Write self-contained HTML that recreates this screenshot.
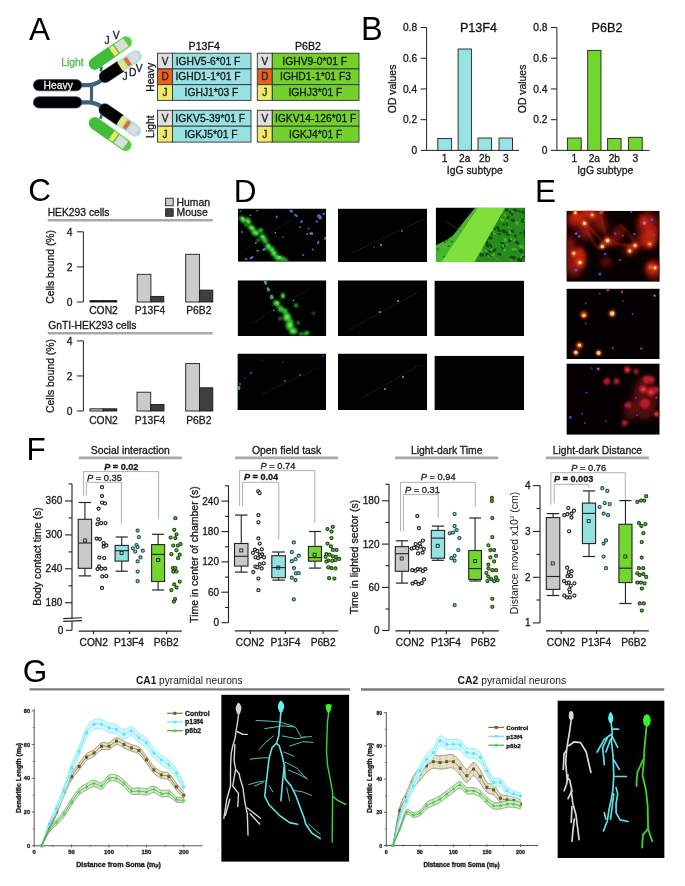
<!DOCTYPE html>
<html><head><meta charset="utf-8"><style>
html,body{margin:0;padding:0;background:#fff;}
body{width:685px;height:886px;overflow:hidden;}
svg{display:block;filter:blur(0.35px);}
text{font-family:"Liberation Sans", sans-serif;}
</style></head><body>
<svg width="685" height="886" viewBox="0 0 685 886">
<rect width="685" height="886" fill="#fff"/>
<text x="29" y="40.2" font-size="31.5" text-anchor="start" fill="#000">A</text>
<text x="28.2" y="201" font-size="31.5" text-anchor="start" fill="#000">C</text>
<text x="233.8" y="202.4" font-size="31.5" text-anchor="start" fill="#000">D</text>
<text x="535.1" y="202.4" font-size="31.5" text-anchor="start" fill="#000">E</text>
<text x="26.5" y="460" font-size="31.5" text-anchor="start" fill="#000">F</text>
<text x="22.8" y="682.2" font-size="31.5" text-anchor="start" fill="#000">G</text>
<text x="361" y="40" font-size="32.5" text-anchor="start" fill="#000">B</text>
<path d="M80 85.2 H88 Q95 85.2 101.5 80.3" fill="none" stroke="#3c6377" stroke-width="4.2"/>
<path d="M80 102.3 H88 Q95 102.3 101.5 106.6" fill="none" stroke="#3c6377" stroke-width="4.2"/>
<line x1="91.5" y1="85.2" x2="91.5" y2="102.3" stroke="#3c6377" stroke-width="3.2"/>
<line x1="101.7" y1="66.5" x2="100.8" y2="71.5" stroke="#3c6377" stroke-width="2.6"/>
<line x1="101.8" y1="114.4" x2="100.4" y2="118.8" stroke="#3c6377" stroke-width="2.6"/>
<rect x="33.4" y="79.6" width="48.4" height="11.2" rx="5.6" fill="#000" stroke="#2c4a5c" stroke-width="0.7"/>
<rect x="33.4" y="96.7" width="48.4" height="11.3" rx="5.6" fill="#000" stroke="#2c4a5c" stroke-width="0.7"/>
<text x="58.2" y="89.1" font-size="10.3" text-anchor="middle" fill="#f2f2f2" stroke="#f2f2f2" stroke-width="0.3">Heavy</text>
<g transform="translate(110.4 53) rotate(-34.4)"><rect x="-24.8" y="-6.0" width="49.6" height="12" rx="6.0" fill="#5acd3e"/><path d="M1.2 -6.0 H-18.8 A6.0 6.0 0 0 0 -18.8 6.0 H1.2 Z" fill="#42bd3a"/><rect x="1.8" y="-4.8" width="4.6" height="9.6" fill="#efea70"/><rect x="8.2" y="-4.7" width="10.4" height="9.4" fill="#dcdce0" stroke="#bfe6b0" stroke-width="0.5"/></g>
<g transform="translate(120.5 66.4) rotate(-33.6)"><rect x="-24.4" y="-6.0" width="48.8" height="12" rx="6.0" fill="#a6e3ec"/><path d="M0 -6.0 H-18.4 A6.0 6.0 0 0 0 -18.4 6.0 H0 Z" fill="#030303" stroke="#2a4658" stroke-width="0.5"/><rect x="-0.6" y="-4.8" width="5" height="9.6" fill="#ece86c"/><rect x="6.4" y="-4.5" width="4" height="9" fill="#ec6a1e"/><rect x="12" y="-4.4" width="8.8" height="8.8" fill="#dedde2" stroke="#c5d0d4" stroke-width="0.4"/></g>
<g transform="translate(120 120.1) rotate(34.6)"><rect x="-24.4" y="-6.0" width="48.8" height="12" rx="6.0" fill="#a6e3ec"/><path d="M0 -6.0 H-18.4 A6.0 6.0 0 0 0 -18.4 6.0 H0 Z" fill="#030303" stroke="#2a4658" stroke-width="0.5"/><rect x="-0.6" y="-4.8" width="5" height="9.6" fill="#ece86c"/><rect x="6.4" y="-4.5" width="4" height="9" fill="#ec6a1e"/><rect x="12" y="-4.4" width="8.8" height="8.8" fill="#dedde2" stroke="#c5d0d4" stroke-width="0.4"/></g>
<g transform="translate(110.2 134.2) rotate(35.4)"><rect x="-24.8" y="-6.0" width="49.6" height="12" rx="6.0" fill="#5acd3e"/><path d="M1.2 -6.0 H-18.8 A6.0 6.0 0 0 0 -18.8 6.0 H1.2 Z" fill="#42bd3a"/><rect x="1.8" y="-4.8" width="4.6" height="9.6" fill="#efea70"/><rect x="8.2" y="-4.7" width="10.4" height="9.4" fill="#dcdce0" stroke="#bfe6b0" stroke-width="0.5"/></g>
<text x="72.4" y="65.7" font-size="10.4" text-anchor="middle" fill="#4dbb4d" stroke="#4dbb4d" stroke-width="0.3">Light</text>
<text x="107.1" y="44" font-size="10.3" text-anchor="middle" fill="#222" stroke="#222" stroke-width="0.3">J</text>
<text x="116.1" y="38.8" font-size="10.3" text-anchor="middle" fill="#222" stroke="#222" stroke-width="0.3">V</text>
<text x="125" y="80.4" font-size="10.3" text-anchor="middle" fill="#222" stroke="#222" stroke-width="0.3">J</text>
<text x="132.6" y="76.4" font-size="10.3" text-anchor="middle" fill="#222" stroke="#222" stroke-width="0.3">D</text>
<text x="139.3" y="71.6" font-size="10.3" text-anchor="middle" fill="#222" stroke="#222" stroke-width="0.3">V</text>
<rect x="157.5" y="53.2" width="15" height="15.73" fill="#dfdfdf" stroke="#333" stroke-width="0.9"/>
<rect x="172.5" y="53.2" width="78.5" height="15.73" fill="#97e0e4" stroke="#333" stroke-width="0.9"/>
<text x="165.0" y="64.665" font-size="10" text-anchor="middle" fill="#222" stroke="#222" stroke-width="0.3">V</text>
<text x="208" y="64.765" font-size="10.3" text-anchor="middle" fill="#161616" stroke="#161616" stroke-width="0.3">IGHV5-6*01 F</text>
<rect x="157.5" y="68.93" width="15" height="15.73" fill="#e8621c" stroke="#333" stroke-width="0.9"/>
<rect x="172.5" y="68.93" width="78.5" height="15.73" fill="#97e0e4" stroke="#333" stroke-width="0.9"/>
<text x="165.0" y="80.395" font-size="10" text-anchor="middle" fill="#222" stroke="#222" stroke-width="0.3">D</text>
<text x="208" y="80.495" font-size="10.3" text-anchor="middle" fill="#161616" stroke="#161616" stroke-width="0.3">IGHD1-1*01 F</text>
<rect x="157.5" y="84.66000000000001" width="15" height="15.73" fill="#efea6c" stroke="#333" stroke-width="0.9"/>
<rect x="172.5" y="84.66000000000001" width="78.5" height="15.73" fill="#97e0e4" stroke="#333" stroke-width="0.9"/>
<text x="165.0" y="96.125" font-size="10" text-anchor="middle" fill="#222" stroke="#222" stroke-width="0.3">J</text>
<text x="211.5" y="96.22500000000001" font-size="10.3" text-anchor="middle" fill="#161616" stroke="#161616" stroke-width="0.3">IGHJ1*03 F</text>
<rect x="257.3" y="53.2" width="15" height="15.73" fill="#dfdfdf" stroke="#333" stroke-width="0.9"/>
<rect x="272.3" y="53.2" width="86.69999999999999" height="15.73" fill="#72d12b" stroke="#333" stroke-width="0.9"/>
<text x="264.8" y="64.665" font-size="10" text-anchor="middle" fill="#222" stroke="#222" stroke-width="0.3">V</text>
<text x="314.7" y="64.765" font-size="10.3" text-anchor="middle" fill="#161616" stroke="#161616" stroke-width="0.3">IGHV9-0*01 F</text>
<rect x="257.3" y="68.93" width="15" height="15.73" fill="#e8621c" stroke="#333" stroke-width="0.9"/>
<rect x="272.3" y="68.93" width="86.69999999999999" height="15.73" fill="#72d12b" stroke="#333" stroke-width="0.9"/>
<text x="264.8" y="80.395" font-size="10" text-anchor="middle" fill="#222" stroke="#222" stroke-width="0.3">D</text>
<text x="315.5" y="80.495" font-size="10.3" text-anchor="middle" fill="#161616" stroke="#161616" stroke-width="0.3">IGHD1-1*01 F3</text>
<rect x="257.3" y="84.66000000000001" width="15" height="15.73" fill="#efea6c" stroke="#333" stroke-width="0.9"/>
<rect x="272.3" y="84.66000000000001" width="86.69999999999999" height="15.73" fill="#72d12b" stroke="#333" stroke-width="0.9"/>
<text x="264.8" y="96.125" font-size="10" text-anchor="middle" fill="#222" stroke="#222" stroke-width="0.3">J</text>
<text x="315.4" y="96.22500000000001" font-size="10.3" text-anchor="middle" fill="#161616" stroke="#161616" stroke-width="0.3">IGHJ3*01 F</text>
<rect x="157.5" y="110.3" width="15" height="15.9" fill="#dfdfdf" stroke="#333" stroke-width="0.9"/>
<rect x="172.5" y="110.3" width="78.5" height="15.9" fill="#97e0e4" stroke="#333" stroke-width="0.9"/>
<text x="165.0" y="121.85" font-size="10" text-anchor="middle" fill="#222" stroke="#222" stroke-width="0.3">V</text>
<text x="210.2" y="121.95" font-size="10.3" text-anchor="middle" fill="#161616" stroke="#161616" stroke-width="0.3">IGKV5-39*01 F</text>
<rect x="157.5" y="126.2" width="15" height="15.9" fill="#efea6c" stroke="#333" stroke-width="0.9"/>
<rect x="172.5" y="126.2" width="78.5" height="15.9" fill="#97e0e4" stroke="#333" stroke-width="0.9"/>
<text x="165.0" y="137.75" font-size="10" text-anchor="middle" fill="#222" stroke="#222" stroke-width="0.3">J</text>
<text x="211" y="137.85" font-size="10.3" text-anchor="middle" fill="#161616" stroke="#161616" stroke-width="0.3">IGKJ5*01 F</text>
<rect x="257.3" y="110.3" width="15" height="15.9" fill="#dfdfdf" stroke="#333" stroke-width="0.9"/>
<rect x="272.3" y="110.3" width="86.69999999999999" height="15.9" fill="#72d12b" stroke="#333" stroke-width="0.9"/>
<text x="264.8" y="121.85" font-size="10" text-anchor="middle" fill="#222" stroke="#222" stroke-width="0.3">V</text>
<text x="315.65" y="121.95" font-size="10.3" text-anchor="middle" fill="#161616" stroke="#161616" stroke-width="0.3">IGKV14-126*01 F</text>
<rect x="257.3" y="126.2" width="15" height="15.9" fill="#efea6c" stroke="#333" stroke-width="0.9"/>
<rect x="272.3" y="126.2" width="86.69999999999999" height="15.9" fill="#72d12b" stroke="#333" stroke-width="0.9"/>
<text x="264.8" y="137.75" font-size="10" text-anchor="middle" fill="#222" stroke="#222" stroke-width="0.3">J</text>
<text x="315.65" y="137.85" font-size="10.3" text-anchor="middle" fill="#161616" stroke="#161616" stroke-width="0.3">IGKJ4*01 F</text>
<text x="204.2" y="49.8" font-size="10.6" text-anchor="middle" fill="#111" stroke="#111" stroke-width="0.3">P13F4</text>
<text x="308" y="49.8" font-size="10.6" text-anchor="middle" fill="#111" stroke="#111" stroke-width="0.3">P6B2</text>
<text x="154.2" y="77.2" font-size="10.2" text-anchor="middle" fill="#111" stroke="#111" stroke-width="0.3" transform="rotate(-90 154.2 77.2)">Heavy</text>
<text x="154.3" y="126.6" font-size="10.4" text-anchor="middle" fill="#111" stroke="#111" stroke-width="0.3" transform="rotate(-90 154.3 126.6)">Light</text>
<line x1="426.6" y1="27.5" x2="426.6" y2="150.4" stroke="#222" stroke-width="1"/>
<line x1="426.6" y1="150.4" x2="519" y2="150.4" stroke="#222" stroke-width="1"/>
<line x1="420.6" y1="150.4" x2="426.6" y2="150.4" stroke="#222" stroke-width="1"/>
<text x="417.1" y="154.0" font-size="10.2" text-anchor="end" fill="#1a1a1a" stroke="#1a1a1a" stroke-width="0.3">0</text>
<line x1="420.6" y1="119.67500000000001" x2="426.6" y2="119.67500000000001" stroke="#222" stroke-width="1"/>
<text x="417.1" y="123.275" font-size="10.2" text-anchor="end" fill="#1a1a1a" stroke="#1a1a1a" stroke-width="0.3">0.2</text>
<line x1="420.6" y1="88.95" x2="426.6" y2="88.95" stroke="#222" stroke-width="1"/>
<text x="417.1" y="92.55" font-size="10.2" text-anchor="end" fill="#1a1a1a" stroke="#1a1a1a" stroke-width="0.3">0.4</text>
<line x1="420.6" y1="58.224999999999994" x2="426.6" y2="58.224999999999994" stroke="#222" stroke-width="1"/>
<text x="417.1" y="61.824999999999996" font-size="10.2" text-anchor="end" fill="#1a1a1a" stroke="#1a1a1a" stroke-width="0.3">0.6</text>
<line x1="420.6" y1="27.5" x2="426.6" y2="27.5" stroke="#222" stroke-width="1"/>
<text x="417.1" y="31.1" font-size="10.2" text-anchor="end" fill="#1a1a1a" stroke="#1a1a1a" stroke-width="0.3">0.8</text>
<rect x="437.8" y="138.5" width="13.800000000000011" height="11.900000000000006" fill="#97e2e2" stroke="#222" stroke-width="0.9"/>
<text x="444.70000000000005" y="161.8" font-size="10.2" text-anchor="middle" fill="#1a1a1a" stroke="#1a1a1a" stroke-width="0.3">1</text>
<rect x="458.1" y="49" width="13.299999999999955" height="101.4" fill="#97e2e2" stroke="#222" stroke-width="0.9"/>
<text x="464.75" y="161.8" font-size="10.2" text-anchor="middle" fill="#1a1a1a" stroke="#1a1a1a" stroke-width="0.3">2a</text>
<rect x="478" y="138" width="13.5" height="12.400000000000006" fill="#97e2e2" stroke="#222" stroke-width="0.9"/>
<text x="484.75" y="161.8" font-size="10.2" text-anchor="middle" fill="#1a1a1a" stroke="#1a1a1a" stroke-width="0.3">2b</text>
<rect x="499" y="138" width="13.5" height="12.400000000000006" fill="#97e2e2" stroke="#222" stroke-width="0.9"/>
<text x="505.75" y="161.8" font-size="10.2" text-anchor="middle" fill="#1a1a1a" stroke="#1a1a1a" stroke-width="0.3">3</text>
<text x="478.5" y="32.2" font-size="12.6" text-anchor="middle" fill="#111" stroke="#111" stroke-width="0.3">P13F4</text>
<text x="474.8" y="173.6" font-size="10.4" text-anchor="middle" fill="#1a1a1a" stroke="#1a1a1a" stroke-width="0.3">IgG subtype</text>
<text x="395.6" y="88.9" font-size="10.4" text-anchor="middle" fill="#1a1a1a" stroke="#1a1a1a" stroke-width="0.3" transform="rotate(-90 395.6 88.9)">OD values</text>
<line x1="556.9" y1="27.5" x2="556.9" y2="150.4" stroke="#222" stroke-width="1"/>
<line x1="556.9" y1="150.4" x2="649.6" y2="150.4" stroke="#222" stroke-width="1"/>
<line x1="550.9" y1="150.4" x2="556.9" y2="150.4" stroke="#222" stroke-width="1"/>
<text x="547.4" y="154.0" font-size="10.2" text-anchor="end" fill="#1a1a1a" stroke="#1a1a1a" stroke-width="0.3">0</text>
<line x1="550.9" y1="119.67500000000001" x2="556.9" y2="119.67500000000001" stroke="#222" stroke-width="1"/>
<text x="547.4" y="123.275" font-size="10.2" text-anchor="end" fill="#1a1a1a" stroke="#1a1a1a" stroke-width="0.3">0.2</text>
<line x1="550.9" y1="88.95" x2="556.9" y2="88.95" stroke="#222" stroke-width="1"/>
<text x="547.4" y="92.55" font-size="10.2" text-anchor="end" fill="#1a1a1a" stroke="#1a1a1a" stroke-width="0.3">0.4</text>
<line x1="550.9" y1="58.224999999999994" x2="556.9" y2="58.224999999999994" stroke="#222" stroke-width="1"/>
<text x="547.4" y="61.824999999999996" font-size="10.2" text-anchor="end" fill="#1a1a1a" stroke="#1a1a1a" stroke-width="0.3">0.6</text>
<line x1="550.9" y1="27.5" x2="556.9" y2="27.5" stroke="#222" stroke-width="1"/>
<text x="547.4" y="31.1" font-size="10.2" text-anchor="end" fill="#1a1a1a" stroke="#1a1a1a" stroke-width="0.3">0.8</text>
<rect x="567.4" y="138" width="13.800000000000068" height="12.400000000000006" fill="#72d62c" stroke="#222" stroke-width="0.9"/>
<text x="574.3" y="161.8" font-size="10.2" text-anchor="middle" fill="#1a1a1a" stroke="#1a1a1a" stroke-width="0.3">1</text>
<rect x="587.7" y="50.4" width="13.299999999999955" height="100.0" fill="#72d62c" stroke="#222" stroke-width="0.9"/>
<text x="594.35" y="161.8" font-size="10.2" text-anchor="middle" fill="#1a1a1a" stroke="#1a1a1a" stroke-width="0.3">2a</text>
<rect x="607.6" y="138.5" width="13.5" height="11.900000000000006" fill="#72d62c" stroke="#222" stroke-width="0.9"/>
<text x="614.35" y="161.8" font-size="10.2" text-anchor="middle" fill="#1a1a1a" stroke="#1a1a1a" stroke-width="0.3">2b</text>
<rect x="628.6" y="137.3" width="13.600000000000023" height="13.099999999999994" fill="#72d62c" stroke="#222" stroke-width="0.9"/>
<text x="635.4000000000001" y="161.8" font-size="10.2" text-anchor="middle" fill="#1a1a1a" stroke="#1a1a1a" stroke-width="0.3">3</text>
<text x="607" y="32.2" font-size="12.6" text-anchor="middle" fill="#111" stroke="#111" stroke-width="0.3">P6B2</text>
<text x="605.25" y="173.6" font-size="10.4" text-anchor="middle" fill="#1a1a1a" stroke="#1a1a1a" stroke-width="0.3">IgG subtype</text>
<text x="525.9" y="88.9" font-size="10.4" text-anchor="middle" fill="#1a1a1a" stroke="#1a1a1a" stroke-width="0.3" transform="rotate(-90 525.9 88.9)">OD values</text>
<line x1="83.4" y1="231.8" x2="83.4" y2="302" stroke="#222" stroke-width="1"/>
<line x1="76.9" y1="231.8" x2="83.4" y2="231.8" stroke="#222" stroke-width="1"/>
<text x="72.4" y="235.5" font-size="10.3" text-anchor="end" fill="#1a1a1a" stroke="#1a1a1a" stroke-width="0.3">4</text>
<line x1="76.9" y1="266.9" x2="83.4" y2="266.9" stroke="#222" stroke-width="1"/>
<text x="72.4" y="270.59999999999997" font-size="10.3" text-anchor="end" fill="#1a1a1a" stroke="#1a1a1a" stroke-width="0.3">2</text>
<line x1="76.9" y1="302" x2="83.4" y2="302" stroke="#222" stroke-width="1"/>
<text x="72.4" y="305.7" font-size="10.3" text-anchor="end" fill="#1a1a1a" stroke="#1a1a1a" stroke-width="0.3">0</text>
<rect x="90" y="300.6" width="13.200000000000003" height="1.3999999999999773" fill="#111" stroke="#1a1a1a" stroke-width="0.9"/>
<rect x="103.2" y="300.6" width="13.599999999999994" height="1.3999999999999773" fill="#111" stroke="#1a1a1a" stroke-width="0.9"/>
<rect x="137.2" y="274.3" width="13.700000000000017" height="27.69999999999999" fill="#cbcbcb" stroke="#1a1a1a" stroke-width="0.9"/>
<rect x="150.9" y="296.4" width="12.900000000000006" height="5.600000000000023" fill="#3f3f3f" stroke="#1a1a1a" stroke-width="0.9"/>
<rect x="185.7" y="254.3" width="13.900000000000006" height="47.69999999999999" fill="#cbcbcb" stroke="#1a1a1a" stroke-width="0.9"/>
<rect x="199.6" y="290.1" width="13.200000000000017" height="11.899999999999977" fill="#3f3f3f" stroke="#1a1a1a" stroke-width="0.9"/>
<text x="103.5" y="314" font-size="10.3" text-anchor="middle" fill="#1a1a1a" stroke="#1a1a1a" stroke-width="0.3">CON2</text>
<text x="150" y="314" font-size="10.3" text-anchor="middle" fill="#1a1a1a" stroke="#1a1a1a" stroke-width="0.3">P13F4</text>
<text x="198.8" y="314" font-size="10.3" text-anchor="middle" fill="#1a1a1a" stroke="#1a1a1a" stroke-width="0.3">P6B2</text>
<text x="54.400000000000006" y="266.9" font-size="10.4" text-anchor="middle" fill="#1a1a1a" stroke="#1a1a1a" stroke-width="0.3" transform="rotate(-90 54.400000000000006 266.9)">Cells bound (%)</text>
<line x1="83.4" y1="340.9" x2="83.4" y2="411" stroke="#222" stroke-width="1"/>
<line x1="76.9" y1="340.9" x2="83.4" y2="340.9" stroke="#222" stroke-width="1"/>
<text x="72.4" y="344.59999999999997" font-size="10.3" text-anchor="end" fill="#1a1a1a" stroke="#1a1a1a" stroke-width="0.3">4</text>
<line x1="76.9" y1="375.95" x2="83.4" y2="375.95" stroke="#222" stroke-width="1"/>
<text x="72.4" y="379.65" font-size="10.3" text-anchor="end" fill="#1a1a1a" stroke="#1a1a1a" stroke-width="0.3">2</text>
<line x1="76.9" y1="411" x2="83.4" y2="411" stroke="#222" stroke-width="1"/>
<text x="72.4" y="414.7" font-size="10.3" text-anchor="end" fill="#1a1a1a" stroke="#1a1a1a" stroke-width="0.3">0</text>
<rect x="90" y="408.8" width="13.200000000000003" height="2.1999999999999886" fill="#cbcbcb" stroke="#1a1a1a" stroke-width="0.9"/>
<rect x="103.2" y="408.8" width="13.599999999999994" height="2.1999999999999886" fill="#3f3f3f" stroke="#1a1a1a" stroke-width="0.9"/>
<rect x="137" y="392.2" width="13.699999999999989" height="18.80000000000001" fill="#cbcbcb" stroke="#1a1a1a" stroke-width="0.9"/>
<rect x="150.7" y="404.5" width="13.300000000000011" height="6.5" fill="#3f3f3f" stroke="#1a1a1a" stroke-width="0.9"/>
<rect x="185.7" y="363.6" width="13.900000000000006" height="47.39999999999998" fill="#cbcbcb" stroke="#1a1a1a" stroke-width="0.9"/>
<rect x="199.6" y="387.8" width="13.200000000000017" height="23.19999999999999" fill="#3f3f3f" stroke="#1a1a1a" stroke-width="0.9"/>
<text x="103.5" y="424.2" font-size="10.3" text-anchor="middle" fill="#1a1a1a" stroke="#1a1a1a" stroke-width="0.3">CON2</text>
<text x="150" y="424.2" font-size="10.3" text-anchor="middle" fill="#1a1a1a" stroke="#1a1a1a" stroke-width="0.3">P13F4</text>
<text x="198.8" y="424.2" font-size="10.3" text-anchor="middle" fill="#1a1a1a" stroke="#1a1a1a" stroke-width="0.3">P6B2</text>
<text x="54.400000000000006" y="375.95" font-size="10.4" text-anchor="middle" fill="#1a1a1a" stroke="#1a1a1a" stroke-width="0.3" transform="rotate(-90 54.400000000000006 375.95)">Cells bound (%)</text>
<text x="47.7" y="216" font-size="10.3" text-anchor="start" fill="#1a1a1a" stroke="#1a1a1a" stroke-width="0.3">HEK293 cells</text>
<text x="48.3" y="328.9" font-size="10.3" text-anchor="start" fill="#1a1a1a" stroke="#1a1a1a" stroke-width="0.3">GnTI-HEK293 cells</text>
<line x1="47.7" y1="220.3" x2="212.7" y2="220.3" stroke="#a9a9a9" stroke-width="2.6"/>
<line x1="47.7" y1="333.2" x2="212.7" y2="333.2" stroke="#a9a9a9" stroke-width="2.6"/>
<rect x="165.6" y="198.2" width="7.6" height="7.6" fill="#cbcbcb" stroke="#222" stroke-width="0.9"/>
<rect x="165.6" y="208.7" width="7.6" height="7.6" fill="#3f3f3f" stroke="#222" stroke-width="0.9"/>
<text x="176.5" y="205.5" font-size="10.4" text-anchor="start" fill="#1a1a1a" stroke="#1a1a1a" stroke-width="0.3">Human</text>
<text x="176.5" y="216" font-size="10.4" text-anchor="start" fill="#1a1a1a" stroke="#1a1a1a" stroke-width="0.3">Mouse</text>
<text x="130.3" y="454.1" font-size="10.4" text-anchor="middle" fill="#1a1a1a" stroke="#1a1a1a" stroke-width="0.3">Social interaction</text>
<line x1="78.8" y1="457.9" x2="181.8" y2="457.9" stroke="#a9a9a9" stroke-width="2.6"/>
<text x="104.2" y="469.9" font-size="9.1" fill="#1a1a1a" stroke="#1a1a1a" stroke-width="0.3" font-weight="bold"><tspan font-style="italic">P</tspan> = 0.02</text>
<text x="87" y="480.6" font-size="9.3" fill="#1a1a1a" stroke="#1a1a1a" stroke-width="0.3" font-weight="normal"><tspan font-style="italic">P</tspan> = 0.35</text>
<path d="M83.6 495.8 V471.6 H158.6 V519.1" fill="none" stroke="#a6a6a6" stroke-width="0.9"/>
<path d="M86.4 495.8 V482.3 H121.4 V523.8" fill="none" stroke="#a6a6a6" stroke-width="0.9"/>
<line x1="72" y1="483.7" x2="72" y2="618.2" stroke="#222" stroke-width="1.1"/>
<line x1="72" y1="621.3" x2="72" y2="630.3" stroke="#222" stroke-width="1.1"/>
<line x1="65" y1="501" x2="72" y2="501" stroke="#222" stroke-width="1.1"/>
<text x="62.3" y="504.4" font-size="10.0" text-anchor="end" fill="#1a1a1a" stroke="#1a1a1a" stroke-width="0.3">360</text>
<line x1="65" y1="534.9" x2="72" y2="534.9" stroke="#222" stroke-width="1.1"/>
<text x="62.3" y="538.3" font-size="10.0" text-anchor="end" fill="#1a1a1a" stroke="#1a1a1a" stroke-width="0.3">300</text>
<line x1="65" y1="568.8" x2="72" y2="568.8" stroke="#222" stroke-width="1.1"/>
<text x="62.3" y="572.1999999999999" font-size="10.0" text-anchor="end" fill="#1a1a1a" stroke="#1a1a1a" stroke-width="0.3">240</text>
<line x1="65" y1="602.7" x2="72" y2="602.7" stroke="#222" stroke-width="1.1"/>
<text x="62.3" y="606.1" font-size="10.0" text-anchor="end" fill="#1a1a1a" stroke="#1a1a1a" stroke-width="0.3">180</text>
<line x1="68.5" y1="483.9" x2="72" y2="483.9" stroke="#222" stroke-width="1.1"/>
<line x1="68.5" y1="517.9" x2="72" y2="517.9" stroke="#222" stroke-width="1.1"/>
<line x1="68.5" y1="551.9" x2="72" y2="551.9" stroke="#222" stroke-width="1.1"/>
<line x1="68.5" y1="585.8" x2="72" y2="585.8" stroke="#222" stroke-width="1.1"/>
<line x1="65.8" y1="630.3" x2="72" y2="630.3" stroke="#222" stroke-width="1.1"/>
<text x="63.3" y="633.7" font-size="10.0" text-anchor="end" fill="#1a1a1a" stroke="#1a1a1a" stroke-width="0.3">0</text>
<line x1="63.2" y1="618.6" x2="82" y2="617.8" stroke="#222" stroke-width="1.1"/>
<line x1="63.2" y1="621.4" x2="82" y2="620.6" stroke="#222" stroke-width="1.1"/>
<line x1="78.6" y1="631.1" x2="181.8" y2="631.1" stroke="#222" stroke-width="1.1"/>
<line x1="93.5" y1="631.1" x2="93.5" y2="634.1" stroke="#222" stroke-width="1.1"/>
<line x1="129.7" y1="631.1" x2="129.7" y2="634.1" stroke="#222" stroke-width="1.1"/>
<line x1="166.6" y1="631.1" x2="166.6" y2="634.1" stroke="#222" stroke-width="1.1"/>
<text x="93.7" y="645.9" font-size="10.2" text-anchor="middle" fill="#1a1a1a" stroke="#1a1a1a" stroke-width="0.3">CON2</text>
<text x="129" y="645.9" font-size="10.2" text-anchor="middle" fill="#1a1a1a" stroke="#1a1a1a" stroke-width="0.3">P13F4</text>
<text x="166.2" y="645.9" font-size="10.2" text-anchor="middle" fill="#1a1a1a" stroke="#1a1a1a" stroke-width="0.3">P6B2</text>
<text x="41" y="556.5" font-size="10.5" text-anchor="middle" fill="#1a1a1a" stroke="#1a1a1a" stroke-width="0.3" transform="rotate(-90 41 556.5)">Body contact time (s)</text>
<line x1="84.9" y1="502.5" x2="84.9" y2="519.3" stroke="#222" stroke-width="1.1"/>
<line x1="84.9" y1="568.3" x2="84.9" y2="575.9" stroke="#222" stroke-width="1.1"/>
<line x1="78.7" y1="502.5" x2="91.1" y2="502.5" stroke="#222" stroke-width="1.2"/>
<line x1="78.7" y1="575.9" x2="91.1" y2="575.9" stroke="#222" stroke-width="1.2"/>
<rect x="78.2" y="519.3" width="13.399999999999991" height="49.0" fill="#c9c9c9" stroke="#222" stroke-width="1.1"/>
<line x1="78.2" y1="543" x2="91.6" y2="543" stroke="#222" stroke-width="1.1"/>
<rect x="83.6" y="539.0" width="3" height="3" fill="none" stroke="#222" stroke-width="0.9"/>
<line x1="121.7" y1="537" x2="121.7" y2="545.4" stroke="#222" stroke-width="1.1"/>
<line x1="121.7" y1="561.1" x2="121.7" y2="571.2" stroke="#222" stroke-width="1.1"/>
<line x1="115.6" y1="537" x2="127.80000000000001" y2="537" stroke="#222" stroke-width="1.2"/>
<line x1="115.6" y1="571.2" x2="127.80000000000001" y2="571.2" stroke="#222" stroke-width="1.2"/>
<rect x="115.1" y="545.4" width="13.200000000000017" height="15.700000000000045" fill="#92e2e0" stroke="#222" stroke-width="1.1"/>
<line x1="115.1" y1="550.7" x2="128.3" y2="550.7" stroke="#222" stroke-width="1.1"/>
<rect x="120.1" y="551.6" width="3" height="3" fill="none" stroke="#222" stroke-width="0.9"/>
<line x1="158.1" y1="534.3" x2="158.1" y2="544.6" stroke="#222" stroke-width="1.1"/>
<line x1="158.1" y1="581.5" x2="158.1" y2="590" stroke="#222" stroke-width="1.1"/>
<line x1="152.1" y1="534.3" x2="164.1" y2="534.3" stroke="#222" stroke-width="1.2"/>
<line x1="152.1" y1="590" x2="164.1" y2="590" stroke="#222" stroke-width="1.2"/>
<rect x="151.6" y="544.6" width="13.0" height="36.89999999999998" fill="#72d62c" stroke="#222" stroke-width="1.1"/>
<line x1="151.6" y1="554.4" x2="164.6" y2="554.4" stroke="#222" stroke-width="1.1"/>
<rect x="156.7" y="558.5" width="3" height="3" fill="none" stroke="#222" stroke-width="0.9"/>
<circle cx="102" cy="487.2" r="1.55" fill="#ffffff" stroke="#1e1e1e" stroke-width="1.15"/>
<circle cx="102" cy="496.1" r="1.55" fill="#ffffff" stroke="#1e1e1e" stroke-width="1.15"/>
<circle cx="102" cy="502.5" r="1.55" fill="#ffffff" stroke="#1e1e1e" stroke-width="1.15"/>
<circle cx="105" cy="503.4" r="1.55" fill="#ffffff" stroke="#1e1e1e" stroke-width="1.15"/>
<circle cx="98.6" cy="508.6" r="1.55" fill="#ffffff" stroke="#1e1e1e" stroke-width="1.15"/>
<circle cx="98.3" cy="519.3" r="1.55" fill="#ffffff" stroke="#1e1e1e" stroke-width="1.15"/>
<circle cx="97.5" cy="524.2" r="1.55" fill="#ffffff" stroke="#1e1e1e" stroke-width="1.15"/>
<circle cx="101.2" cy="523" r="1.55" fill="#ffffff" stroke="#1e1e1e" stroke-width="1.15"/>
<circle cx="105.5" cy="523" r="1.55" fill="#ffffff" stroke="#1e1e1e" stroke-width="1.15"/>
<circle cx="96.7" cy="538.6" r="1.55" fill="#ffffff" stroke="#1e1e1e" stroke-width="1.15"/>
<circle cx="99.9" cy="539.1" r="1.55" fill="#ffffff" stroke="#1e1e1e" stroke-width="1.15"/>
<circle cx="103.6" cy="543" r="1.55" fill="#ffffff" stroke="#1e1e1e" stroke-width="1.15"/>
<circle cx="106.3" cy="545.4" r="1.55" fill="#ffffff" stroke="#1e1e1e" stroke-width="1.15"/>
<circle cx="103.6" cy="546.6" r="1.55" fill="#ffffff" stroke="#1e1e1e" stroke-width="1.15"/>
<circle cx="99.4" cy="557.6" r="1.55" fill="#ffffff" stroke="#1e1e1e" stroke-width="1.15"/>
<circle cx="104.2" cy="558" r="1.55" fill="#ffffff" stroke="#1e1e1e" stroke-width="1.15"/>
<circle cx="99.1" cy="566.4" r="1.55" fill="#ffffff" stroke="#1e1e1e" stroke-width="1.15"/>
<circle cx="97.5" cy="569.1" r="1.55" fill="#ffffff" stroke="#1e1e1e" stroke-width="1.15"/>
<circle cx="101.5" cy="568.8" r="1.55" fill="#ffffff" stroke="#1e1e1e" stroke-width="1.15"/>
<circle cx="105.2" cy="568.6" r="1.55" fill="#ffffff" stroke="#1e1e1e" stroke-width="1.15"/>
<circle cx="102.3" cy="576.4" r="1.55" fill="#ffffff" stroke="#1e1e1e" stroke-width="1.15"/>
<circle cx="106.3" cy="576" r="1.55" fill="#ffffff" stroke="#1e1e1e" stroke-width="1.15"/>
<circle cx="102" cy="587.9" r="1.55" fill="#ffffff" stroke="#1e1e1e" stroke-width="1.15"/>
<circle cx="137.6" cy="530.6" r="1.55" fill="#8fdcd6" stroke="#214f4a" stroke-width="1.15"/>
<circle cx="138.9" cy="537" r="1.55" fill="#8fdcd6" stroke="#214f4a" stroke-width="1.15"/>
<circle cx="136.5" cy="545" r="1.55" fill="#8fdcd6" stroke="#214f4a" stroke-width="1.15"/>
<circle cx="132.8" cy="548.3" r="1.55" fill="#8fdcd6" stroke="#214f4a" stroke-width="1.15"/>
<circle cx="137.6" cy="547.1" r="1.55" fill="#8fdcd6" stroke="#214f4a" stroke-width="1.15"/>
<circle cx="135.2" cy="551.5" r="1.55" fill="#8fdcd6" stroke="#214f4a" stroke-width="1.15"/>
<circle cx="142.8" cy="550.7" r="1.55" fill="#8fdcd6" stroke="#214f4a" stroke-width="1.15"/>
<circle cx="140.5" cy="557.4" r="1.55" fill="#8fdcd6" stroke="#214f4a" stroke-width="1.15"/>
<circle cx="137.6" cy="561.4" r="1.55" fill="#8fdcd6" stroke="#214f4a" stroke-width="1.15"/>
<circle cx="137.6" cy="571.5" r="1.55" fill="#8fdcd6" stroke="#214f4a" stroke-width="1.15"/>
<circle cx="137.6" cy="581.2" r="1.55" fill="#8fdcd6" stroke="#214f4a" stroke-width="1.15"/>
<circle cx="175.4" cy="518.2" r="1.55" fill="#62c43a" stroke="#214a16" stroke-width="1.15"/>
<circle cx="174.2" cy="529.8" r="1.55" fill="#62c43a" stroke="#214a16" stroke-width="1.15"/>
<circle cx="176.5" cy="534.3" r="1.55" fill="#62c43a" stroke="#214a16" stroke-width="1.15"/>
<circle cx="170.6" cy="537.5" r="1.55" fill="#62c43a" stroke="#214a16" stroke-width="1.15"/>
<circle cx="175.4" cy="538.1" r="1.55" fill="#62c43a" stroke="#214a16" stroke-width="1.15"/>
<circle cx="173.3" cy="545.5" r="1.55" fill="#62c43a" stroke="#214a16" stroke-width="1.15"/>
<circle cx="177.8" cy="545.5" r="1.55" fill="#62c43a" stroke="#214a16" stroke-width="1.15"/>
<circle cx="180.5" cy="544.2" r="1.55" fill="#62c43a" stroke="#214a16" stroke-width="1.15"/>
<circle cx="176.5" cy="550.3" r="1.55" fill="#62c43a" stroke="#214a16" stroke-width="1.15"/>
<circle cx="179.7" cy="554.7" r="1.55" fill="#62c43a" stroke="#214a16" stroke-width="1.15"/>
<circle cx="171.4" cy="554.2" r="1.55" fill="#62c43a" stroke="#214a16" stroke-width="1.15"/>
<circle cx="178.1" cy="558.2" r="1.55" fill="#62c43a" stroke="#214a16" stroke-width="1.15"/>
<circle cx="173" cy="568" r="1.55" fill="#62c43a" stroke="#214a16" stroke-width="1.15"/>
<circle cx="175.4" cy="568" r="1.55" fill="#62c43a" stroke="#214a16" stroke-width="1.15"/>
<circle cx="173.3" cy="571.5" r="1.55" fill="#62c43a" stroke="#214a16" stroke-width="1.15"/>
<circle cx="176.5" cy="571.5" r="1.55" fill="#62c43a" stroke="#214a16" stroke-width="1.15"/>
<circle cx="179.7" cy="581.5" r="1.55" fill="#62c43a" stroke="#214a16" stroke-width="1.15"/>
<circle cx="174.2" cy="584.4" r="1.55" fill="#62c43a" stroke="#214a16" stroke-width="1.15"/>
<circle cx="176.5" cy="587.6" r="1.55" fill="#62c43a" stroke="#214a16" stroke-width="1.15"/>
<circle cx="171.4" cy="590" r="1.55" fill="#62c43a" stroke="#214a16" stroke-width="1.15"/>
<circle cx="175.1" cy="599.1" r="1.55" fill="#62c43a" stroke="#214a16" stroke-width="1.15"/>
<circle cx="173.9" cy="601.6" r="1.55" fill="#62c43a" stroke="#214a16" stroke-width="1.15"/>
<text x="286.6" y="454.1" font-size="10.4" text-anchor="middle" fill="#1a1a1a" stroke="#1a1a1a" stroke-width="0.3">Open field task</text>
<line x1="235.1" y1="457.9" x2="338.1" y2="457.9" stroke="#a9a9a9" stroke-width="2.6"/>
<text x="260.5" y="469.2" font-size="9.3" fill="#1a1a1a" stroke="#1a1a1a" stroke-width="0.3" font-weight="normal"><tspan font-style="italic">P</tspan> = 0.74</text>
<text x="244" y="479.8" font-size="9.1" fill="#1a1a1a" stroke="#1a1a1a" stroke-width="0.3" font-weight="bold"><tspan font-style="italic">P</tspan> = 0.04</text>
<path d="M239.6 505.8 V470.6 H314.8 V523" fill="none" stroke="#a6a6a6" stroke-width="0.9"/>
<path d="M242.5 505.8 V482.3 H278.8 V539.2" fill="none" stroke="#a6a6a6" stroke-width="0.9"/>
<line x1="228.5" y1="485.5" x2="228.5" y2="622.7" stroke="#222" stroke-width="1.1"/>
<line x1="221.5" y1="501.1" x2="228.5" y2="501.1" stroke="#222" stroke-width="1.1"/>
<text x="219.0" y="504.5" font-size="10.0" text-anchor="end" fill="#1a1a1a" stroke="#1a1a1a" stroke-width="0.3">240</text>
<line x1="221.5" y1="531.6" x2="228.5" y2="531.6" stroke="#222" stroke-width="1.1"/>
<text x="219.0" y="535.0" font-size="10.0" text-anchor="end" fill="#1a1a1a" stroke="#1a1a1a" stroke-width="0.3">180</text>
<line x1="221.5" y1="561.9" x2="228.5" y2="561.9" stroke="#222" stroke-width="1.1"/>
<text x="219.0" y="565.3" font-size="10.0" text-anchor="end" fill="#1a1a1a" stroke="#1a1a1a" stroke-width="0.3">120</text>
<line x1="221.5" y1="592.2" x2="228.5" y2="592.2" stroke="#222" stroke-width="1.1"/>
<text x="219.0" y="595.6" font-size="10.0" text-anchor="end" fill="#1a1a1a" stroke="#1a1a1a" stroke-width="0.3">60</text>
<line x1="221.5" y1="622.7" x2="228.5" y2="622.7" stroke="#222" stroke-width="1.1"/>
<text x="219.0" y="626.1" font-size="10.0" text-anchor="end" fill="#1a1a1a" stroke="#1a1a1a" stroke-width="0.3">0</text>
<line x1="225.0" y1="485.8" x2="228.5" y2="485.8" stroke="#222" stroke-width="1.1"/>
<line x1="225.0" y1="516.4" x2="228.5" y2="516.4" stroke="#222" stroke-width="1.1"/>
<line x1="225.0" y1="546.8" x2="228.5" y2="546.8" stroke="#222" stroke-width="1.1"/>
<line x1="225.0" y1="577.1" x2="228.5" y2="577.1" stroke="#222" stroke-width="1.1"/>
<line x1="225.0" y1="607.5" x2="228.5" y2="607.5" stroke="#222" stroke-width="1.1"/>
<line x1="234.8" y1="630.9" x2="338.3" y2="630.9" stroke="#222" stroke-width="1.1"/>
<line x1="250.3" y1="630.9" x2="250.3" y2="633.9" stroke="#222" stroke-width="1.1"/>
<line x1="285.3" y1="630.9" x2="285.3" y2="633.9" stroke="#222" stroke-width="1.1"/>
<line x1="323.1" y1="630.9" x2="323.1" y2="633.9" stroke="#222" stroke-width="1.1"/>
<text x="250" y="645.9" font-size="10.2" text-anchor="middle" fill="#1a1a1a" stroke="#1a1a1a" stroke-width="0.3">CON2</text>
<text x="285.4" y="645.9" font-size="10.2" text-anchor="middle" fill="#1a1a1a" stroke="#1a1a1a" stroke-width="0.3">P13F4</text>
<text x="323.1" y="645.9" font-size="10.2" text-anchor="middle" fill="#1a1a1a" stroke="#1a1a1a" stroke-width="0.3">P6B2</text>
<text x="197.5" y="554.5" font-size="10.5" text-anchor="middle" fill="#1a1a1a" stroke="#1a1a1a" stroke-width="0.3" transform="rotate(-90 197.5 554.5)">Time in center of chamber (s)</text>
<line x1="241.25" y1="515.1" x2="241.25" y2="543.5" stroke="#222" stroke-width="1.1"/>
<line x1="241.25" y1="566.1" x2="241.25" y2="572.1" stroke="#222" stroke-width="1.1"/>
<line x1="235.0" y1="515.1" x2="247.5" y2="515.1" stroke="#222" stroke-width="1.2"/>
<line x1="235.0" y1="572.1" x2="247.5" y2="572.1" stroke="#222" stroke-width="1.2"/>
<rect x="234.5" y="543.5" width="13.5" height="22.600000000000023" fill="#c9c9c9" stroke="#222" stroke-width="1.1"/>
<line x1="234.5" y1="556.3" x2="248" y2="556.3" stroke="#222" stroke-width="1.1"/>
<rect x="239.7" y="548.9" width="3" height="3" fill="none" stroke="#222" stroke-width="0.9"/>
<line x1="278.6" y1="552" x2="278.6" y2="555.7" stroke="#222" stroke-width="1.1"/>
<line x1="278.6" y1="577.7" x2="278.6" y2="580.1" stroke="#222" stroke-width="1.1"/>
<line x1="272.3" y1="552" x2="284.9" y2="552" stroke="#222" stroke-width="1.2"/>
<line x1="272.3" y1="580.1" x2="284.9" y2="580.1" stroke="#222" stroke-width="1.2"/>
<rect x="271.8" y="555.7" width="13.599999999999966" height="22.0" fill="#92e2e0" stroke="#222" stroke-width="1.1"/>
<line x1="271.8" y1="567.6" x2="285.4" y2="567.6" stroke="#222" stroke-width="1.1"/>
<rect x="276.7" y="566.1" width="3" height="3" fill="none" stroke="#222" stroke-width="0.9"/>
<line x1="314.95" y1="531.5" x2="314.95" y2="546.4" stroke="#222" stroke-width="1.1"/>
<line x1="314.95" y1="561.2" x2="314.95" y2="568.1" stroke="#222" stroke-width="1.1"/>
<line x1="308.9" y1="531.5" x2="321.0" y2="531.5" stroke="#222" stroke-width="1.2"/>
<line x1="308.9" y1="568.1" x2="321.0" y2="568.1" stroke="#222" stroke-width="1.2"/>
<rect x="308.4" y="546.4" width="13.100000000000023" height="14.800000000000068" fill="#72d62c" stroke="#222" stroke-width="1.1"/>
<line x1="308.4" y1="557.6" x2="321.5" y2="557.6" stroke="#222" stroke-width="1.1"/>
<rect x="313.1" y="553.2" width="3" height="3" fill="none" stroke="#222" stroke-width="0.9"/>
<circle cx="258.2" cy="491.3" r="1.55" fill="#ffffff" stroke="#1e1e1e" stroke-width="1.15"/>
<circle cx="259.6" cy="493" r="1.55" fill="#ffffff" stroke="#1e1e1e" stroke-width="1.15"/>
<circle cx="258.4" cy="515.1" r="1.55" fill="#ffffff" stroke="#1e1e1e" stroke-width="1.15"/>
<circle cx="258.4" cy="522.3" r="1.55" fill="#ffffff" stroke="#1e1e1e" stroke-width="1.15"/>
<circle cx="258.4" cy="538.4" r="1.55" fill="#ffffff" stroke="#1e1e1e" stroke-width="1.15"/>
<circle cx="259.7" cy="543.5" r="1.55" fill="#ffffff" stroke="#1e1e1e" stroke-width="1.15"/>
<circle cx="254.9" cy="549.6" r="1.55" fill="#ffffff" stroke="#1e1e1e" stroke-width="1.15"/>
<circle cx="257.3" cy="551.2" r="1.55" fill="#ffffff" stroke="#1e1e1e" stroke-width="1.15"/>
<circle cx="261.8" cy="549.3" r="1.55" fill="#ffffff" stroke="#1e1e1e" stroke-width="1.15"/>
<circle cx="253" cy="552.8" r="1.55" fill="#ffffff" stroke="#1e1e1e" stroke-width="1.15"/>
<circle cx="259.7" cy="554.7" r="1.55" fill="#ffffff" stroke="#1e1e1e" stroke-width="1.15"/>
<circle cx="262.1" cy="554.4" r="1.55" fill="#ffffff" stroke="#1e1e1e" stroke-width="1.15"/>
<circle cx="255.4" cy="557.3" r="1.55" fill="#ffffff" stroke="#1e1e1e" stroke-width="1.15"/>
<circle cx="258.1" cy="558" r="1.55" fill="#ffffff" stroke="#1e1e1e" stroke-width="1.15"/>
<circle cx="264" cy="557.3" r="1.55" fill="#ffffff" stroke="#1e1e1e" stroke-width="1.15"/>
<circle cx="260.5" cy="556.3" r="1.55" fill="#ffffff" stroke="#1e1e1e" stroke-width="1.15"/>
<circle cx="259.7" cy="564.1" r="1.55" fill="#ffffff" stroke="#1e1e1e" stroke-width="1.15"/>
<circle cx="263.7" cy="563.3" r="1.55" fill="#ffffff" stroke="#1e1e1e" stroke-width="1.15"/>
<circle cx="255.4" cy="566.5" r="1.55" fill="#ffffff" stroke="#1e1e1e" stroke-width="1.15"/>
<circle cx="257.3" cy="567.3" r="1.55" fill="#ffffff" stroke="#1e1e1e" stroke-width="1.15"/>
<circle cx="261.6" cy="568.4" r="1.55" fill="#ffffff" stroke="#1e1e1e" stroke-width="1.15"/>
<circle cx="253.3" cy="572.1" r="1.55" fill="#ffffff" stroke="#1e1e1e" stroke-width="1.15"/>
<circle cx="258.4" cy="578.5" r="1.55" fill="#ffffff" stroke="#1e1e1e" stroke-width="1.15"/>
<circle cx="258.4" cy="590.2" r="1.55" fill="#ffffff" stroke="#1e1e1e" stroke-width="1.15"/>
<circle cx="293.8" cy="542.4" r="1.55" fill="#8fdcd6" stroke="#214f4a" stroke-width="1.15"/>
<circle cx="291.8" cy="552" r="1.55" fill="#8fdcd6" stroke="#214f4a" stroke-width="1.15"/>
<circle cx="298.7" cy="555.7" r="1.55" fill="#8fdcd6" stroke="#214f4a" stroke-width="1.15"/>
<circle cx="295.5" cy="559.2" r="1.55" fill="#8fdcd6" stroke="#214f4a" stroke-width="1.15"/>
<circle cx="291.8" cy="561.2" r="1.55" fill="#8fdcd6" stroke="#214f4a" stroke-width="1.15"/>
<circle cx="293.9" cy="568.1" r="1.55" fill="#8fdcd6" stroke="#214f4a" stroke-width="1.15"/>
<circle cx="295.8" cy="573.4" r="1.55" fill="#8fdcd6" stroke="#214f4a" stroke-width="1.15"/>
<circle cx="298.7" cy="573.2" r="1.55" fill="#8fdcd6" stroke="#214f4a" stroke-width="1.15"/>
<circle cx="291.8" cy="577.7" r="1.55" fill="#8fdcd6" stroke="#214f4a" stroke-width="1.15"/>
<circle cx="295.5" cy="580.1" r="1.55" fill="#8fdcd6" stroke="#214f4a" stroke-width="1.15"/>
<circle cx="293.8" cy="599.4" r="1.55" fill="#8fdcd6" stroke="#214f4a" stroke-width="1.15"/>
<circle cx="332.8" cy="526.8" r="1.55" fill="#62c43a" stroke="#214a16" stroke-width="1.15"/>
<circle cx="327.5" cy="529" r="1.55" fill="#62c43a" stroke="#214a16" stroke-width="1.15"/>
<circle cx="331.5" cy="531.6" r="1.55" fill="#62c43a" stroke="#214a16" stroke-width="1.15"/>
<circle cx="331.5" cy="538" r="1.55" fill="#62c43a" stroke="#214a16" stroke-width="1.15"/>
<circle cx="327.5" cy="543.5" r="1.55" fill="#62c43a" stroke="#214a16" stroke-width="1.15"/>
<circle cx="330.9" cy="546.4" r="1.55" fill="#62c43a" stroke="#214a16" stroke-width="1.15"/>
<circle cx="332.8" cy="549.9" r="1.55" fill="#62c43a" stroke="#214a16" stroke-width="1.15"/>
<circle cx="336.5" cy="549.9" r="1.55" fill="#62c43a" stroke="#214a16" stroke-width="1.15"/>
<circle cx="326.4" cy="554.1" r="1.55" fill="#62c43a" stroke="#214a16" stroke-width="1.15"/>
<circle cx="329.6" cy="554.7" r="1.55" fill="#62c43a" stroke="#214a16" stroke-width="1.15"/>
<circle cx="325.6" cy="556.8" r="1.55" fill="#62c43a" stroke="#214a16" stroke-width="1.15"/>
<circle cx="332.8" cy="556.3" r="1.55" fill="#62c43a" stroke="#214a16" stroke-width="1.15"/>
<circle cx="336" cy="556.8" r="1.55" fill="#62c43a" stroke="#214a16" stroke-width="1.15"/>
<circle cx="339.2" cy="558.9" r="1.55" fill="#62c43a" stroke="#214a16" stroke-width="1.15"/>
<circle cx="328.3" cy="560.5" r="1.55" fill="#62c43a" stroke="#214a16" stroke-width="1.15"/>
<circle cx="332.3" cy="560.8" r="1.55" fill="#62c43a" stroke="#214a16" stroke-width="1.15"/>
<circle cx="335.5" cy="560" r="1.55" fill="#62c43a" stroke="#214a16" stroke-width="1.15"/>
<circle cx="326.4" cy="561.6" r="1.55" fill="#62c43a" stroke="#214a16" stroke-width="1.15"/>
<circle cx="328.3" cy="567.3" r="1.55" fill="#62c43a" stroke="#214a16" stroke-width="1.15"/>
<circle cx="331.5" cy="568.1" r="1.55" fill="#62c43a" stroke="#214a16" stroke-width="1.15"/>
<circle cx="335.5" cy="568.4" r="1.55" fill="#62c43a" stroke="#214a16" stroke-width="1.15"/>
<circle cx="329.1" cy="578.2" r="1.55" fill="#62c43a" stroke="#214a16" stroke-width="1.15"/>
<circle cx="334.4" cy="578.5" r="1.55" fill="#62c43a" stroke="#214a16" stroke-width="1.15"/>
<text x="446.70000000000005" y="454.1" font-size="10.4" text-anchor="middle" fill="#1a1a1a" stroke="#1a1a1a" stroke-width="0.3">Light-dark Time</text>
<line x1="395.1" y1="457.9" x2="498.3" y2="457.9" stroke="#a9a9a9" stroke-width="2.6"/>
<text x="420.7" y="479.6" font-size="9.3" fill="#1a1a1a" stroke="#1a1a1a" stroke-width="0.3" font-weight="normal"><tspan font-style="italic">P</tspan> = 0.94</text>
<text x="405" y="492.5" font-size="9.3" fill="#1a1a1a" stroke="#1a1a1a" stroke-width="0.3" font-weight="normal"><tspan font-style="italic">P</tspan> = 0.31</text>
<path d="M400.5 531.3 V482.3 H475.3 V507" fill="none" stroke="#a6a6a6" stroke-width="0.9"/>
<path d="M403.4 531.3 V494.6 H438.2 V518.1" fill="none" stroke="#a6a6a6" stroke-width="0.9"/>
<line x1="389" y1="484.3" x2="389" y2="630.5" stroke="#222" stroke-width="1.1"/>
<line x1="382" y1="500.8" x2="389" y2="500.8" stroke="#222" stroke-width="1.1"/>
<text x="379.5" y="504.2" font-size="10.0" text-anchor="end" fill="#1a1a1a" stroke="#1a1a1a" stroke-width="0.3">180</text>
<line x1="382" y1="544.1" x2="389" y2="544.1" stroke="#222" stroke-width="1.1"/>
<text x="379.5" y="547.5" font-size="10.0" text-anchor="end" fill="#1a1a1a" stroke="#1a1a1a" stroke-width="0.3">120</text>
<line x1="382" y1="587.4" x2="389" y2="587.4" stroke="#222" stroke-width="1.1"/>
<text x="379.5" y="590.8" font-size="10.0" text-anchor="end" fill="#1a1a1a" stroke="#1a1a1a" stroke-width="0.3">60</text>
<line x1="382" y1="630.5" x2="389" y2="630.5" stroke="#222" stroke-width="1.1"/>
<text x="379.5" y="633.9" font-size="10.0" text-anchor="end" fill="#1a1a1a" stroke="#1a1a1a" stroke-width="0.3">0</text>
<line x1="385.5" y1="484.3" x2="389" y2="484.3" stroke="#222" stroke-width="1.1"/>
<line x1="385.5" y1="522.4" x2="389" y2="522.4" stroke="#222" stroke-width="1.1"/>
<line x1="385.5" y1="565.7" x2="389" y2="565.7" stroke="#222" stroke-width="1.1"/>
<line x1="385.5" y1="609" x2="389" y2="609" stroke="#222" stroke-width="1.1"/>
<line x1="395.4" y1="630.9" x2="498.8" y2="630.9" stroke="#222" stroke-width="1.1"/>
<line x1="409.6" y1="630.9" x2="409.6" y2="633.9" stroke="#222" stroke-width="1.1"/>
<line x1="446.3" y1="630.9" x2="446.3" y2="633.9" stroke="#222" stroke-width="1.1"/>
<line x1="483" y1="630.9" x2="483" y2="633.9" stroke="#222" stroke-width="1.1"/>
<text x="410" y="645.9" font-size="10.2" text-anchor="middle" fill="#1a1a1a" stroke="#1a1a1a" stroke-width="0.3">CON2</text>
<text x="446" y="645.9" font-size="10.2" text-anchor="middle" fill="#1a1a1a" stroke="#1a1a1a" stroke-width="0.3">P13F4</text>
<text x="483.3" y="645.9" font-size="10.2" text-anchor="middle" fill="#1a1a1a" stroke="#1a1a1a" stroke-width="0.3">P6B2</text>
<text x="357.5" y="557" font-size="10.5" text-anchor="middle" fill="#1a1a1a" stroke="#1a1a1a" stroke-width="0.3" transform="rotate(-90 357.5 557)">Time in lighted sector (s)</text>
<line x1="401.95000000000005" y1="540.8" x2="401.95000000000005" y2="546.6" stroke="#222" stroke-width="1.1"/>
<line x1="401.95000000000005" y1="571.3" x2="401.95000000000005" y2="583.1" stroke="#222" stroke-width="1.1"/>
<line x1="395.8" y1="540.8" x2="408.1" y2="540.8" stroke="#222" stroke-width="1.2"/>
<line x1="395.8" y1="583.1" x2="408.1" y2="583.1" stroke="#222" stroke-width="1.2"/>
<rect x="395.3" y="546.6" width="13.300000000000011" height="24.699999999999932" fill="#c9c9c9" stroke="#222" stroke-width="1.1"/>
<line x1="395.3" y1="553.7" x2="408.6" y2="553.7" stroke="#222" stroke-width="1.1"/>
<rect x="400.2" y="557.0" width="3" height="3" fill="none" stroke="#222" stroke-width="0.9"/>
<line x1="437.95000000000005" y1="526.1" x2="437.95000000000005" y2="530.4" stroke="#222" stroke-width="1.1"/>
<line x1="437.95000000000005" y1="558.2" x2="437.95000000000005" y2="560.3" stroke="#222" stroke-width="1.1"/>
<line x1="431.8" y1="526.1" x2="444.1" y2="526.1" stroke="#222" stroke-width="1.2"/>
<line x1="431.8" y1="560.3" x2="444.1" y2="560.3" stroke="#222" stroke-width="1.2"/>
<rect x="431.3" y="530.4" width="13.300000000000011" height="27.800000000000068" fill="#92e2e0" stroke="#222" stroke-width="1.1"/>
<line x1="431.3" y1="538.1" x2="444.6" y2="538.1" stroke="#222" stroke-width="1.1"/>
<rect x="436.2" y="544.3" width="3" height="3" fill="none" stroke="#222" stroke-width="0.9"/>
<line x1="475.1" y1="518" x2="475.1" y2="550.5" stroke="#222" stroke-width="1.1"/>
<line x1="475.1" y1="579.4" x2="475.1" y2="581" stroke="#222" stroke-width="1.1"/>
<line x1="469.2" y1="518" x2="481.0" y2="518" stroke="#222" stroke-width="1.2"/>
<line x1="469.2" y1="581" x2="481.0" y2="581" stroke="#222" stroke-width="1.2"/>
<rect x="468.7" y="550.5" width="12.800000000000011" height="28.899999999999977" fill="#72d62c" stroke="#222" stroke-width="1.1"/>
<line x1="468.7" y1="568.6" x2="481.5" y2="568.6" stroke="#222" stroke-width="1.1"/>
<rect x="473.6" y="559.6" width="3" height="3" fill="none" stroke="#222" stroke-width="0.9"/>
<circle cx="417.3" cy="516.1" r="1.55" fill="#ffffff" stroke="#1e1e1e" stroke-width="1.15"/>
<circle cx="418.9" cy="528.1" r="1.55" fill="#ffffff" stroke="#1e1e1e" stroke-width="1.15"/>
<circle cx="422.9" cy="540.5" r="1.55" fill="#ffffff" stroke="#1e1e1e" stroke-width="1.15"/>
<circle cx="415.7" cy="544" r="1.55" fill="#ffffff" stroke="#1e1e1e" stroke-width="1.15"/>
<circle cx="419.7" cy="543.4" r="1.55" fill="#ffffff" stroke="#1e1e1e" stroke-width="1.15"/>
<circle cx="411.7" cy="548.5" r="1.55" fill="#ffffff" stroke="#1e1e1e" stroke-width="1.15"/>
<circle cx="414.1" cy="547.7" r="1.55" fill="#ffffff" stroke="#1e1e1e" stroke-width="1.15"/>
<circle cx="417.3" cy="548.2" r="1.55" fill="#ffffff" stroke="#1e1e1e" stroke-width="1.15"/>
<circle cx="420.5" cy="546.6" r="1.55" fill="#ffffff" stroke="#1e1e1e" stroke-width="1.15"/>
<circle cx="423.7" cy="548.9" r="1.55" fill="#ffffff" stroke="#1e1e1e" stroke-width="1.15"/>
<circle cx="418.1" cy="553.4" r="1.55" fill="#ffffff" stroke="#1e1e1e" stroke-width="1.15"/>
<circle cx="422.6" cy="552.6" r="1.55" fill="#ffffff" stroke="#1e1e1e" stroke-width="1.15"/>
<circle cx="412.2" cy="570.2" r="1.55" fill="#ffffff" stroke="#1e1e1e" stroke-width="1.15"/>
<circle cx="415.7" cy="570.7" r="1.55" fill="#ffffff" stroke="#1e1e1e" stroke-width="1.15"/>
<circle cx="417.6" cy="569.1" r="1.55" fill="#ffffff" stroke="#1e1e1e" stroke-width="1.15"/>
<circle cx="420.5" cy="569.4" r="1.55" fill="#ffffff" stroke="#1e1e1e" stroke-width="1.15"/>
<circle cx="422.9" cy="571" r="1.55" fill="#ffffff" stroke="#1e1e1e" stroke-width="1.15"/>
<circle cx="425.3" cy="569.1" r="1.55" fill="#ffffff" stroke="#1e1e1e" stroke-width="1.15"/>
<circle cx="412.5" cy="583.6" r="1.55" fill="#ffffff" stroke="#1e1e1e" stroke-width="1.15"/>
<circle cx="415.7" cy="581.9" r="1.55" fill="#ffffff" stroke="#1e1e1e" stroke-width="1.15"/>
<circle cx="418.6" cy="584.2" r="1.55" fill="#ffffff" stroke="#1e1e1e" stroke-width="1.15"/>
<circle cx="421.8" cy="583.1" r="1.55" fill="#ffffff" stroke="#1e1e1e" stroke-width="1.15"/>
<circle cx="424" cy="579.4" r="1.55" fill="#ffffff" stroke="#1e1e1e" stroke-width="1.15"/>
<circle cx="454.6" cy="514" r="1.55" fill="#8fdcd6" stroke="#214f4a" stroke-width="1.15"/>
<circle cx="454.6" cy="526.1" r="1.55" fill="#8fdcd6" stroke="#214f4a" stroke-width="1.15"/>
<circle cx="456.6" cy="530.1" r="1.55" fill="#8fdcd6" stroke="#214f4a" stroke-width="1.15"/>
<circle cx="453" cy="532.5" r="1.55" fill="#8fdcd6" stroke="#214f4a" stroke-width="1.15"/>
<circle cx="449.7" cy="533.3" r="1.55" fill="#8fdcd6" stroke="#214f4a" stroke-width="1.15"/>
<circle cx="459.4" cy="538.1" r="1.55" fill="#8fdcd6" stroke="#214f4a" stroke-width="1.15"/>
<circle cx="458.3" cy="550.1" r="1.55" fill="#8fdcd6" stroke="#214f4a" stroke-width="1.15"/>
<circle cx="454.6" cy="555.8" r="1.55" fill="#8fdcd6" stroke="#214f4a" stroke-width="1.15"/>
<circle cx="451.3" cy="558.2" r="1.55" fill="#8fdcd6" stroke="#214f4a" stroke-width="1.15"/>
<circle cx="454.6" cy="560.6" r="1.55" fill="#8fdcd6" stroke="#214f4a" stroke-width="1.15"/>
<circle cx="454.6" cy="605.2" r="1.55" fill="#8fdcd6" stroke="#214f4a" stroke-width="1.15"/>
<circle cx="491.9" cy="497.9" r="1.55" fill="#62c43a" stroke="#214a16" stroke-width="1.15"/>
<circle cx="491.9" cy="501.1" r="1.55" fill="#62c43a" stroke="#214a16" stroke-width="1.15"/>
<circle cx="492.3" cy="518" r="1.55" fill="#62c43a" stroke="#214a16" stroke-width="1.15"/>
<circle cx="492.3" cy="537" r="1.55" fill="#62c43a" stroke="#214a16" stroke-width="1.15"/>
<circle cx="488.4" cy="545.3" r="1.55" fill="#62c43a" stroke="#214a16" stroke-width="1.15"/>
<circle cx="490.4" cy="550.1" r="1.55" fill="#62c43a" stroke="#214a16" stroke-width="1.15"/>
<circle cx="494.1" cy="550.1" r="1.55" fill="#62c43a" stroke="#214a16" stroke-width="1.15"/>
<circle cx="490.4" cy="557.4" r="1.55" fill="#62c43a" stroke="#214a16" stroke-width="1.15"/>
<circle cx="496" cy="555.8" r="1.55" fill="#62c43a" stroke="#214a16" stroke-width="1.15"/>
<circle cx="494.1" cy="561.4" r="1.55" fill="#62c43a" stroke="#214a16" stroke-width="1.15"/>
<circle cx="488.4" cy="564.6" r="1.55" fill="#62c43a" stroke="#214a16" stroke-width="1.15"/>
<circle cx="492.3" cy="570.2" r="1.55" fill="#62c43a" stroke="#214a16" stroke-width="1.15"/>
<circle cx="496" cy="570.2" r="1.55" fill="#62c43a" stroke="#214a16" stroke-width="1.15"/>
<circle cx="488.4" cy="568.6" r="1.55" fill="#62c43a" stroke="#214a16" stroke-width="1.15"/>
<circle cx="486.4" cy="573" r="1.55" fill="#62c43a" stroke="#214a16" stroke-width="1.15"/>
<circle cx="488.3" cy="576.6" r="1.55" fill="#62c43a" stroke="#214a16" stroke-width="1.15"/>
<circle cx="491.2" cy="579.1" r="1.55" fill="#62c43a" stroke="#214a16" stroke-width="1.15"/>
<circle cx="496" cy="577.4" r="1.55" fill="#62c43a" stroke="#214a16" stroke-width="1.15"/>
<circle cx="487.5" cy="581" r="1.55" fill="#62c43a" stroke="#214a16" stroke-width="1.15"/>
<circle cx="494.1" cy="581" r="1.55" fill="#62c43a" stroke="#214a16" stroke-width="1.15"/>
<circle cx="497.6" cy="580.3" r="1.55" fill="#62c43a" stroke="#214a16" stroke-width="1.15"/>
<circle cx="492.3" cy="598.8" r="1.55" fill="#62c43a" stroke="#214a16" stroke-width="1.15"/>
<circle cx="492.3" cy="606.8" r="1.55" fill="#62c43a" stroke="#214a16" stroke-width="1.15"/>
<text x="597.4" y="454.1" font-size="10.4" text-anchor="middle" fill="#1a1a1a" stroke="#1a1a1a" stroke-width="0.3">Light-dark Distance</text>
<line x1="545.9" y1="457.9" x2="648.9" y2="457.9" stroke="#a9a9a9" stroke-width="2.6"/>
<text x="571.2" y="470.5" font-size="9.3" fill="#1a1a1a" stroke="#1a1a1a" stroke-width="0.3" font-weight="normal"><tspan font-style="italic">P</tspan> = 0.76</text>
<text x="554.1" y="481.6" font-size="9.1" fill="#1a1a1a" stroke="#1a1a1a" stroke-width="0.3" font-weight="bold"><tspan font-style="italic">P</tspan> = 0.003</text>
<path d="M550.9 504.5 V472.7 H625.3 V500.7" fill="none" stroke="#a6a6a6" stroke-width="0.9"/>
<path d="M554.2 503.2 V484.3 H588.8 V488" fill="none" stroke="#a6a6a6" stroke-width="0.9"/>
<line x1="540" y1="485.5" x2="540" y2="622.9" stroke="#222" stroke-width="1.1"/>
<line x1="533" y1="485.6" x2="540" y2="485.6" stroke="#222" stroke-width="1.1"/>
<text x="530.5" y="489.0" font-size="10.0" text-anchor="end" fill="#1a1a1a" stroke="#1a1a1a" stroke-width="0.3">4</text>
<line x1="533" y1="531.5" x2="540" y2="531.5" stroke="#222" stroke-width="1.1"/>
<text x="530.5" y="534.9" font-size="10.0" text-anchor="end" fill="#1a1a1a" stroke="#1a1a1a" stroke-width="0.3">3</text>
<line x1="533" y1="577.3" x2="540" y2="577.3" stroke="#222" stroke-width="1.1"/>
<text x="530.5" y="580.6999999999999" font-size="10.0" text-anchor="end" fill="#1a1a1a" stroke="#1a1a1a" stroke-width="0.3">2</text>
<line x1="533" y1="622.9" x2="540" y2="622.9" stroke="#222" stroke-width="1.1"/>
<text x="530.5" y="626.3" font-size="10.0" text-anchor="end" fill="#1a1a1a" stroke="#1a1a1a" stroke-width="0.3">1</text>
<line x1="536.5" y1="508.5" x2="540" y2="508.5" stroke="#222" stroke-width="1.1"/>
<line x1="536.5" y1="554.4" x2="540" y2="554.4" stroke="#222" stroke-width="1.1"/>
<line x1="536.5" y1="600" x2="540" y2="600" stroke="#222" stroke-width="1.1"/>
<line x1="546" y1="630.9" x2="648.8" y2="630.9" stroke="#222" stroke-width="1.1"/>
<line x1="561.2" y1="630.9" x2="561.2" y2="633.9" stroke="#222" stroke-width="1.1"/>
<line x1="596.5" y1="630.9" x2="596.5" y2="633.9" stroke="#222" stroke-width="1.1"/>
<line x1="633.8" y1="630.9" x2="633.8" y2="633.9" stroke="#222" stroke-width="1.1"/>
<text x="561" y="645.9" font-size="10.2" text-anchor="middle" fill="#1a1a1a" stroke="#1a1a1a" stroke-width="0.3">CON2</text>
<text x="596.2" y="645.9" font-size="10.2" text-anchor="middle" fill="#1a1a1a" stroke="#1a1a1a" stroke-width="0.3">P13F4</text>
<text x="633.7" y="645.9" font-size="10.2" text-anchor="middle" fill="#1a1a1a" stroke="#1a1a1a" stroke-width="0.3">P6B2</text>
<text x="517.5" y="553" font-size="10.5" text-anchor="middle" fill="#1a1a1a" transform="rotate(-90 517.5 553)">Distance moved x10<tspan font-size="6" dy="-4">3</tspan><tspan dy="4"> (cm)</tspan></text>
<line x1="553.05" y1="513.6" x2="553.05" y2="517.6" stroke="#222" stroke-width="1.1"/>
<line x1="553.05" y1="589.4" x2="553.05" y2="595.5" stroke="#222" stroke-width="1.1"/>
<line x1="546.8" y1="513.6" x2="559.3" y2="513.6" stroke="#222" stroke-width="1.2"/>
<line x1="546.8" y1="595.5" x2="559.3" y2="595.5" stroke="#222" stroke-width="1.2"/>
<rect x="546.3" y="517.6" width="13.5" height="71.79999999999995" fill="#c9c9c9" stroke="#222" stroke-width="1.1"/>
<line x1="546.3" y1="576.5" x2="559.8" y2="576.5" stroke="#222" stroke-width="1.1"/>
<rect x="551.2" y="561.9" width="3" height="3" fill="none" stroke="#222" stroke-width="0.9"/>
<line x1="589.0" y1="490.9" x2="589.0" y2="503.1" stroke="#222" stroke-width="1.1"/>
<line x1="589.0" y1="543.6" x2="589.0" y2="556.5" stroke="#222" stroke-width="1.1"/>
<line x1="582.9" y1="490.9" x2="595.1" y2="490.9" stroke="#222" stroke-width="1.2"/>
<line x1="582.9" y1="556.5" x2="595.1" y2="556.5" stroke="#222" stroke-width="1.2"/>
<rect x="582.4" y="503.1" width="13.200000000000045" height="40.5" fill="#92e2e0" stroke="#222" stroke-width="1.1"/>
<line x1="582.4" y1="513.4" x2="595.6" y2="513.4" stroke="#222" stroke-width="1.1"/>
<rect x="587.2" y="519.6" width="3" height="3" fill="none" stroke="#222" stroke-width="0.9"/>
<line x1="625.45" y1="500.6" x2="625.45" y2="524.3" stroke="#222" stroke-width="1.1"/>
<line x1="625.45" y1="582.6" x2="625.45" y2="603.5" stroke="#222" stroke-width="1.1"/>
<line x1="619.4" y1="500.6" x2="631.5" y2="500.6" stroke="#222" stroke-width="1.2"/>
<line x1="619.4" y1="603.5" x2="631.5" y2="603.5" stroke="#222" stroke-width="1.2"/>
<rect x="618.9" y="524.3" width="13.100000000000023" height="58.30000000000007" fill="#72d62c" stroke="#222" stroke-width="1.1"/>
<line x1="618.9" y1="568.2" x2="632" y2="568.2" stroke="#222" stroke-width="1.1"/>
<rect x="623.8" y="555.0" width="3" height="3" fill="none" stroke="#222" stroke-width="0.9"/>
<circle cx="568.3" cy="508" r="1.55" fill="#ffffff" stroke="#1e1e1e" stroke-width="1.15"/>
<circle cx="564.3" cy="515.2" r="1.55" fill="#ffffff" stroke="#1e1e1e" stroke-width="1.15"/>
<circle cx="567.5" cy="514.2" r="1.55" fill="#ffffff" stroke="#1e1e1e" stroke-width="1.15"/>
<circle cx="571.5" cy="513.6" r="1.55" fill="#ffffff" stroke="#1e1e1e" stroke-width="1.15"/>
<circle cx="573.9" cy="510.7" r="1.55" fill="#ffffff" stroke="#1e1e1e" stroke-width="1.15"/>
<circle cx="571.5" cy="517.6" r="1.55" fill="#ffffff" stroke="#1e1e1e" stroke-width="1.15"/>
<circle cx="569.1" cy="531.3" r="1.55" fill="#ffffff" stroke="#1e1e1e" stroke-width="1.15"/>
<circle cx="567.2" cy="567.7" r="1.55" fill="#ffffff" stroke="#1e1e1e" stroke-width="1.15"/>
<circle cx="568.8" cy="572.2" r="1.55" fill="#ffffff" stroke="#1e1e1e" stroke-width="1.15"/>
<circle cx="571.5" cy="571.2" r="1.55" fill="#ffffff" stroke="#1e1e1e" stroke-width="1.15"/>
<circle cx="567.5" cy="576.2" r="1.55" fill="#ffffff" stroke="#1e1e1e" stroke-width="1.15"/>
<circle cx="571" cy="576.2" r="1.55" fill="#ffffff" stroke="#1e1e1e" stroke-width="1.15"/>
<circle cx="564" cy="581" r="1.55" fill="#ffffff" stroke="#1e1e1e" stroke-width="1.15"/>
<circle cx="566.7" cy="583.3" r="1.55" fill="#ffffff" stroke="#1e1e1e" stroke-width="1.15"/>
<circle cx="568.8" cy="582.6" r="1.55" fill="#ffffff" stroke="#1e1e1e" stroke-width="1.15"/>
<circle cx="570.7" cy="585.8" r="1.55" fill="#ffffff" stroke="#1e1e1e" stroke-width="1.15"/>
<circle cx="574.4" cy="583.3" r="1.55" fill="#ffffff" stroke="#1e1e1e" stroke-width="1.15"/>
<circle cx="569.4" cy="589.4" r="1.55" fill="#ffffff" stroke="#1e1e1e" stroke-width="1.15"/>
<circle cx="569.9" cy="592.3" r="1.55" fill="#ffffff" stroke="#1e1e1e" stroke-width="1.15"/>
<circle cx="564.3" cy="595.5" r="1.55" fill="#ffffff" stroke="#1e1e1e" stroke-width="1.15"/>
<circle cx="567" cy="597.4" r="1.55" fill="#ffffff" stroke="#1e1e1e" stroke-width="1.15"/>
<circle cx="569.9" cy="597.4" r="1.55" fill="#ffffff" stroke="#1e1e1e" stroke-width="1.15"/>
<circle cx="574.4" cy="595.5" r="1.55" fill="#ffffff" stroke="#1e1e1e" stroke-width="1.15"/>
<circle cx="602.3" cy="488.2" r="1.55" fill="#8fdcd6" stroke="#214f4a" stroke-width="1.15"/>
<circle cx="607.3" cy="490.9" r="1.55" fill="#8fdcd6" stroke="#214f4a" stroke-width="1.15"/>
<circle cx="604.7" cy="503" r="1.55" fill="#8fdcd6" stroke="#214f4a" stroke-width="1.15"/>
<circle cx="609.7" cy="504" r="1.55" fill="#8fdcd6" stroke="#214f4a" stroke-width="1.15"/>
<circle cx="599.6" cy="507" r="1.55" fill="#8fdcd6" stroke="#214f4a" stroke-width="1.15"/>
<circle cx="603.6" cy="513.6" r="1.55" fill="#8fdcd6" stroke="#214f4a" stroke-width="1.15"/>
<circle cx="608" cy="515.2" r="1.55" fill="#8fdcd6" stroke="#214f4a" stroke-width="1.15"/>
<circle cx="606" cy="540.4" r="1.55" fill="#8fdcd6" stroke="#214f4a" stroke-width="1.15"/>
<circle cx="603.6" cy="543.6" r="1.55" fill="#8fdcd6" stroke="#214f4a" stroke-width="1.15"/>
<circle cx="603.6" cy="556.5" r="1.55" fill="#8fdcd6" stroke="#214f4a" stroke-width="1.15"/>
<circle cx="606" cy="568.2" r="1.55" fill="#8fdcd6" stroke="#214f4a" stroke-width="1.15"/>
<circle cx="646.2" cy="496.2" r="1.55" fill="#62c43a" stroke="#214a16" stroke-width="1.15"/>
<circle cx="637.3" cy="501.9" r="1.55" fill="#62c43a" stroke="#214a16" stroke-width="1.15"/>
<circle cx="641" cy="500.6" r="1.55" fill="#62c43a" stroke="#214a16" stroke-width="1.15"/>
<circle cx="644.2" cy="500.6" r="1.55" fill="#62c43a" stroke="#214a16" stroke-width="1.15"/>
<circle cx="638.9" cy="523.1" r="1.55" fill="#62c43a" stroke="#214a16" stroke-width="1.15"/>
<circle cx="641.4" cy="525.9" r="1.55" fill="#62c43a" stroke="#214a16" stroke-width="1.15"/>
<circle cx="645.4" cy="524" r="1.55" fill="#62c43a" stroke="#214a16" stroke-width="1.15"/>
<circle cx="643.4" cy="533.2" r="1.55" fill="#62c43a" stroke="#214a16" stroke-width="1.15"/>
<circle cx="641.7" cy="542" r="1.55" fill="#62c43a" stroke="#214a16" stroke-width="1.15"/>
<circle cx="641.7" cy="557.6" r="1.55" fill="#62c43a" stroke="#214a16" stroke-width="1.15"/>
<circle cx="638.9" cy="568.2" r="1.55" fill="#62c43a" stroke="#214a16" stroke-width="1.15"/>
<circle cx="643.3" cy="568.2" r="1.55" fill="#62c43a" stroke="#214a16" stroke-width="1.15"/>
<circle cx="637.3" cy="573.3" r="1.55" fill="#62c43a" stroke="#214a16" stroke-width="1.15"/>
<circle cx="639.7" cy="574.9" r="1.55" fill="#62c43a" stroke="#214a16" stroke-width="1.15"/>
<circle cx="643.3" cy="574.1" r="1.55" fill="#62c43a" stroke="#214a16" stroke-width="1.15"/>
<circle cx="646.2" cy="576.9" r="1.55" fill="#62c43a" stroke="#214a16" stroke-width="1.15"/>
<circle cx="637.3" cy="582.6" r="1.55" fill="#62c43a" stroke="#214a16" stroke-width="1.15"/>
<circle cx="640.9" cy="582.6" r="1.55" fill="#62c43a" stroke="#214a16" stroke-width="1.15"/>
<circle cx="644.6" cy="583.3" r="1.55" fill="#62c43a" stroke="#214a16" stroke-width="1.15"/>
<circle cx="641.8" cy="588.6" r="1.55" fill="#62c43a" stroke="#214a16" stroke-width="1.15"/>
<circle cx="639.7" cy="603.4" r="1.55" fill="#62c43a" stroke="#214a16" stroke-width="1.15"/>
<circle cx="643.8" cy="603.4" r="1.55" fill="#62c43a" stroke="#214a16" stroke-width="1.15"/>
<circle cx="641.8" cy="610.6" r="1.55" fill="#62c43a" stroke="#214a16" stroke-width="1.15"/>
<defs>
<filter id="b1" x="-20%" y="-20%" width="140%" height="140%"><feGaussianBlur stdDeviation="1"/></filter>
<filter id="b2" x="-30%" y="-30%" width="160%" height="160%"><feGaussianBlur stdDeviation="2"/></filter>
<filter id="b3" x="-50%" y="-50%" width="200%" height="200%"><feGaussianBlur stdDeviation="3.5"/></filter>
<filter id="b05"><feGaussianBlur stdDeviation="0.5"/></filter>

<clipPath id="cd11"><rect x="237.9" y="208.5" width="88.29999999999998" height="53.30000000000001"/></clipPath>
<clipPath id="cd12"><rect x="338" y="208.6" width="89" height="53.400000000000006"/></clipPath>
<clipPath id="cd13"><rect x="435.8" y="207.8" width="89.19999999999999" height="54.30000000000001"/></clipPath>
<clipPath id="cd21"><rect x="237.6" y="280.3" width="88.70000000000002" height="55.80000000000001"/></clipPath>
<clipPath id="cd22"><rect x="338" y="280.3" width="89" height="55.80000000000001"/></clipPath>
<clipPath id="cd23"><rect x="434.4" y="280.6" width="89.60000000000002" height="55.5"/></clipPath>
<clipPath id="cd31"><rect x="237.4" y="353.5" width="88.6" height="56.5"/></clipPath>
<clipPath id="cd32"><rect x="338" y="353.5" width="89" height="56.5"/></clipPath>
<clipPath id="cd33"><rect x="434.4" y="355.8" width="89.60000000000002" height="54.19999999999999"/></clipPath>
<clipPath id="ce1"><rect x="566.4" y="210.8" width="93.30000000000007" height="71.0"/></clipPath>
<clipPath id="ce2"><rect x="566.4" y="288.6" width="93.30000000000007" height="70.39999999999998"/></clipPath>
<clipPath id="ce3"><rect x="566.4" y="363.4" width="93.30000000000007" height="71.40000000000003"/></clipPath>
<clipPath id="cg1"><rect x="221.2" y="694.6" width="128.10000000000002" height="167.19999999999993"/></clipPath>
<clipPath id="cg2"><rect x="557.4" y="700.4" width="107.20000000000005" height="157.60000000000002"/></clipPath>
</defs>
<g clip-path="url(#cd11)"><rect x="237.9" y="208.5" width="88.29999999999998" height="53.30000000000001" fill="#020202"/>
<g filter="url(#b05)" opacity="0.95"><ellipse cx="257.2" cy="210.8" rx="1.2" ry="0.8" fill="#4a78dc" transform="rotate(0 257.2 210.8)"/><ellipse cx="240.5" cy="211.2" rx="1" ry="0.8" fill="#4a78dc" transform="rotate(0 240.5 211.2)"/><ellipse cx="250.3" cy="215.4" rx="1" ry="0.8" fill="#4a78dc" transform="rotate(0 250.3 215.4)"/><ellipse cx="276.6" cy="216.8" rx="1" ry="1.4" fill="#4a78dc" transform="rotate(20 276.6 216.8)"/><ellipse cx="291.2" cy="211.2" rx="2" ry="1.3" fill="#4a78dc" transform="rotate(30 291.2 211.2)"/><ellipse cx="296" cy="215.4" rx="2.2" ry="1.1" fill="#4a78dc" transform="rotate(40 296 215.4)"/><ellipse cx="301.6" cy="221.6" rx="1.2" ry="1.6" fill="#4a78dc" transform="rotate(0 301.6 221.6)"/><ellipse cx="307.1" cy="234.1" rx="1" ry="1" fill="#4a78dc" transform="rotate(0 307.1 234.1)"/><ellipse cx="311.3" cy="233.4" rx="2" ry="1.5" fill="#4a78dc" transform="rotate(0 311.3 233.4)"/><ellipse cx="319.6" cy="216.8" rx="3" ry="1.8" fill="#4a78dc" transform="rotate(50 319.6 216.8)"/><ellipse cx="323.8" cy="214" rx="1.4" ry="1" fill="#4a78dc" transform="rotate(0 323.8 214)"/><ellipse cx="316.8" cy="221.6" rx="1.3" ry="1" fill="#4a78dc" transform="rotate(0 316.8 221.6)"/><ellipse cx="318.2" cy="242.4" rx="1" ry="2" fill="#4a78dc" transform="rotate(20 318.2 242.4)"/><ellipse cx="264.1" cy="249.4" rx="2" ry="1.2" fill="#4a78dc" transform="rotate(-20 264.1 249.4)"/><ellipse cx="257.9" cy="250.8" rx="1.5" ry="1" fill="#4a78dc" transform="rotate(0 257.9 250.8)"/><ellipse cx="251.6" cy="257.7" rx="2.4" ry="1.2" fill="#4a78dc" transform="rotate(-30 251.6 257.7)"/><ellipse cx="246.1" cy="259.1" rx="1.5" ry="1" fill="#4a78dc" transform="rotate(0 246.1 259.1)"/><ellipse cx="303" cy="255" rx="1" ry="1" fill="#4a78dc" transform="rotate(0 303 255)"/><ellipse cx="312.7" cy="249.4" rx="1" ry="1" fill="#4a78dc" transform="rotate(0 312.7 249.4)"/><ellipse cx="308.5" cy="228.6" rx="0.9" ry="0.9" fill="#4a78dc" transform="rotate(0 308.5 228.6)"/><ellipse cx="300.2" cy="227.2" rx="1" ry="1" fill="#4a78dc" transform="rotate(0 300.2 227.2)"/><ellipse cx="325.2" cy="238.3" rx="1" ry="1.6" fill="#4a78dc" transform="rotate(0 325.2 238.3)"/><ellipse cx="242" cy="232" rx="1" ry="1" fill="#4a78dc" transform="rotate(0 242 232)"/><ellipse cx="283" cy="237" rx="0.8" ry="0.8" fill="#4a78dc" transform="rotate(0 283 237)"/></g>
<g filter="url(#b1)" opacity="1"><ellipse cx="242.6" cy="219.5" rx="2.6" ry="4" fill="#35c232" transform="rotate(-35 242.6 219.5)"/><ellipse cx="248.2" cy="221" rx="2.4" ry="3.8" fill="#35c232" transform="rotate(-35 248.2 221)"/><ellipse cx="251.6" cy="227.9" rx="3.8" ry="2.8" fill="#35c232" transform="rotate(30 251.6 227.9)"/><ellipse cx="255.1" cy="232.7" rx="4" ry="3" fill="#35c232" transform="rotate(30 255.1 232.7)"/><ellipse cx="260.7" cy="230.5" rx="2.4" ry="2.4" fill="#35c232" transform="rotate(0 260.7 230.5)"/><ellipse cx="262.7" cy="236.9" rx="3.4" ry="2.8" fill="#35c232" transform="rotate(40 262.7 236.9)"/><ellipse cx="265" cy="240.5" rx="2.8" ry="2.8" fill="#35c232" transform="rotate(0 265 240.5)"/><ellipse cx="268.3" cy="246.6" rx="3" ry="3.6" fill="#35c232" transform="rotate(-20 268.3 246.6)"/><ellipse cx="271.8" cy="249.4" rx="3" ry="3" fill="#35c232" transform="rotate(0 271.8 249.4)"/><ellipse cx="274" cy="253.5" rx="3.2" ry="3" fill="#35c232" transform="rotate(0 274 253.5)"/><ellipse cx="278" cy="257.7" rx="4" ry="3" fill="#35c232" transform="rotate(20 278 257.7)"/><ellipse cx="281.5" cy="258.5" rx="3" ry="2.4" fill="#35c232" transform="rotate(0 281.5 258.5)"/><ellipse cx="285.5" cy="260" rx="2.4" ry="1.8" fill="#35c232" transform="rotate(0 285.5 260)"/><ellipse cx="246" cy="225" rx="1.6" ry="1.6" fill="#35c232" transform="rotate(0 246 225)"/><ellipse cx="258" cy="240" rx="1.5" ry="1.5" fill="#35c232" transform="rotate(0 258 240)"/></g>
<g filter="url(#b05)" opacity="0.95"><ellipse cx="243" cy="219" rx="1.4" ry="2" fill="#5ee04c" transform="rotate(-35 243 219)"/><ellipse cx="248" cy="221.5" rx="1.2" ry="1.8" fill="#5ee04c" transform="rotate(-35 248 221.5)"/><ellipse cx="252" cy="228" rx="2" ry="1.4" fill="#5ee04c" transform="rotate(30 252 228)"/><ellipse cx="256" cy="233" rx="2" ry="1.4" fill="#5ee04c" transform="rotate(30 256 233)"/><ellipse cx="263" cy="237" rx="1.6" ry="1.3" fill="#5ee04c" transform="rotate(0 263 237)"/><ellipse cx="268.5" cy="246" rx="1.5" ry="1.8" fill="#5ee04c" transform="rotate(0 268.5 246)"/><ellipse cx="274" cy="253" rx="1.6" ry="1.4" fill="#5ee04c" transform="rotate(0 274 253)"/><ellipse cx="279" cy="257.5" rx="2" ry="1.4" fill="#5ee04c" transform="rotate(0 279 257.5)"/><ellipse cx="272" cy="250" rx="1.2" ry="1.2" fill="#5ee04c" transform="rotate(0 272 250)"/></g>
<line x1="243.3" y1="250.8" x2="290.5" y2="220.3" stroke="#6a7a6a" stroke-width="0.45" opacity="0.6" stroke-dasharray="1.5 1.5"/>
<g filter="url(#b05)" opacity="0.8"><ellipse cx="275.2" cy="232.7" rx="0.8" ry="0.8" fill="#c0d0c0" transform="rotate(0 275.2 232.7)"/><ellipse cx="255.8" cy="243.1" rx="0.8" ry="0.8" fill="#c0d0c0" transform="rotate(0 255.8 243.1)"/></g>
</g>
<g clip-path="url(#cd12)"><rect x="338" y="208.6" width="89" height="53.400000000000006" fill="#020202"/>
<line x1="352" y1="253" x2="426" y2="218" stroke="#7d8a7d" stroke-width="0.45" opacity="0.7" stroke-dasharray="1.5 1.5"/>
<g filter="url(#b05)" opacity="0.8"><ellipse cx="381" cy="245" rx="1" ry="1" fill="#b8ccb8" transform="rotate(0 381 245)"/><ellipse cx="374" cy="247" rx="0.6" ry="0.6" fill="#b8ccb8" transform="rotate(0 374 247)"/><ellipse cx="402" cy="231" rx="0.8" ry="0.8" fill="#b8ccb8" transform="rotate(0 402 231)"/></g>
</g>
<g clip-path="url(#cd13)"><rect x="435.8" y="207.8" width="89.19999999999999" height="54.30000000000001" fill="#020202"/>
<rect x="435.8" y="207.4" width="89" height="55" fill="#268a1c"/>
<g filter="url(#b05)" opacity="0.8"><ellipse cx="490.946372846227" cy="237.84414894068544" rx="1.591928266476927" ry="1.5247040463154335" fill="#0e3e0c" transform="rotate(56.31482736972486 490.946372846227 237.84414894068544)"/><ellipse cx="483.0143275250314" cy="209.69790355240832" rx="2.339950531354336" ry="1.1112248171936092" fill="#0e3e0c" transform="rotate(21.089786494202674 483.0143275250314 209.69790355240832)"/><ellipse cx="525.7996624334813" cy="233.92396589868974" rx="2.3383383220390224" ry="1.371623850439202" fill="#0e3e0c" transform="rotate(57.516132648974576 525.7996624334813 233.92396589868974)"/><ellipse cx="486.9283555050821" cy="242.647614889115" rx="2.388872491429275" ry="1.4278174524599616" fill="#0e3e0c" transform="rotate(66.71266705813412 486.9283555050821 242.647614889115)"/><ellipse cx="510.88492786700124" cy="212.39366622603086" rx="2.2131683940589078" ry="1.5093194995175812" fill="#0e3e0c" transform="rotate(27.11408935641411 510.88492786700124 212.39366622603086)"/><ellipse cx="481.4265405676085" cy="254.8729435598841" rx="1.756398541864747" ry="1.6625887088789637" fill="#0e3e0c" transform="rotate(79.09315202299335 481.4265405676085 254.8729435598841)"/><ellipse cx="512.8499562461153" cy="257.81822938194534" rx="1.6319414464011903" ry="1.761090525182274" fill="#0e3e0c" transform="rotate(40.01589504456846 512.8499562461153 257.81822938194534)"/><ellipse cx="523.0369891984079" cy="255.57993299791622" rx="1.1559268955694035" ry="0.9631626322408027" fill="#0e3e0c" transform="rotate(19.52882471098236 523.0369891984079 255.57993299791622)"/><ellipse cx="524.4120863893173" cy="232.11657893125374" rx="2.0026372653868867" ry="1.1612314381106064" fill="#0e3e0c" transform="rotate(45.651868544615354 524.4120863893173 232.11657893125374)"/><ellipse cx="497.7498479068655" cy="227.59825590481955" rx="1.9361185718485816" ry="1.5011021515642389" fill="#0e3e0c" transform="rotate(81.37815937629976 497.7498479068655 227.59825590481955)"/><ellipse cx="511.3711782852085" cy="258.2341168636009" rx="2.370240906234809" ry="1.9891875738425782" fill="#0e3e0c" transform="rotate(60.41461879462664 511.3711782852085 258.2341168636009)"/><ellipse cx="487.5025826106692" cy="254.6137892551622" rx="2.5434127156944983" ry="1.885635181414684" fill="#0e3e0c" transform="rotate(51.21967531268911 487.5025826106692 254.6137892551622)"/><ellipse cx="512.8355829280132" cy="220.1896241348067" rx="2.3305726884373668" ry="1.4882388228215417" fill="#0e3e0c" transform="rotate(25.64617157875847 512.8355829280132 220.1896241348067)"/><ellipse cx="482.91918654868056" cy="254.25895188640206" rx="2.5836896238745304" ry="0.9062217117316741" fill="#0e3e0c" transform="rotate(72.05357891317517 482.91918654868056 254.25895188640206)"/><ellipse cx="498.88124405791183" cy="216.9905648459989" rx="1.4702259949104994" ry="1.7225502647328135" fill="#0e3e0c" transform="rotate(78.54903221653812 498.88124405791183 216.9905648459989)"/><ellipse cx="482.032742811959" cy="241.57022401218586" rx="1.071904389593658" ry="1.6621285729382196" fill="#0e3e0c" transform="rotate(29.785873141710677 482.032742811959 241.57022401218586)"/><ellipse cx="520.5216441333785" cy="260.973695112697" rx="1.8086725978368705" ry="1.998210734450932" fill="#0e3e0c" transform="rotate(27.87030481287051 520.5216441333785 260.973695112697)"/><ellipse cx="483.54065241644895" cy="240.78742886621984" rx="1.0502044194805085" ry="1.0368618277141033" fill="#0e3e0c" transform="rotate(36.71425220552918 483.54065241644895 240.78742886621984)"/><ellipse cx="508.0814876564977" cy="217.27854652371894" rx="1.0678973195539267" ry="1.8413348407132668" fill="#0e3e0c" transform="rotate(28.24474679244825 508.0814876564977 217.27854652371894)"/><ellipse cx="524.0983336147889" cy="256.52296099566286" rx="1.6044627830594922" ry="1.3524915594150857" fill="#0e3e0c" transform="rotate(46.806568613330754 524.0983336147889 256.52296099566286)"/><ellipse cx="509.61888104583545" cy="240.56946263530443" rx="1.8948176992246248" ry="1.5441513625343144" fill="#0e3e0c" transform="rotate(84.65591298815669 509.61888104583545 240.56946263530443)"/><ellipse cx="503.32323353350034" cy="231.85315233183942" rx="2.1524980034306216" ry="1.0851627433577409" fill="#0e3e0c" transform="rotate(27.097817505673447 503.32323353350034 231.85315233183942)"/><ellipse cx="524.9786765566372" cy="236.61974654390391" rx="1.8774887482989797" ry="0.8137489836370629" fill="#0e3e0c" transform="rotate(37.36893094234938 524.9786765566372 236.61974654390391)"/><ellipse cx="506.678399834665" cy="210.06280318614375" rx="1.9852767060900107" ry="1.5586166423553385" fill="#0e3e0c" transform="rotate(5.407245956495071 506.678399834665 210.06280318614375)"/><ellipse cx="508.857691014504" cy="233.71127277392551" rx="2.0868502368609736" ry="1.2230923796492568" fill="#0e3e0c" transform="rotate(63.62552244293091 508.857691014504 233.71127277392551)"/><ellipse cx="513.9495773055936" cy="210.17567085651294" rx="1.0969228858332758" ry="1.6112243713848522" fill="#0e3e0c" transform="rotate(86.69750223476316 513.9495773055936 210.17567085651294)"/><ellipse cx="491.5516247964396" cy="233.1845428707281" rx="1.9482750010663827" ry="1.184030462897608" fill="#0e3e0c" transform="rotate(32.75595804059612 491.5516247964396 233.1845428707281)"/><ellipse cx="494.3828504150579" cy="228.56516068967858" rx="1.9529944093720584" ry="1.1604847680387071" fill="#0e3e0c" transform="rotate(33.944430719602515 494.3828504150579 228.56516068967858)"/><ellipse cx="515.5245769724296" cy="210.4268238654945" rx="1.9108128033129317" ry="1.6822078180142115" fill="#0e3e0c" transform="rotate(27.90150258690837 515.5245769724296 210.4268238654945)"/><ellipse cx="490.2367407684868" cy="251.6018065309304" rx="1.3819122830365471" ry="1.0248732091015305" fill="#0e3e0c" transform="rotate(39.17108884795389 490.2367407684868 251.6018065309304)"/><ellipse cx="512.1110547070431" cy="214.3976097094892" rx="1.515145575394023" ry="1.2005043805384104" fill="#0e3e0c" transform="rotate(75.01850024015779 512.1110547070431 214.3976097094892)"/><ellipse cx="500.1678136978238" cy="254.343365281199" rx="1.270854772090296" ry="1.2040522820538568" fill="#0e3e0c" transform="rotate(58.520913866324534 500.1678136978238 254.343365281199)"/><ellipse cx="520.7053205083793" cy="232.9084157671168" rx="1.3600445483566157" ry="0.9451031896523437" fill="#0e3e0c" transform="rotate(47.6664865477554 520.7053205083793 232.9084157671168)"/><ellipse cx="488.7769750691688" cy="251.75919359414922" rx="2.341562206445161" ry="1.020303575966307" fill="#0e3e0c" transform="rotate(25.073292781486135 488.7769750691688 251.75919359414922)"/><ellipse cx="517.1324152356799" cy="243.0226745943226" rx="2.2900125458160883" ry="1.214339365865118" fill="#0e3e0c" transform="rotate(11.672022401649611 517.1324152356799 243.0226745943226)"/><ellipse cx="493.42937298004546" cy="251.07468199766072" rx="1.4338791902628039" ry="1.2156251368002242" fill="#0e3e0c" transform="rotate(37.52151262861406 493.42937298004546 251.07468199766072)"/><ellipse cx="499.30947445439756" cy="230.70467217180018" rx="2.472979812780209" ry="0.987197430726031" fill="#0e3e0c" transform="rotate(0.4195615124831076 499.30947445439756 230.70467217180018)"/><ellipse cx="523.390320452279" cy="255.63884733618056" rx="2.579061848046073" ry="1.3212227752107815" fill="#0e3e0c" transform="rotate(85.51450497447206 523.390320452279 255.63884733618056)"/><ellipse cx="522.6593518629215" cy="220.770809022433" rx="2.1928368146022708" ry="1.8040384151343742" fill="#0e3e0c" transform="rotate(59.66884804756416 522.6593518629215 220.770809022433)"/><ellipse cx="503.8746889257047" cy="224.31921731549974" rx="1.5457099424565328" ry="1.072959603621344" fill="#0e3e0c" transform="rotate(6.126086169617606 503.8746889257047 224.31921731549974)"/><ellipse cx="507.079175074878" cy="224.21159239381407" rx="2.296307006413149" ry="0.8540921721024318" fill="#0e3e0c" transform="rotate(81.32483536203078 507.079175074878 224.21159239381407)"/><ellipse cx="511.9104579356737" cy="257.96430437653385" rx="2.4345074639744775" ry="1.8796098032285578" fill="#0e3e0c" transform="rotate(51.92580636175064 511.9104579356737 257.96430437653385)"/><ellipse cx="480.60464684760717" cy="248.50080816748095" rx="1.2749145448587793" ry="1.1598656824741918" fill="#0e3e0c" transform="rotate(59.66064938743453 480.60464684760717 248.50080816748095)"/><ellipse cx="504.14835022912797" cy="230.9287737296676" rx="2.5024679412017434" ry="1.5345966915510951" fill="#0e3e0c" transform="rotate(30.721739167619564 504.14835022912797 230.9287737296676)"/><ellipse cx="491.6138428353634" cy="254.66822997236235" rx="1.763515994686501" ry="1.7387901341441405" fill="#0e3e0c" transform="rotate(31.665746717693548 491.6138428353634 254.66822997236235)"/><ellipse cx="489.07734891490765" cy="237.33576314929718" rx="2.3068973555470764" ry="1.0055627129029328" fill="#0e3e0c" transform="rotate(71.25047269939105 489.07734891490765 237.33576314929718)"/><ellipse cx="522.401259518587" cy="251.7207050756344" rx="2.3175980200857293" ry="0.809005664177251" fill="#0e3e0c" transform="rotate(56.574648927007445 522.401259518587 251.7207050756344)"/><ellipse cx="519.6775101305005" cy="211.64638816635247" rx="1.4342352539093333" ry="1.1223033334441999" fill="#0e3e0c" transform="rotate(47.45395605840148 519.6775101305005 211.64638816635247)"/><ellipse cx="499.4572642024215" cy="234.063700691798" rx="2.242396257156444" ry="0.802170379671655" fill="#0e3e0c" transform="rotate(4.935023037881379 499.4572642024215 234.063700691798)"/><ellipse cx="485.83571116719025" cy="215.60519043088829" rx="1.1094667015411013" ry="1.9696310374111927" fill="#0e3e0c" transform="rotate(76.90040412653038 485.83571116719025 215.60519043088829)"/><ellipse cx="483.9618883558259" cy="235.61236035801136" rx="1.5054339904432494" ry="1.1774957603672904" fill="#0e3e0c" transform="rotate(31.61606024743422 483.9618883558259 235.61236035801136)"/><ellipse cx="509.75802621188205" cy="240.0904954084625" rx="1.577335336982375" ry="1.0292984007718213" fill="#0e3e0c" transform="rotate(29.589867283276984 509.75802621188205 240.0904954084625)"/><ellipse cx="485.6927310963725" cy="238.4428750141331" rx="2.1456685152416166" ry="1.2562856745299045" fill="#0e3e0c" transform="rotate(7.191110707864713 485.6927310963725 238.4428750141331)"/><ellipse cx="488.21358264964994" cy="228.78355250823012" rx="1.9670957881244562" ry="1.7391462016820043" fill="#0e3e0c" transform="rotate(34.22382136658488 488.21358264964994 228.78355250823012)"/><ellipse cx="516.8534018397198" cy="242.01510503132985" rx="1.690549755729017" ry="1.24690417314271" fill="#0e3e0c" transform="rotate(44.65364417734686 516.8534018397198 242.01510503132985)"/><ellipse cx="512.3325103855702" cy="231.28723658148436" rx="2.1105971386229143" ry="1.353007894914673" fill="#0e3e0c" transform="rotate(22.057496679413404 512.3325103855702 231.28723658148436)"/><ellipse cx="504.64851966816315" cy="245.8439648320139" rx="1.114529595412461" ry="1.3098662545482005" fill="#0e3e0c" transform="rotate(38.326955078042516 504.64851966816315 245.8439648320139)"/><ellipse cx="520.4647871799197" cy="258.633655766062" rx="1.5987771149732044" ry="1.8774250378526018" fill="#0e3e0c" transform="rotate(71.18252067514958 520.4647871799197 258.633655766062)"/><ellipse cx="492.06026738574167" cy="233.59959035813387" rx="1.197033678758883" ry="1.7758660471277905" fill="#0e3e0c" transform="rotate(59.60606430829509 492.06026738574167 233.59959035813387)"/><ellipse cx="520.8178010015805" cy="251.0008774098066" rx="2.0680985225275688" ry="1.6804822115754185" fill="#0e3e0c" transform="rotate(50.745955913345654 520.8178010015805 251.0008774098066)"/><ellipse cx="484.74412926535723" cy="240.15121480806803" rx="1.0078420457070782" ry="0.97222203227255" fill="#0e3e0c" transform="rotate(69.68736182883842 484.74412926535723 240.15121480806803)"/><ellipse cx="482.03839160689336" cy="213.86534042588656" rx="1.1588793475533359" ry="1.856561500213391" fill="#0e3e0c" transform="rotate(16.123824445532122 482.03839160689336 213.86534042588656)"/><ellipse cx="481.0804189868887" cy="253.60138545313427" rx="1.1940535548385076" ry="1.812731904820472" fill="#0e3e0c" transform="rotate(60.61812924871519 481.0804189868887 253.60138545313427)"/><ellipse cx="518.4643697592024" cy="259.4777998781072" rx="1.9265222704336895" ry="1.7584966995309457" fill="#0e3e0c" transform="rotate(3.2642342870092733 518.4643697592024 259.4777998781072)"/><ellipse cx="515.3012527370998" cy="236.10026439307154" rx="2.1442526845729972" ry="0.9280924369793747" fill="#0e3e0c" transform="rotate(67.40684292459645 515.3012527370998 236.10026439307154)"/><ellipse cx="522.9898678470604" cy="212.24039340880702" rx="1.5187949880292728" ry="1.47677281660219" fill="#0e3e0c" transform="rotate(74.52533980429469 522.9898678470604 212.24039340880702)"/><ellipse cx="491.1377988750047" cy="218.52793939587892" rx="1.399945729424251" ry="1.5391771766553524" fill="#0e3e0c" transform="rotate(67.81889784959056 491.1377988750047 218.52793939587892)"/><ellipse cx="498.11157767201377" cy="228.47598150946973" rx="1.634623455271301" ry="1.2203413804468992" fill="#0e3e0c" transform="rotate(37.639588616552146 498.11157767201377 228.47598150946973)"/><ellipse cx="483.8299823944638" cy="235.51640936336662" rx="2.556890331858271" ry="1.2953976468169932" fill="#0e3e0c" transform="rotate(67.2668100672827 483.8299823944638 235.51640936336662)"/><ellipse cx="487.3885426007395" cy="245.61441984121097" rx="2.2097856352308396" ry="1.6086269729488976" fill="#0e3e0c" transform="rotate(46.53828689232725 487.3885426007395 245.61441984121097)"/><ellipse cx="502.25116104769734" cy="243.0765092093926" rx="2.435842071623268" ry="0.9791928782694045" fill="#0e3e0c" transform="rotate(8.627465775730098 502.25116104769734 243.0765092093926)"/><ellipse cx="514.415121154793" cy="257.58056220433014" rx="1.827606212505007" ry="1.331664230702533" fill="#0e3e0c" transform="rotate(64.70195768199467 514.415121154793 257.58056220433014)"/><ellipse cx="488.56110756299717" cy="223.16994020982662" rx="1.3186877387351417" ry="1.5027407781686033" fill="#0e3e0c" transform="rotate(28.336277560375827 488.56110756299717 223.16994020982662)"/><ellipse cx="490.6860380706831" cy="245.63001761969792" rx="2.525480887645903" ry="1.1550363600675913" fill="#0e3e0c" transform="rotate(63.47999622655266 490.6860380706831 245.63001761969792)"/><ellipse cx="499.00723132029435" cy="254.24289206402315" rx="1.935437297627379" ry="1.1206082244760613" fill="#0e3e0c" transform="rotate(19.584439006823736 499.00723132029435 254.24289206402315)"/><ellipse cx="481.06373879561056" cy="234.41294962627538" rx="1.612400164611628" ry="1.0066972902705276" fill="#0e3e0c" transform="rotate(32.442332070278226 481.06373879561056 234.41294962627538)"/><ellipse cx="494.8139391705349" cy="250.0328412114197" rx="1.229776208620273" ry="1.989461517610119" fill="#0e3e0c" transform="rotate(43.16308761487889 494.8139391705349 250.0328412114197)"/><ellipse cx="507.55402952033893" cy="233.80680676376375" rx="2.3353787768096304" ry="1.7859381436025792" fill="#0e3e0c" transform="rotate(50.140912253404544 507.55402952033893 233.80680676376375)"/><ellipse cx="502.1397686426961" cy="247.19757800426967" rx="2.3706383102840816" ry="1.2803147713820497" fill="#0e3e0c" transform="rotate(66.02295971934937 502.1397686426961 247.19757800426967)"/><ellipse cx="524.1719080962906" cy="233.77194602994115" rx="1.367362414491041" ry="1.0817344663880752" fill="#0e3e0c" transform="rotate(64.59195218950467 524.1719080962906 233.77194602994115)"/></g>
<g filter="url(#b05)" opacity="0.8"><ellipse cx="511.06613751639543" cy="259.8118788564258" rx="1.9954341140079603" ry="0.9936734431396266" fill="#4cc034" transform="rotate(17.06608511374949 511.06613751639543 259.8118788564258)"/><ellipse cx="491.89665925744225" cy="218.92084456951267" rx="1.7866280417531746" ry="1.4868764521882507" fill="#4cc034" transform="rotate(80.97839999228631 491.89665925744225 218.92084456951267)"/><ellipse cx="491.7303648427623" cy="254.8502437501116" rx="1.2387834612769926" ry="1.1386362319645769" fill="#4cc034" transform="rotate(65.60715892837031 491.7303648427623 254.8502437501116)"/><ellipse cx="483.9525691377111" cy="213.91004357487944" rx="1.967500800484803" ry="1.0334107103116843" fill="#4cc034" transform="rotate(32.09949762159678 483.9525691377111 213.91004357487944)"/><ellipse cx="506.6938021165752" cy="244.80189017088733" rx="0.8096371743167776" ry="1.0678415497032978" fill="#4cc034" transform="rotate(39.25992074736067 506.6938021165752 244.80189017088733)"/><ellipse cx="502.3514243482534" cy="220.1351021613783" rx="1.6191475528427732" ry="1.564269843637842" fill="#4cc034" transform="rotate(35.1827999300382 502.3514243482534 220.1351021613783)"/><ellipse cx="505.04040059943065" cy="215.31636509163374" rx="1.1846657433118044" ry="1.3323464419398383" fill="#4cc034" transform="rotate(10.127610485685851 505.04040059943065 215.31636509163374)"/><ellipse cx="520.8106945623774" cy="257.16438612564804" rx="0.9356679136959012" ry="1.5530300360959912" fill="#4cc034" transform="rotate(33.680106781859315 520.8106945623774 257.16438612564804)"/><ellipse cx="515.5312853526169" cy="249.13813638591634" rx="1.2137476379279972" ry="1.3407097558377186" fill="#4cc034" transform="rotate(58.86705342665149 515.5312853526169 249.13813638591634)"/><ellipse cx="517.0785300254681" cy="223.07636229455315" rx="1.855865568833268" ry="1.56906109057981" fill="#4cc034" transform="rotate(60.55425450909331 517.0785300254681 223.07636229455315)"/><ellipse cx="504.6636960370936" cy="215.0046907465515" rx="1.4914330118310164" ry="1.0817262176246831" fill="#4cc034" transform="rotate(64.62839772178327 504.6636960370936 215.0046907465515)"/><ellipse cx="511.21301669987383" cy="239.0187453354892" rx="1.054771702767671" ry="1.3165342434060543" fill="#4cc034" transform="rotate(56.779599588057195 511.21301669987383 239.0187453354892)"/><ellipse cx="488.23880333495026" cy="256.16572028219014" rx="1.717519836395479" ry="0.8985046571982851" fill="#4cc034" transform="rotate(83.86596739575505 488.23880333495026 256.16572028219014)"/><ellipse cx="486.5036755379832" cy="226.57108537244662" rx="1.8086683177160054" ry="1.2779462362536045" fill="#4cc034" transform="rotate(49.943144448481256 486.5036755379832 226.57108537244662)"/><ellipse cx="509.7843931361849" cy="233.25830430213915" rx="1.2374198160700205" ry="0.9411049825278945" fill="#4cc034" transform="rotate(6.173664701490722 509.7843931361849 233.25830430213915)"/><ellipse cx="512.9284301723309" cy="248.98746335020437" rx="1.5603891760572868" ry="1.3917109691611187" fill="#4cc034" transform="rotate(32.33001112183121 512.9284301723309 248.98746335020437)"/><ellipse cx="492.2289191369622" cy="229.31912321473703" rx="2.0215562581355373" ry="0.8336886613291442" fill="#4cc034" transform="rotate(45.42406145046744 492.2289191369622 229.31912321473703)"/><ellipse cx="491.37102943651763" cy="249.75177323281932" rx="1.2957531156044275" ry="1.066290110022088" fill="#4cc034" transform="rotate(36.30049743012253 491.37102943651763 249.75177323281932)"/><ellipse cx="504.9089136661676" cy="249.90065021566375" rx="1.2940383903474215" ry="1.4775069415309077" fill="#4cc034" transform="rotate(10.09177933366918 504.9089136661676 249.90065021566375)"/><ellipse cx="492.4424256469716" cy="214.28138132481675" rx="0.9577586858727181" ry="1.4231864506599092" fill="#4cc034" transform="rotate(65.45603945917154 492.4424256469716 214.28138132481675)"/><ellipse cx="488.502912760645" cy="219.02598471236126" rx="1.3833174715802732" ry="1.394653960413842" fill="#4cc034" transform="rotate(73.4173359610654 488.502912760645 219.02598471236126)"/><ellipse cx="514.4402192526304" cy="240.37156376405346" rx="1.0050596192727344" ry="1.1187355387103297" fill="#4cc034" transform="rotate(17.427460320478605 514.4402192526304 240.37156376405346)"/><ellipse cx="504.26965582248005" cy="239.12351487935416" rx="1.082907424986333" ry="1.0001204751110067" fill="#4cc034" transform="rotate(70.34966488459376 504.26965582248005 239.12351487935416)"/><ellipse cx="481.3840229268794" cy="251.56729244125142" rx="2.0476801586904974" ry="1.5594582367808318" fill="#4cc034" transform="rotate(34.483167293930606 481.3840229268794 251.56729244125142)"/><ellipse cx="505.4198945439125" cy="239.902004602619" rx="1.6870986632775038" ry="1.5815813394133946" fill="#4cc034" transform="rotate(61.79671215731535 505.4198945439125 239.902004602619)"/><ellipse cx="493.7725621551446" cy="254.58057201940568" rx="1.4777010399270312" ry="1.2810911785989125" fill="#4cc034" transform="rotate(65.41509454744754 493.7725621551446 254.58057201940568)"/><ellipse cx="480.1091530095354" cy="249.83419363249897" rx="1.7267125928946911" ry="1.1934980343169443" fill="#4cc034" transform="rotate(47.127572195617894 480.1091530095354 249.83419363249897)"/><ellipse cx="501.1845386560986" cy="219.25213025103548" rx="1.5413670830178763" ry="0.8296498108668493" fill="#4cc034" transform="rotate(45.040233756186936 501.1845386560986 219.25213025103548)"/><ellipse cx="509.71408404074316" cy="232.54377885098307" rx="1.5924063652497105" ry="1.5672175029367854" fill="#4cc034" transform="rotate(80.28453278343996 509.71408404074316 232.54377885098307)"/><ellipse cx="486.23703811685033" cy="250.99591009097523" rx="1.6725890524159386" ry="0.8404855908484287" fill="#4cc034" transform="rotate(32.391091403744014 486.23703811685033 250.99591009097523)"/><ellipse cx="490.7370343154213" cy="213.12532475162823" rx="1.5544320391599848" ry="1.5438580592849065" fill="#4cc034" transform="rotate(29.080576744312438 490.7370343154213 213.12532475162823)"/><ellipse cx="520.0434949384254" cy="245.81696490012942" rx="0.9880993389540961" ry="1.486632971996627" fill="#4cc034" transform="rotate(54.1013331694993 520.0434949384254 245.81696490012942)"/><ellipse cx="522.6408848282871" cy="246.94546242981065" rx="1.835607512234086" ry="1.0748742937913904" fill="#4cc034" transform="rotate(72.60122774882221 522.6408848282871 246.94546242981065)"/><ellipse cx="522.860038346898" cy="254.65737969874493" rx="1.4118346048790604" ry="1.4054795397573079" fill="#4cc034" transform="rotate(43.65015840845487 522.860038346898 254.65737969874493)"/><ellipse cx="485.0196184679631" cy="211.26318269706692" rx="0.9091192348551335" ry="0.9602422100653394" fill="#4cc034" transform="rotate(14.47400342847761 485.0196184679631 211.26318269706692)"/><ellipse cx="502.8684417737339" cy="246.06173268409964" rx="1.5524099721945825" ry="1.1376889360451028" fill="#4cc034" transform="rotate(58.431804359046296 502.8684417737339 246.06173268409964)"/><ellipse cx="494.01389595177017" cy="233.61348138192164" rx="1.8599382562026616" ry="1.1211662676237366" fill="#4cc034" transform="rotate(16.25301548081515 494.01389595177017 233.61348138192164)"/><ellipse cx="521.3729190507013" cy="247.14367685169944" rx="1.3137058793626966" ry="1.096778550432595" fill="#4cc034" transform="rotate(47.63980353279118 521.3729190507013 247.14367685169944)"/><ellipse cx="507.4378123319389" cy="220.86389029320716" rx="0.8037807712396311" ry="0.9671960488478741" fill="#4cc034" transform="rotate(70.4862235729896 507.4378123319389 220.86389029320716)"/><ellipse cx="486.5999498467788" cy="233.37935067931218" rx="1.0734193520451343" ry="0.967429936064643" fill="#4cc034" transform="rotate(15.368752275463791 486.5999498467788 233.37935067931218)"/><ellipse cx="498.5723738161327" cy="217.91861822266907" rx="0.838475692234653" ry="0.8880554831545435" fill="#4cc034" transform="rotate(15.140962897588688 498.5723738161327 217.91861822266907)"/><ellipse cx="502.55265671387946" cy="212.16504040065513" rx="0.8314001304235368" ry="1.1584184129110364" fill="#4cc034" transform="rotate(36.69686729427799 502.55265671387946 212.16504040065513)"/><ellipse cx="512.3583901587425" cy="211.70915307611097" rx="1.364624520054388" ry="1.1172870665385786" fill="#4cc034" transform="rotate(2.399686513884439 512.3583901587425 211.70915307611097)"/><ellipse cx="524.4142267899337" cy="220.60225582720955" rx="0.9319792013221864" ry="1.1796687971987996" fill="#4cc034" transform="rotate(14.828322529554493 524.4142267899337 220.60225582720955)"/><ellipse cx="508.6327748249685" cy="227.35703168341857" rx="0.9735238271369075" ry="0.8415129709688502" fill="#4cc034" transform="rotate(65.49086269864733 508.6327748249685 227.35703168341857)"/></g>
<g filter="url(#b05)"><polygon points="435.8,262.1 435.8,244 455,232 466,218 474,207.4 482,207.4 442,262.1" fill="#46b62e"/></g>
<g filter="url(#b05)" opacity="0.75"><circle cx="445.25266517280505" cy="256.908143211958" r="0.972323124344737" fill="#1a6a14"/><circle cx="464.98756583668245" cy="245.21315571461375" r="0.7999782178468847" fill="#1a6a14"/><circle cx="444.97442466693667" cy="257.5520626313019" r="1.103283172802921" fill="#1a6a14"/><circle cx="447.34217424326636" cy="240.24918104232324" r="1.1459189083301569" fill="#1a6a14"/><circle cx="466.0780208459611" cy="252.21418528872132" r="0.6029250031995051" fill="#1a6a14"/><circle cx="437.909051078744" cy="240.17282641275074" r="0.7362671584071702" fill="#1a6a14"/><circle cx="438.0981798503948" cy="239.29464742942542" r="1.1234493941648487" fill="#1a6a14"/><circle cx="464.00902543915294" cy="242.816524428105" r="1.3790777668798595" fill="#1a6a14"/><circle cx="451.3063367918096" cy="257.2861286065522" r="1.3339004954787583" fill="#1a6a14"/><circle cx="465.20269524871406" cy="238.82108343523373" r="0.8437784120534662" fill="#1a6a14"/><circle cx="455.2079748730733" cy="260.71694697040715" r="0.6702235755164199" fill="#1a6a14"/><circle cx="445.8030060047158" cy="258.3977348947042" r="0.691738936349621" fill="#1a6a14"/><circle cx="448.6959021718643" cy="246.02036885080037" r="1.1440382109781257" fill="#1a6a14"/><circle cx="464.85558202925444" cy="242.19114396049972" r="1.1918355695277687" fill="#1a6a14"/><circle cx="459.0185332862729" cy="258.055774617967" r="1.0426692388012193" fill="#1a6a14"/><circle cx="464.705092843755" cy="246.7078108432932" r="0.9317782428172137" fill="#1a6a14"/><circle cx="443.882144535589" cy="256.70716399599416" r="0.9844919940541046" fill="#1a6a14"/><circle cx="445.0837239669854" cy="242.0738355231971" r="1.1765032455488618" fill="#1a6a14"/><circle cx="455.1711392659824" cy="255.05504644458242" r="0.9094396409359935" fill="#1a6a14"/><circle cx="451.6134176945836" cy="241.69334623307154" r="1.1685578093031934" fill="#1a6a14"/><circle cx="437.6886092922381" cy="249.20627232050828" r="1.2067611556760025" fill="#1a6a14"/><circle cx="457.3199292705807" cy="240.33009814979172" r="0.789736751322059" fill="#1a6a14"/></g>
<g filter="url(#b05)"><polygon points="441.5,262.1 478.2,207.4 505,207.4 474.5,262.1" fill="#80e03a"/></g>
<g filter="url(#b05)"><path d="M435.8 207.4 H475.3 Q468 216 463.6 222 Q456 232 451.9 236.6 Q444 242 435.8 245.3 Z" fill="#010101"/></g>
<line x1="445" y1="221" x2="462" y2="232" stroke="#3d6a38" stroke-width="0.5"/>
<line x1="482" y1="248" x2="500" y2="261" stroke="#70d040" stroke-width="0.6" opacity="0.7"/>
</g>
<g clip-path="url(#cd21)"><rect x="237.6" y="280.3" width="88.70000000000002" height="55.80000000000001" fill="#020202"/>
<g filter="url(#b05)" opacity="0.95"><ellipse cx="265.5" cy="282.5" rx="1.6" ry="2.4" fill="#3aa88a" transform="rotate(-20 265.5 282.5)"/><ellipse cx="268.3" cy="289.5" rx="1.6" ry="2.4" fill="#3aa88a" transform="rotate(-20 268.3 289.5)"/><ellipse cx="271.8" cy="297.1" rx="2" ry="2.4" fill="#3aa88a" transform="rotate(-20 271.8 297.1)"/></g>
<g filter="url(#b1)" opacity="1"><ellipse cx="276.6" cy="303.4" rx="3.6" ry="3" fill="#36c433" transform="rotate(30 276.6 303.4)"/><ellipse cx="282.8" cy="295.7" rx="2" ry="3" fill="#36c433" transform="rotate(0 282.8 295.7)"/><ellipse cx="280.8" cy="308.9" rx="3" ry="3" fill="#36c433" transform="rotate(0 280.8 308.9)"/><ellipse cx="284.9" cy="311" rx="3" ry="2.6" fill="#36c433" transform="rotate(0 284.9 311)"/><ellipse cx="287" cy="317.2" rx="4" ry="4.2" fill="#36c433" transform="rotate(0 287 317.2)"/><ellipse cx="289.8" cy="325.5" rx="4" ry="4.2" fill="#36c433" transform="rotate(0 289.8 325.5)"/><ellipse cx="293.3" cy="331.1" rx="4.2" ry="3.4" fill="#36c433" transform="rotate(0 293.3 331.1)"/><ellipse cx="296" cy="305.4" rx="2" ry="1.8" fill="#36c433" transform="rotate(0 296 305.4)"/><ellipse cx="298.1" cy="322.8" rx="1.5" ry="1.5" fill="#36c433" transform="rotate(0 298.1 322.8)"/><ellipse cx="306.4" cy="333.2" rx="3" ry="2" fill="#36c433" transform="rotate(-20 306.4 333.2)"/><ellipse cx="313.4" cy="313.1" rx="1.2" ry="1.2" fill="#36c433" transform="rotate(0 313.4 313.1)"/><ellipse cx="280.1" cy="318.6" rx="1.5" ry="1.5" fill="#36c433" transform="rotate(0 280.1 318.6)"/><ellipse cx="291" cy="321" rx="2" ry="2" fill="#36c433" transform="rotate(0 291 321)"/><ellipse cx="301" cy="334" rx="2" ry="1.6" fill="#36c433" transform="rotate(0 301 334)"/></g>
<g filter="url(#b05)" opacity="0.9"><ellipse cx="287" cy="317" rx="2.2" ry="2.2" fill="#66e452" transform="rotate(0 287 317)"/><ellipse cx="290" cy="325" rx="2.2" ry="2.2" fill="#66e452" transform="rotate(0 290 325)"/><ellipse cx="277" cy="303" rx="1.8" ry="1.4" fill="#66e452" transform="rotate(0 277 303)"/><ellipse cx="293" cy="331" rx="2" ry="1.6" fill="#66e452" transform="rotate(0 293 331)"/><ellipse cx="283" cy="296" rx="1" ry="1.5" fill="#66e452" transform="rotate(0 283 296)"/></g>
<line x1="253" y1="322.8" x2="309.9" y2="288.1" stroke="#6a7a6a" stroke-width="0.45" opacity="0.6" stroke-dasharray="1.5 1.5"/>
<g filter="url(#b05)" opacity="0.8"><ellipse cx="293.3" cy="300.6" rx="0.8" ry="0.8" fill="#c0d0c0" transform="rotate(0 293.3 300.6)"/><ellipse cx="273.8" cy="310.3" rx="0.8" ry="0.8" fill="#c0d0c0" transform="rotate(0 273.8 310.3)"/></g>
</g>
<g clip-path="url(#cd22)"><rect x="338" y="280.3" width="89" height="55.80000000000001" fill="#020202"/>
<line x1="349" y1="330" x2="418" y2="292" stroke="#7d8a7d" stroke-width="0.45" opacity="0.7" stroke-dasharray="1.5 1.5"/>
<g filter="url(#b05)" opacity="0.8"><ellipse cx="380" cy="312" rx="1" ry="1" fill="#b8ccb8" transform="rotate(0 380 312)"/><ellipse cx="398" cy="301" rx="1" ry="1" fill="#b8ccb8" transform="rotate(0 398 301)"/></g>
</g>
<g clip-path="url(#cd23)"><rect x="434.4" y="280.6" width="89.60000000000002" height="55.5" fill="#020202"/>
</g>
<g clip-path="url(#cd31)"><rect x="237.4" y="353.5" width="88.6" height="56.5" fill="#020202"/>
<g filter="url(#b05)" opacity="0.8"><ellipse cx="240" cy="384" rx="1.2" ry="1.6" fill="#3a5ad0" transform="rotate(0 240 384)"/><ellipse cx="251" cy="373" rx="1.6" ry="0.8" fill="#3a5ad0" transform="rotate(-20 251 373)"/><ellipse cx="245" cy="378" rx="0.8" ry="0.8" fill="#3a5ad0" transform="rotate(0 245 378)"/><ellipse cx="323" cy="356" rx="0.7" ry="1.6" fill="#3a5ad0" transform="rotate(0 323 356)"/><ellipse cx="283" cy="362" rx="0.7" ry="0.7" fill="#3a5ad0" transform="rotate(0 283 362)"/><ellipse cx="262" cy="360" rx="0.6" ry="0.6" fill="#3a5ad0" transform="rotate(0 262 360)"/></g>
<g filter="url(#b05)" opacity="0.9"><ellipse cx="239" cy="388" rx="1.4" ry="2" fill="#3ccf3a" transform="rotate(0 239 388)"/></g>
<line x1="262" y1="394" x2="318" y2="368" stroke="#6a7a6a" stroke-width="0.45" opacity="0.6" stroke-dasharray="1.5 1.5"/>
<g filter="url(#b05)" opacity="0.8"><ellipse cx="285" cy="381" rx="0.8" ry="0.8" fill="#c0d0c0" transform="rotate(0 285 381)"/><ellipse cx="300" cy="375" rx="0.8" ry="0.8" fill="#c0d0c0" transform="rotate(0 300 375)"/></g>
</g>
<g clip-path="url(#cd32)"><rect x="338" y="353.5" width="89" height="56.5" fill="#020202"/>
<line x1="362" y1="398" x2="420" y2="365" stroke="#7d8a7d" stroke-width="0.45" opacity="0.7" stroke-dasharray="1.5 1.5"/>
<g filter="url(#b05)" opacity="0.8"><ellipse cx="385" cy="389" rx="1" ry="1" fill="#b8ccb8" transform="rotate(0 385 389)"/><ellipse cx="403" cy="377" rx="1" ry="1" fill="#b8ccb8" transform="rotate(0 403 377)"/></g>
</g>
<g clip-path="url(#cd33)"><rect x="434.4" y="355.8" width="89.60000000000002" height="54.19999999999999" fill="#020202"/>
</g>
<g clip-path="url(#ce1)"><rect x="566.4" y="210.8" width="93.30000000000007" height="71.0" fill="#070102"/>
<g filter="url(#b3)" opacity="1"><ellipse cx="578" cy="220" rx="12" ry="9" fill="#8c1409" transform="rotate(0 578 220)"/><ellipse cx="594" cy="216" rx="12" ry="6" fill="#8c1409" transform="rotate(20 594 216)"/><ellipse cx="586" cy="232" rx="7" ry="8" fill="#8c1409" transform="rotate(0 586 232)"/><ellipse cx="574" cy="262" rx="9" ry="15" fill="#8c1409" transform="rotate(0 574 262)"/><ellipse cx="570" cy="245" rx="5" ry="10" fill="#8c1409" transform="rotate(0 570 245)"/><ellipse cx="601" cy="226" rx="7" ry="5" fill="#8c1409" transform="rotate(30 601 226)"/><ellipse cx="648" cy="226" rx="11" ry="14" fill="#8c1409" transform="rotate(0 648 226)"/><ellipse cx="642" cy="242" rx="9" ry="6" fill="#8c1409" transform="rotate(0 642 242)"/><ellipse cx="654" cy="270" rx="8" ry="10" fill="#8c1409" transform="rotate(0 654 270)"/><ellipse cx="612" cy="241" rx="7" ry="5" fill="#8c1409" transform="rotate(0 612 241)"/><ellipse cx="630" cy="251" rx="7" ry="4" fill="#8c1409" transform="rotate(0 630 251)"/><ellipse cx="619" cy="232" rx="5" ry="6" fill="#8c1409" transform="rotate(0 619 232)"/><ellipse cx="606" cy="262" rx="5" ry="4" fill="#8c1409" transform="rotate(0 606 262)"/></g>
<g filter="url(#b2)" opacity="0.95"><ellipse cx="577" cy="218" rx="7" ry="5" fill="#c8260f" transform="rotate(0 577 218)"/><ellipse cx="590" cy="214" rx="9" ry="4" fill="#c8260f" transform="rotate(20 590 214)"/><ellipse cx="580" cy="258" rx="6" ry="11" fill="#c8260f" transform="rotate(0 580 258)"/><ellipse cx="650" cy="238" rx="7" ry="11" fill="#c8260f" transform="rotate(0 650 238)"/><ellipse cx="652" cy="268" rx="6" ry="6" fill="#c8260f" transform="rotate(0 652 268)"/><ellipse cx="632" cy="247" rx="5" ry="3" fill="#c8260f" transform="rotate(0 632 247)"/><ellipse cx="606" cy="243" rx="5" ry="3" fill="#c8260f" transform="rotate(0 606 243)"/><ellipse cx="645" cy="222" rx="5" ry="5" fill="#c8260f" transform="rotate(0 645 222)"/></g>
<g filter="url(#b1)" stroke="#c02414" stroke-width="1.4" fill="none" opacity="0.75"><path d="M575 212 Q588 226 603 242"/><path d="M600 212 Q604 230 607 240"/><path d="M607 240 Q620 246 635 246 Q645 244 652 236"/><path d="M570 253 Q576 258 580 263"/><path d="M620 225 Q630 232 636 246"/><path d="M585 225 Q590 240 600 250"/><path d="M640 215 Q650 225 658 230"/></g>
<g filter="url(#b1)" opacity="1"><circle cx="575.3" cy="212.7" r="2.4" fill="#f26a26"/><circle cx="584.5" cy="223.4" r="2.8" fill="#f26a26"/><circle cx="592.2" cy="215" r="2.3" fill="#f26a26"/><circle cx="601.4" cy="211.9" r="2" fill="#f26a26"/><circle cx="607.5" cy="240.6" r="3" fill="#f26a26"/><circle cx="602.2" cy="246.4" r="2.8" fill="#f26a26"/><circle cx="635.1" cy="245.6" r="2.6" fill="#f26a26"/><circle cx="629.7" cy="251" r="2.6" fill="#f26a26"/><circle cx="649.7" cy="244.1" r="2.3" fill="#f26a26"/><circle cx="573.8" cy="253.3" r="2.6" fill="#f26a26"/><circle cx="579.9" cy="262.5" r="2.8" fill="#f26a26"/><circle cx="655" cy="267.8" r="2.6" fill="#f26a26"/><circle cx="650.4" cy="267.1" r="2.1" fill="#f26a26"/></g>
<g filter="url(#b05)" opacity="1"><circle cx="575.3" cy="212.7" r="1.2" fill="#fff4b0"/><circle cx="584.5" cy="223.4" r="1.4" fill="#fff4b0"/><circle cx="592.2" cy="215" r="1.1" fill="#fff4b0"/><circle cx="607.5" cy="240.6" r="1.7" fill="#fff4b0"/><circle cx="602.2" cy="246.4" r="1.5" fill="#fff4b0"/><circle cx="635.1" cy="245.6" r="1.3" fill="#fff4b0"/><circle cx="629.7" cy="251" r="1.4" fill="#fff4b0"/><circle cx="573.8" cy="253.3" r="1.3" fill="#fff4b0"/><circle cx="579.9" cy="262.5" r="1.6" fill="#fff4b0"/><circle cx="655" cy="267.8" r="1.3" fill="#fff4b0"/><circle cx="649.7" cy="244.1" r="1" fill="#fff4b0"/></g>
<g filter="url(#b05)" opacity="0.9"><circle cx="644.3" cy="223.1" r="1.8" fill="#e060c0"/></g>
<g filter="url(#b05)" opacity="0.95"><circle cx="576.1" cy="233.4" r="1.5" fill="#5a4ae8"/><circle cx="579.2" cy="236.4" r="1.3" fill="#5a4ae8"/><circle cx="615.2" cy="233.8" r="1.3" fill="#5a4ae8"/><circle cx="622.8" cy="235.7" r="1" fill="#5a4ae8"/><circle cx="634.3" cy="234.1" r="1.2" fill="#5a4ae8"/><circle cx="605.2" cy="254" r="1.3" fill="#5a4ae8"/><circle cx="619.8" cy="260.2" r="1.1" fill="#5a4ae8"/><circle cx="599.9" cy="274" r="1.5" fill="#5a4ae8"/><circle cx="576.1" cy="270.1" r="1.7" fill="#5a4ae8"/><circle cx="652" cy="219.6" r="1.7" fill="#5a4ae8"/><circle cx="631.3" cy="211.9" r="1.1" fill="#5a4ae8"/><circle cx="653.5" cy="234.9" r="1.1" fill="#5a4ae8"/></g>
</g>
<g clip-path="url(#ce2)"><rect x="566.4" y="288.6" width="93.30000000000007" height="70.39999999999998" fill="#040102"/>
<g filter="url(#b1)" opacity="1"><circle cx="583.9" cy="314.9" r="3.6" fill="#d0401a"/><circle cx="612.2" cy="313.5" r="3.4" fill="#d0401a"/><circle cx="579.5" cy="345.3" r="3.4" fill="#d0401a"/><circle cx="575.9" cy="352.6" r="3" fill="#d0401a"/><circle cx="598.6" cy="352.9" r="3" fill="#d0401a"/></g>
<g filter="url(#b05)" opacity="1"><circle cx="583.9" cy="315.5" r="1.8" fill="#ffd860"/><circle cx="612.2" cy="313.5" r="2.2" fill="#ffd860"/><circle cx="579.5" cy="345.3" r="1.8" fill="#ffd860"/><circle cx="575.9" cy="352.6" r="1.8" fill="#ffd860"/><circle cx="598.6" cy="352.9" r="2" fill="#ffd860"/></g>
<g filter="url(#b05)" opacity="0.9"><circle cx="622" cy="291.9" r="1.4" fill="#c83018"/><circle cx="607.8" cy="290.1" r="1.6" fill="#c83018"/><circle cx="641.4" cy="348.5" r="1.3" fill="#c83018"/><circle cx="654.7" cy="295.7" r="1.2" fill="#c83018"/></g>
<g filter="url(#b05)" opacity="0.9"><circle cx="654.7" cy="295.7" r="0.8" fill="#ffb0c0"/></g>
<g filter="url(#b05)" opacity="0.9"><circle cx="599.8" cy="293.6" r="1" fill="#4a40d8"/><circle cx="585.7" cy="323.4" r="1" fill="#4a40d8"/><circle cx="612.8" cy="348.2" r="1.2" fill="#4a40d8"/><circle cx="585.7" cy="303.4" r="0.9" fill="#4a40d8"/><circle cx="622.9" cy="301.1" r="0.9" fill="#4a40d8"/><circle cx="632.6" cy="314" r="1" fill="#4a40d8"/></g>
</g>
<g clip-path="url(#ce3)"><rect x="566.4" y="363.4" width="93.30000000000007" height="71.40000000000003" fill="#050103"/>
<g filter="url(#b3)" opacity="1"><ellipse cx="645" cy="398" rx="12" ry="22" fill="#5a0c10" transform="rotate(0 645 398)"/><ellipse cx="630" cy="410" rx="6" ry="10" fill="#5a0c10" transform="rotate(0 630 410)"/></g>
<g filter="url(#b1)" opacity="0.95"><circle cx="627.3" cy="369.8" r="3.5" fill="#b8202a"/><circle cx="606.9" cy="381.3" r="3.4" fill="#b8202a"/><circle cx="616.7" cy="381.3" r="3" fill="#b8202a"/><circle cx="646.8" cy="379.5" r="4" fill="#b8202a"/><circle cx="651.2" cy="379.5" r="3.5" fill="#b8202a"/><circle cx="643.2" cy="389.2" r="4" fill="#b8202a"/><circle cx="651.2" cy="391.9" r="4.5" fill="#b8202a"/><circle cx="655.6" cy="390.1" r="3.5" fill="#b8202a"/><circle cx="628.2" cy="405.2" r="3" fill="#b8202a"/><circle cx="645" cy="403.4" r="5" fill="#b8202a"/><circle cx="656.5" cy="414" r="3" fill="#b8202a"/><circle cx="624.6" cy="422.9" r="3" fill="#b8202a"/><circle cx="636.1" cy="371.5" r="2.5" fill="#b8202a"/></g>
<g filter="url(#b05)" opacity="0.9"><circle cx="651.2" cy="391.9" r="2.2" fill="#e83838"/><circle cx="643.2" cy="389.2" r="2" fill="#e83838"/><circle cx="627.3" cy="369.8" r="1.5" fill="#e83838"/><circle cx="656.5" cy="414" r="1.6" fill="#e83838"/></g>
<g filter="url(#b05)" opacity="0.9"><circle cx="598.1" cy="368.9" r="1.6" fill="#4a48e0"/><circle cx="591.9" cy="368.3" r="1" fill="#4a48e0"/><circle cx="586.6" cy="392.8" r="1" fill="#4a48e0"/><circle cx="570.3" cy="417.2" r="1.5" fill="#4a48e0"/><circle cx="582.1" cy="413.7" r="1" fill="#4a48e0"/><circle cx="584.8" cy="422.9" r="0.9" fill="#4a48e0"/><circle cx="636.1" cy="397.7" r="1" fill="#4a48e0"/><circle cx="656.5" cy="397.7" r="1.2" fill="#4a48e0"/><circle cx="625.5" cy="405.2" r="1" fill="#4a48e0"/><circle cx="637" cy="414.9" r="1" fill="#4a48e0"/><circle cx="606" cy="421.1" r="0.9" fill="#4a48e0"/></g>
<g filter="url(#b05)" opacity="0.9"><circle cx="598.1" cy="368.9" r="1.2" fill="#b040e0"/></g>
</g>
<line x1="34.2" y1="708.5" x2="34.2" y2="845.8" stroke="#444" stroke-width="0.9"/>
<line x1="34.2" y1="845.8" x2="202.4" y2="845.8" stroke="#444" stroke-width="0.9"/>
<line x1="31.700000000000003" y1="845.8" x2="34.2" y2="845.8" stroke="#444" stroke-width="0.8"/>
<text x="30.000000000000004" y="847.8" font-size="5.6" text-anchor="end" fill="#222" stroke="#222" stroke-width="0.3" font-weight="bold">0</text>
<line x1="31.700000000000003" y1="812.05" x2="34.2" y2="812.05" stroke="#444" stroke-width="0.8"/>
<text x="30.000000000000004" y="814.05" font-size="5.6" text-anchor="end" fill="#222" stroke="#222" stroke-width="0.3" font-weight="bold">20</text>
<line x1="31.700000000000003" y1="778.3" x2="34.2" y2="778.3" stroke="#444" stroke-width="0.8"/>
<text x="30.000000000000004" y="780.3" font-size="5.6" text-anchor="end" fill="#222" stroke="#222" stroke-width="0.3" font-weight="bold">40</text>
<line x1="31.700000000000003" y1="744.55" x2="34.2" y2="744.55" stroke="#444" stroke-width="0.8"/>
<text x="30.000000000000004" y="746.55" font-size="5.6" text-anchor="end" fill="#222" stroke="#222" stroke-width="0.3" font-weight="bold">60</text>
<line x1="31.700000000000003" y1="710.8" x2="34.2" y2="710.8" stroke="#444" stroke-width="0.8"/>
<text x="30.000000000000004" y="712.8" font-size="5.6" text-anchor="end" fill="#222" stroke="#222" stroke-width="0.3" font-weight="bold">80</text>
<line x1="32.7" y1="828.925" x2="34.2" y2="828.925" stroke="#444" stroke-width="0.7"/>
<line x1="32.7" y1="795.175" x2="34.2" y2="795.175" stroke="#444" stroke-width="0.7"/>
<line x1="32.7" y1="761.425" x2="34.2" y2="761.425" stroke="#444" stroke-width="0.7"/>
<line x1="32.7" y1="727.675" x2="34.2" y2="727.675" stroke="#444" stroke-width="0.7"/>
<line x1="34.2" y1="844.5999999999999" x2="34.2" y2="847.3" stroke="#444" stroke-width="0.8"/>
<text x="34.2" y="854.4" font-size="5.9" text-anchor="middle" fill="#222" stroke="#222" stroke-width="0.3" font-weight="bold">0</text>
<line x1="71.6" y1="844.5999999999999" x2="71.6" y2="847.3" stroke="#444" stroke-width="0.8"/>
<text x="71.6" y="854.4" font-size="5.9" text-anchor="middle" fill="#222" stroke="#222" stroke-width="0.3" font-weight="bold">50</text>
<line x1="109.0" y1="844.5999999999999" x2="109.0" y2="847.3" stroke="#444" stroke-width="0.8"/>
<text x="109.0" y="854.4" font-size="5.9" text-anchor="middle" fill="#222" stroke="#222" stroke-width="0.3" font-weight="bold">100</text>
<line x1="146.4" y1="844.5999999999999" x2="146.4" y2="847.3" stroke="#444" stroke-width="0.8"/>
<text x="146.4" y="854.4" font-size="5.9" text-anchor="middle" fill="#222" stroke="#222" stroke-width="0.3" font-weight="bold">150</text>
<line x1="183.8" y1="844.5999999999999" x2="183.8" y2="847.3" stroke="#444" stroke-width="0.8"/>
<text x="183.8" y="854.4" font-size="5.9" text-anchor="middle" fill="#222" stroke="#222" stroke-width="0.3" font-weight="bold">200</text>
<line x1="52.900000000000006" y1="844.8" x2="52.900000000000006" y2="846.8" stroke="#444" stroke-width="0.7"/>
<line x1="90.30000000000001" y1="844.8" x2="90.30000000000001" y2="846.8" stroke="#444" stroke-width="0.7"/>
<line x1="127.7" y1="844.8" x2="127.7" y2="846.8" stroke="#444" stroke-width="0.7"/>
<line x1="165.10000000000002" y1="844.8" x2="165.10000000000002" y2="846.8" stroke="#444" stroke-width="0.7"/>
<text x="118.5" y="866.8" font-size="7.1" text-anchor="middle" fill="#1a1a1a" stroke="#1a1a1a" stroke-width="0.3" font-weight="bold">Distance from Soma (m<tspan font-size="5.00">μ</tspan>)</text>
<text x="20.8" y="778" font-size="6.9" text-anchor="middle" fill="#1a1a1a" stroke="#1a1a1a" stroke-width="0.3" font-weight="bold" transform="rotate(-90 20.8 778)">Dendritic Length (m<tspan font-size="4.6">μ</tspan>)</text>
<path d="M41.68 844.96 C42.93 842.00 46.67 833.14 49.16 827.24 C51.65 821.33 54.15 815.99 56.64 809.52 C59.13 803.05 61.63 794.47 64.12 788.42 C66.61 782.38 69.11 777.46 71.60 773.24 C74.09 769.02 76.59 766.35 79.08 763.11 C81.57 759.88 84.07 756.08 86.56 753.83 C89.05 751.58 91.55 751.44 94.04 749.61 C96.53 747.78 99.03 743.99 101.52 742.86 C104.01 741.74 106.51 743.71 109.00 742.86 C111.49 742.02 113.99 738.08 116.48 737.80 C118.97 737.52 121.47 740.05 123.96 741.17 C126.45 742.30 128.95 743.57 131.44 744.55 C133.93 745.53 136.43 745.11 138.92 747.08 C141.41 749.05 143.91 753.13 146.40 756.36 C148.89 759.60 151.39 763.96 153.88 766.49 C156.37 769.02 158.87 770.42 161.36 771.55 C163.85 772.67 166.35 771.27 168.84 773.24 C171.33 775.21 173.83 780.21 176.32 783.36 C178.81 786.51 182.55 790.67 183.80 792.14 L183.80 798.21 C182.55 796.86 178.81 793.15 176.32 790.11 C173.83 787.07 171.33 781.96 168.84 779.99 C166.35 778.02 163.85 779.42 161.36 778.30 C158.87 777.17 156.37 775.77 153.88 773.24 C151.39 770.71 148.89 766.35 146.40 763.11 C143.91 759.88 141.41 755.80 138.92 753.83 C136.43 751.86 133.93 752.28 131.44 751.30 C128.95 750.32 126.45 749.05 123.96 747.92 C121.47 746.80 118.97 744.27 116.48 744.55 C113.99 744.83 111.49 748.77 109.00 749.61 C106.51 750.46 104.01 748.49 101.52 749.61 C99.03 750.74 96.53 754.53 94.04 756.36 C91.55 758.19 89.05 758.33 86.56 760.58 C84.07 762.83 81.57 766.63 79.08 769.86 C76.59 773.10 74.09 775.77 71.60 779.99 C69.11 784.21 66.61 789.41 64.12 795.17 C61.63 800.94 59.13 808.67 56.64 814.58 C54.15 820.49 51.65 825.41 49.16 830.61 C46.67 835.82 42.93 843.27 41.68 845.80 Z" fill="#e3dfcc"/>
<line x1="41.68" y1="844.96" x2="41.68" y2="845.80" stroke="#7d7440" stroke-width="0.45" opacity="0.55"/>
<line x1="49.16" y1="827.24" x2="49.16" y2="830.61" stroke="#7d7440" stroke-width="0.45" opacity="0.55"/>
<line x1="56.64" y1="809.52" x2="56.64" y2="814.58" stroke="#7d7440" stroke-width="0.45" opacity="0.55"/>
<line x1="64.12" y1="788.42" x2="64.12" y2="795.17" stroke="#7d7440" stroke-width="0.45" opacity="0.55"/>
<line x1="71.60" y1="773.24" x2="71.60" y2="779.99" stroke="#7d7440" stroke-width="0.45" opacity="0.55"/>
<line x1="79.08" y1="763.11" x2="79.08" y2="769.86" stroke="#7d7440" stroke-width="0.45" opacity="0.55"/>
<line x1="86.56" y1="753.83" x2="86.56" y2="760.58" stroke="#7d7440" stroke-width="0.45" opacity="0.55"/>
<line x1="94.04" y1="749.61" x2="94.04" y2="756.36" stroke="#7d7440" stroke-width="0.45" opacity="0.55"/>
<line x1="101.52" y1="742.86" x2="101.52" y2="749.61" stroke="#7d7440" stroke-width="0.45" opacity="0.55"/>
<line x1="109.00" y1="742.86" x2="109.00" y2="749.61" stroke="#7d7440" stroke-width="0.45" opacity="0.55"/>
<line x1="116.48" y1="737.80" x2="116.48" y2="744.55" stroke="#7d7440" stroke-width="0.45" opacity="0.55"/>
<line x1="123.96" y1="741.17" x2="123.96" y2="747.92" stroke="#7d7440" stroke-width="0.45" opacity="0.55"/>
<line x1="131.44" y1="744.55" x2="131.44" y2="751.30" stroke="#7d7440" stroke-width="0.45" opacity="0.55"/>
<line x1="138.92" y1="747.08" x2="138.92" y2="753.83" stroke="#7d7440" stroke-width="0.45" opacity="0.55"/>
<line x1="146.40" y1="756.36" x2="146.40" y2="763.11" stroke="#7d7440" stroke-width="0.45" opacity="0.55"/>
<line x1="153.88" y1="766.49" x2="153.88" y2="773.24" stroke="#7d7440" stroke-width="0.45" opacity="0.55"/>
<line x1="161.36" y1="771.55" x2="161.36" y2="778.30" stroke="#7d7440" stroke-width="0.45" opacity="0.55"/>
<line x1="168.84" y1="773.24" x2="168.84" y2="779.99" stroke="#7d7440" stroke-width="0.45" opacity="0.55"/>
<line x1="176.32" y1="783.36" x2="176.32" y2="790.11" stroke="#7d7440" stroke-width="0.45" opacity="0.55"/>
<line x1="183.80" y1="792.14" x2="183.80" y2="798.21" stroke="#7d7440" stroke-width="0.45" opacity="0.55"/>
<path d="M41.68 844.96 C42.93 842.00 46.67 833.14 49.16 827.24 C51.65 821.33 54.15 815.99 56.64 809.52 C59.13 803.05 61.63 794.47 64.12 788.42 C66.61 782.38 69.11 777.46 71.60 773.24 C74.09 769.02 76.59 766.35 79.08 763.11 C81.57 759.88 84.07 756.08 86.56 753.83 C89.05 751.58 91.55 751.44 94.04 749.61 C96.53 747.78 99.03 743.99 101.52 742.86 C104.01 741.74 106.51 743.71 109.00 742.86 C111.49 742.02 113.99 738.08 116.48 737.80 C118.97 737.52 121.47 740.05 123.96 741.17 C126.45 742.30 128.95 743.57 131.44 744.55 C133.93 745.53 136.43 745.11 138.92 747.08 C141.41 749.05 143.91 753.13 146.40 756.36 C148.89 759.60 151.39 763.96 153.88 766.49 C156.37 769.02 158.87 770.42 161.36 771.55 C163.85 772.67 166.35 771.27 168.84 773.24 C171.33 775.21 173.83 780.21 176.32 783.36 C178.81 786.51 182.55 790.67 183.80 792.14" fill="none" stroke="#7d7440" stroke-width="0.65"/>
<path d="M41.68 845.80 C42.93 843.27 46.67 835.82 49.16 830.61 C51.65 825.41 54.15 820.49 56.64 814.58 C59.13 808.67 61.63 800.94 64.12 795.17 C66.61 789.41 69.11 784.21 71.60 779.99 C74.09 775.77 76.59 773.10 79.08 769.86 C81.57 766.63 84.07 762.83 86.56 760.58 C89.05 758.33 91.55 758.19 94.04 756.36 C96.53 754.53 99.03 750.74 101.52 749.61 C104.01 748.49 106.51 750.46 109.00 749.61 C111.49 748.77 113.99 744.83 116.48 744.55 C118.97 744.27 121.47 746.80 123.96 747.92 C126.45 749.05 128.95 750.32 131.44 751.30 C133.93 752.28 136.43 751.86 138.92 753.83 C141.41 755.80 143.91 759.88 146.40 763.11 C148.89 766.35 151.39 770.71 153.88 773.24 C156.37 775.77 158.87 777.17 161.36 778.30 C163.85 779.42 166.35 778.02 168.84 779.99 C171.33 781.96 173.83 787.07 176.32 790.11 C178.81 793.15 182.55 796.86 183.80 798.21" fill="none" stroke="#7d7440" stroke-width="0.65"/>
<path d="M41.68 845.80 C42.93 842.99 46.67 834.55 49.16 828.92 C51.65 823.30 54.15 818.24 56.64 812.05 C59.13 805.86 61.63 797.71 64.12 791.80 C66.61 785.89 69.11 780.83 71.60 776.61 C74.09 772.39 76.59 769.72 79.08 766.49 C81.57 763.25 84.07 759.46 86.56 757.21 C89.05 754.96 91.55 754.82 94.04 752.99 C96.53 751.16 99.03 747.36 101.52 746.24 C104.01 745.11 106.51 747.08 109.00 746.24 C111.49 745.39 113.99 741.46 116.48 741.17 C118.97 740.89 121.47 743.42 123.96 744.55 C126.45 745.67 128.95 746.94 131.44 747.92 C133.93 748.91 136.43 748.49 138.92 750.46 C141.41 752.42 143.91 756.50 146.40 759.74 C148.89 762.97 151.39 767.33 153.88 769.86 C156.37 772.39 158.87 773.80 161.36 774.92 C163.85 776.05 166.35 774.64 168.84 776.61 C171.33 778.58 173.83 783.64 176.32 786.74 C178.81 789.83 182.55 793.77 183.80 795.17" fill="none" stroke="#7d7440" stroke-width="0.8"/>
<rect x="40.18000000000001" y="844.3" width="3" height="3" fill="#6a5a1c" stroke="none" stroke-width="1"/>
<rect x="47.660000000000004" y="827.425" width="3" height="3" fill="#6a5a1c" stroke="none" stroke-width="1"/>
<rect x="55.14" y="810.55" width="3" height="3" fill="#6a5a1c" stroke="none" stroke-width="1"/>
<rect x="62.620000000000005" y="790.3" width="3" height="3" fill="#6a5a1c" stroke="none" stroke-width="1"/>
<rect x="70.1" y="775.1125" width="3" height="3" fill="#6a5a1c" stroke="none" stroke-width="1"/>
<rect x="77.58000000000001" y="764.9875" width="3" height="3" fill="#6a5a1c" stroke="none" stroke-width="1"/>
<rect x="85.06" y="755.70625" width="3" height="3" fill="#6a5a1c" stroke="none" stroke-width="1"/>
<rect x="92.54" y="751.4875" width="3" height="3" fill="#6a5a1c" stroke="none" stroke-width="1"/>
<rect x="100.02" y="744.7375" width="3" height="3" fill="#6a5a1c" stroke="none" stroke-width="1"/>
<rect x="107.5" y="744.7375" width="3" height="3" fill="#6a5a1c" stroke="none" stroke-width="1"/>
<rect x="114.98" y="739.675" width="3" height="3" fill="#6a5a1c" stroke="none" stroke-width="1"/>
<rect x="122.46000000000001" y="743.05" width="3" height="3" fill="#6a5a1c" stroke="none" stroke-width="1"/>
<rect x="129.94" y="746.425" width="3" height="3" fill="#6a5a1c" stroke="none" stroke-width="1"/>
<rect x="137.42000000000002" y="748.95625" width="3" height="3" fill="#6a5a1c" stroke="none" stroke-width="1"/>
<rect x="144.9" y="758.2375" width="3" height="3" fill="#6a5a1c" stroke="none" stroke-width="1"/>
<rect x="152.38" y="768.3625" width="3" height="3" fill="#6a5a1c" stroke="none" stroke-width="1"/>
<rect x="159.86" y="773.425" width="3" height="3" fill="#6a5a1c" stroke="none" stroke-width="1"/>
<rect x="167.33999999999997" y="775.1125" width="3" height="3" fill="#6a5a1c" stroke="none" stroke-width="1"/>
<rect x="174.82" y="785.2375" width="3" height="3" fill="#6a5a1c" stroke="none" stroke-width="1"/>
<rect x="182.3" y="793.675" width="3" height="3" fill="#6a5a1c" stroke="none" stroke-width="1"/>
<path d="M41.68 844.96 C42.93 841.16 46.67 828.78 49.16 822.17 C51.65 815.57 54.15 811.35 56.64 805.30 C59.13 799.25 61.63 792.87 64.12 785.89 C66.61 778.92 69.11 770.00 71.60 763.45 C74.09 756.90 76.59 752.48 79.08 746.57 C81.57 740.67 84.07 732.51 86.56 728.01 C89.05 723.51 91.55 720.98 94.04 719.57 C96.53 718.17 99.03 719.01 101.52 719.57 C104.01 720.14 106.51 722.11 109.00 722.95 C111.49 723.79 113.99 723.51 116.48 724.64 C118.97 725.76 121.47 729.42 123.96 729.70 C126.45 729.98 128.95 725.76 131.44 726.32 C133.93 726.89 136.43 731.11 138.92 733.07 C141.41 735.04 143.91 735.61 146.40 738.14 C148.89 740.67 151.39 745.45 153.88 748.26 C156.37 751.07 158.87 753.04 161.36 755.01 C163.85 756.98 166.35 757.74 168.84 760.07 C171.33 762.41 173.83 765.19 176.32 769.02 C178.81 772.84 182.55 780.69 183.80 783.02 L183.80 790.45 C182.55 788.28 178.81 780.94 176.32 777.46 C173.83 773.97 171.33 771.69 168.84 769.52 C166.35 767.36 163.85 766.43 161.36 764.46 C158.87 762.49 156.37 760.52 153.88 757.71 C151.39 754.90 148.89 750.12 146.40 747.59 C143.91 745.06 141.41 744.49 138.92 742.52 C136.43 740.56 133.93 736.34 131.44 735.77 C128.95 735.21 126.45 739.43 123.96 739.15 C121.47 738.87 118.97 735.21 116.48 734.09 C113.99 732.96 111.49 733.24 109.00 732.40 C106.51 731.56 104.01 729.59 101.52 729.02 C99.03 728.46 96.53 727.62 94.04 729.02 C91.55 730.43 89.05 732.96 86.56 737.46 C84.07 741.96 81.57 750.12 79.08 756.02 C76.59 761.93 74.09 766.52 71.60 772.90 C69.11 779.28 66.61 787.81 64.12 794.33 C61.63 800.86 59.13 806.85 56.64 812.05 C54.15 817.25 51.65 819.92 49.16 825.55 C46.67 831.17 42.93 842.42 41.68 845.80 Z" fill="#d6f7fa"/>
<line x1="41.68" y1="844.96" x2="41.68" y2="845.80" stroke="#6ee8f5" stroke-width="0.45" opacity="0.55"/>
<line x1="49.16" y1="822.17" x2="49.16" y2="825.55" stroke="#6ee8f5" stroke-width="0.45" opacity="0.55"/>
<line x1="56.64" y1="805.30" x2="56.64" y2="812.05" stroke="#6ee8f5" stroke-width="0.45" opacity="0.55"/>
<line x1="64.12" y1="785.89" x2="64.12" y2="794.33" stroke="#6ee8f5" stroke-width="0.45" opacity="0.55"/>
<line x1="71.60" y1="763.45" x2="71.60" y2="772.90" stroke="#6ee8f5" stroke-width="0.45" opacity="0.55"/>
<line x1="79.08" y1="746.57" x2="79.08" y2="756.02" stroke="#6ee8f5" stroke-width="0.45" opacity="0.55"/>
<line x1="86.56" y1="728.01" x2="86.56" y2="737.46" stroke="#6ee8f5" stroke-width="0.45" opacity="0.55"/>
<line x1="94.04" y1="719.57" x2="94.04" y2="729.02" stroke="#6ee8f5" stroke-width="0.45" opacity="0.55"/>
<line x1="101.52" y1="719.57" x2="101.52" y2="729.02" stroke="#6ee8f5" stroke-width="0.45" opacity="0.55"/>
<line x1="109.00" y1="722.95" x2="109.00" y2="732.40" stroke="#6ee8f5" stroke-width="0.45" opacity="0.55"/>
<line x1="116.48" y1="724.64" x2="116.48" y2="734.09" stroke="#6ee8f5" stroke-width="0.45" opacity="0.55"/>
<line x1="123.96" y1="729.70" x2="123.96" y2="739.15" stroke="#6ee8f5" stroke-width="0.45" opacity="0.55"/>
<line x1="131.44" y1="726.32" x2="131.44" y2="735.77" stroke="#6ee8f5" stroke-width="0.45" opacity="0.55"/>
<line x1="138.92" y1="733.07" x2="138.92" y2="742.52" stroke="#6ee8f5" stroke-width="0.45" opacity="0.55"/>
<line x1="146.40" y1="738.14" x2="146.40" y2="747.59" stroke="#6ee8f5" stroke-width="0.45" opacity="0.55"/>
<line x1="153.88" y1="748.26" x2="153.88" y2="757.71" stroke="#6ee8f5" stroke-width="0.45" opacity="0.55"/>
<line x1="161.36" y1="755.01" x2="161.36" y2="764.46" stroke="#6ee8f5" stroke-width="0.45" opacity="0.55"/>
<line x1="168.84" y1="760.07" x2="168.84" y2="769.52" stroke="#6ee8f5" stroke-width="0.45" opacity="0.55"/>
<line x1="176.32" y1="769.02" x2="176.32" y2="777.46" stroke="#6ee8f5" stroke-width="0.45" opacity="0.55"/>
<line x1="183.80" y1="783.02" x2="183.80" y2="790.45" stroke="#6ee8f5" stroke-width="0.45" opacity="0.55"/>
<path d="M41.68 844.96 C42.93 841.16 46.67 828.78 49.16 822.17 C51.65 815.57 54.15 811.35 56.64 805.30 C59.13 799.25 61.63 792.87 64.12 785.89 C66.61 778.92 69.11 770.00 71.60 763.45 C74.09 756.90 76.59 752.48 79.08 746.57 C81.57 740.67 84.07 732.51 86.56 728.01 C89.05 723.51 91.55 720.98 94.04 719.57 C96.53 718.17 99.03 719.01 101.52 719.57 C104.01 720.14 106.51 722.11 109.00 722.95 C111.49 723.79 113.99 723.51 116.48 724.64 C118.97 725.76 121.47 729.42 123.96 729.70 C126.45 729.98 128.95 725.76 131.44 726.32 C133.93 726.89 136.43 731.11 138.92 733.07 C141.41 735.04 143.91 735.61 146.40 738.14 C148.89 740.67 151.39 745.45 153.88 748.26 C156.37 751.07 158.87 753.04 161.36 755.01 C163.85 756.98 166.35 757.74 168.84 760.07 C171.33 762.41 173.83 765.19 176.32 769.02 C178.81 772.84 182.55 780.69 183.80 783.02" fill="none" stroke="#6ee8f5" stroke-width="0.65"/>
<path d="M41.68 845.80 C42.93 842.42 46.67 831.17 49.16 825.55 C51.65 819.92 54.15 817.25 56.64 812.05 C59.13 806.85 61.63 800.86 64.12 794.33 C66.61 787.81 69.11 779.28 71.60 772.90 C74.09 766.52 76.59 761.93 79.08 756.02 C81.57 750.12 84.07 741.96 86.56 737.46 C89.05 732.96 91.55 730.43 94.04 729.02 C96.53 727.62 99.03 728.46 101.52 729.02 C104.01 729.59 106.51 731.56 109.00 732.40 C111.49 733.24 113.99 732.96 116.48 734.09 C118.97 735.21 121.47 738.87 123.96 739.15 C126.45 739.43 128.95 735.21 131.44 735.77 C133.93 736.34 136.43 740.56 138.92 742.52 C141.41 744.49 143.91 745.06 146.40 747.59 C148.89 750.12 151.39 754.90 153.88 757.71 C156.37 760.52 158.87 762.49 161.36 764.46 C163.85 766.43 166.35 767.36 168.84 769.52 C171.33 771.69 173.83 773.97 176.32 777.46 C178.81 780.94 182.55 788.28 183.80 790.45" fill="none" stroke="#6ee8f5" stroke-width="0.65"/>
<path d="M41.68 845.80 C42.93 842.14 46.67 830.05 49.16 823.86 C51.65 817.67 54.15 814.30 56.64 808.67 C59.13 803.05 61.63 796.86 64.12 790.11 C66.61 783.36 69.11 774.64 71.60 768.17 C74.09 761.71 76.59 757.21 79.08 751.30 C81.57 745.39 84.07 737.24 86.56 732.74 C89.05 728.24 91.55 725.71 94.04 724.30 C96.53 722.89 99.03 723.74 101.52 724.30 C104.01 724.86 106.51 726.83 109.00 727.67 C111.49 728.52 113.99 728.24 116.48 729.36 C118.97 730.49 121.47 734.14 123.96 734.42 C126.45 734.71 128.95 730.49 131.44 731.05 C133.93 731.61 136.43 735.83 138.92 737.80 C141.41 739.77 143.91 740.33 146.40 742.86 C148.89 745.39 151.39 750.17 153.88 752.99 C156.37 755.80 158.87 757.77 161.36 759.74 C163.85 761.71 166.35 762.55 168.84 764.80 C171.33 767.05 173.83 769.58 176.32 773.24 C178.81 776.89 182.55 784.49 183.80 786.74" fill="none" stroke="#66e6f4" stroke-width="0.8"/>
<circle cx="41.68" cy="845.80" r="1.55" fill="#5fe4f6"/>
<circle cx="49.16" cy="823.86" r="1.55" fill="#5fe4f6"/>
<circle cx="56.64" cy="808.67" r="1.55" fill="#5fe4f6"/>
<circle cx="64.12" cy="790.11" r="1.55" fill="#5fe4f6"/>
<circle cx="71.60" cy="768.17" r="1.55" fill="#5fe4f6"/>
<circle cx="79.08" cy="751.30" r="1.55" fill="#5fe4f6"/>
<circle cx="86.56" cy="732.74" r="1.55" fill="#5fe4f6"/>
<circle cx="94.04" cy="724.30" r="1.55" fill="#5fe4f6"/>
<circle cx="101.52" cy="724.30" r="1.55" fill="#5fe4f6"/>
<circle cx="109.00" cy="727.67" r="1.55" fill="#5fe4f6"/>
<circle cx="116.48" cy="729.36" r="1.55" fill="#5fe4f6"/>
<circle cx="123.96" cy="734.42" r="1.55" fill="#5fe4f6"/>
<circle cx="131.44" cy="731.05" r="1.55" fill="#5fe4f6"/>
<circle cx="138.92" cy="737.80" r="1.55" fill="#5fe4f6"/>
<circle cx="146.40" cy="742.86" r="1.55" fill="#5fe4f6"/>
<circle cx="153.88" cy="752.99" r="1.55" fill="#5fe4f6"/>
<circle cx="161.36" cy="759.74" r="1.55" fill="#5fe4f6"/>
<circle cx="168.84" cy="764.80" r="1.55" fill="#5fe4f6"/>
<circle cx="176.32" cy="773.24" r="1.55" fill="#5fe4f6"/>
<circle cx="183.80" cy="786.74" r="1.55" fill="#5fe4f6"/>
<path d="M41.68 844.96 C42.93 842.28 46.67 833.14 49.16 828.92 C51.65 824.71 54.15 822.68 56.64 819.64 C59.13 816.61 61.63 814.19 64.12 810.70 C66.61 807.21 69.11 802.40 71.60 798.72 C74.09 795.03 76.59 791.12 79.08 788.59 C81.57 786.06 84.07 784.94 86.56 783.53 C89.05 782.12 91.55 780.30 94.04 780.16 C96.53 780.02 99.03 783.53 101.52 782.69 C104.01 781.84 106.51 776.36 109.00 775.09 C111.49 773.83 113.99 774.25 116.48 775.09 C118.97 775.94 121.47 778.05 123.96 780.16 C126.45 782.27 128.95 786.48 131.44 787.75 C133.93 789.02 136.43 787.61 138.92 787.75 C141.41 787.89 143.91 788.88 146.40 788.59 C148.89 788.31 151.39 785.78 153.88 786.06 C156.37 786.34 158.87 789.58 161.36 790.28 C163.85 790.98 166.35 789.18 168.84 790.28 C171.33 791.38 173.83 795.62 176.32 796.86 C178.81 798.10 182.55 797.57 183.80 797.71 L183.80 802.77 C182.55 802.63 178.81 802.94 176.32 801.92 C173.83 800.91 171.33 797.57 168.84 796.69 C166.35 795.82 163.85 797.40 161.36 796.69 C158.87 795.99 156.37 792.76 153.88 792.47 C151.39 792.19 148.89 794.72 146.40 795.01 C143.91 795.29 141.41 794.30 138.92 794.16 C136.43 794.02 133.93 795.43 131.44 794.16 C128.95 792.90 126.45 788.68 123.96 786.57 C121.47 784.46 118.97 782.35 116.48 781.51 C113.99 780.66 111.49 780.24 109.00 781.51 C106.51 782.77 104.01 788.26 101.52 789.10 C99.03 789.94 96.53 786.43 94.04 786.57 C91.55 786.71 89.05 788.54 86.56 789.94 C84.07 791.35 81.57 792.47 79.08 795.01 C76.59 797.54 74.09 801.50 71.60 805.13 C69.11 808.76 66.61 813.51 64.12 816.77 C61.63 820.04 59.13 822.12 56.64 824.71 C54.15 827.29 51.65 828.78 49.16 832.30 C46.67 835.82 42.93 843.55 41.68 845.80 Z" fill="#d9e6d2"/>
<line x1="41.68" y1="844.96" x2="41.68" y2="845.80" stroke="#4a9e3a" stroke-width="0.45" opacity="0.55"/>
<line x1="49.16" y1="828.92" x2="49.16" y2="832.30" stroke="#4a9e3a" stroke-width="0.45" opacity="0.55"/>
<line x1="56.64" y1="819.64" x2="56.64" y2="824.71" stroke="#4a9e3a" stroke-width="0.45" opacity="0.55"/>
<line x1="64.12" y1="810.70" x2="64.12" y2="816.77" stroke="#4a9e3a" stroke-width="0.45" opacity="0.55"/>
<line x1="71.60" y1="798.72" x2="71.60" y2="805.13" stroke="#4a9e3a" stroke-width="0.45" opacity="0.55"/>
<line x1="79.08" y1="788.59" x2="79.08" y2="795.01" stroke="#4a9e3a" stroke-width="0.45" opacity="0.55"/>
<line x1="86.56" y1="783.53" x2="86.56" y2="789.94" stroke="#4a9e3a" stroke-width="0.45" opacity="0.55"/>
<line x1="94.04" y1="780.16" x2="94.04" y2="786.57" stroke="#4a9e3a" stroke-width="0.45" opacity="0.55"/>
<line x1="101.52" y1="782.69" x2="101.52" y2="789.10" stroke="#4a9e3a" stroke-width="0.45" opacity="0.55"/>
<line x1="109.00" y1="775.09" x2="109.00" y2="781.51" stroke="#4a9e3a" stroke-width="0.45" opacity="0.55"/>
<line x1="116.48" y1="775.09" x2="116.48" y2="781.51" stroke="#4a9e3a" stroke-width="0.45" opacity="0.55"/>
<line x1="123.96" y1="780.16" x2="123.96" y2="786.57" stroke="#4a9e3a" stroke-width="0.45" opacity="0.55"/>
<line x1="131.44" y1="787.75" x2="131.44" y2="794.16" stroke="#4a9e3a" stroke-width="0.45" opacity="0.55"/>
<line x1="138.92" y1="787.75" x2="138.92" y2="794.16" stroke="#4a9e3a" stroke-width="0.45" opacity="0.55"/>
<line x1="146.40" y1="788.59" x2="146.40" y2="795.01" stroke="#4a9e3a" stroke-width="0.45" opacity="0.55"/>
<line x1="153.88" y1="786.06" x2="153.88" y2="792.47" stroke="#4a9e3a" stroke-width="0.45" opacity="0.55"/>
<line x1="161.36" y1="790.28" x2="161.36" y2="796.69" stroke="#4a9e3a" stroke-width="0.45" opacity="0.55"/>
<line x1="168.84" y1="790.28" x2="168.84" y2="796.69" stroke="#4a9e3a" stroke-width="0.45" opacity="0.55"/>
<line x1="176.32" y1="796.86" x2="176.32" y2="801.92" stroke="#4a9e3a" stroke-width="0.45" opacity="0.55"/>
<line x1="183.80" y1="797.71" x2="183.80" y2="802.77" stroke="#4a9e3a" stroke-width="0.45" opacity="0.55"/>
<path d="M41.68 844.96 C42.93 842.28 46.67 833.14 49.16 828.92 C51.65 824.71 54.15 822.68 56.64 819.64 C59.13 816.61 61.63 814.19 64.12 810.70 C66.61 807.21 69.11 802.40 71.60 798.72 C74.09 795.03 76.59 791.12 79.08 788.59 C81.57 786.06 84.07 784.94 86.56 783.53 C89.05 782.12 91.55 780.30 94.04 780.16 C96.53 780.02 99.03 783.53 101.52 782.69 C104.01 781.84 106.51 776.36 109.00 775.09 C111.49 773.83 113.99 774.25 116.48 775.09 C118.97 775.94 121.47 778.05 123.96 780.16 C126.45 782.27 128.95 786.48 131.44 787.75 C133.93 789.02 136.43 787.61 138.92 787.75 C141.41 787.89 143.91 788.88 146.40 788.59 C148.89 788.31 151.39 785.78 153.88 786.06 C156.37 786.34 158.87 789.58 161.36 790.28 C163.85 790.98 166.35 789.18 168.84 790.28 C171.33 791.38 173.83 795.62 176.32 796.86 C178.81 798.10 182.55 797.57 183.80 797.71" fill="none" stroke="#4a9e3a" stroke-width="0.65"/>
<path d="M41.68 845.80 C42.93 843.55 46.67 835.82 49.16 832.30 C51.65 828.78 54.15 827.29 56.64 824.71 C59.13 822.12 61.63 820.04 64.12 816.77 C66.61 813.51 69.11 808.76 71.60 805.13 C74.09 801.50 76.59 797.54 79.08 795.01 C81.57 792.47 84.07 791.35 86.56 789.94 C89.05 788.54 91.55 786.71 94.04 786.57 C96.53 786.43 99.03 789.94 101.52 789.10 C104.01 788.26 106.51 782.77 109.00 781.51 C111.49 780.24 113.99 780.66 116.48 781.51 C118.97 782.35 121.47 784.46 123.96 786.57 C126.45 788.68 128.95 792.90 131.44 794.16 C133.93 795.43 136.43 794.02 138.92 794.16 C141.41 794.30 143.91 795.29 146.40 795.01 C148.89 794.72 151.39 792.19 153.88 792.47 C156.37 792.76 158.87 795.99 161.36 796.69 C163.85 797.40 166.35 795.82 168.84 796.69 C171.33 797.57 173.83 800.91 176.32 801.92 C178.81 802.94 182.55 802.63 183.80 802.77" fill="none" stroke="#4a9e3a" stroke-width="0.65"/>
<path d="M41.68 845.80 C42.93 843.27 46.67 834.55 49.16 830.61 C51.65 826.67 54.15 824.99 56.64 822.17 C59.13 819.36 61.63 817.11 64.12 813.74 C66.61 810.36 69.11 805.58 71.60 801.92 C74.09 798.27 76.59 794.33 79.08 791.80 C81.57 789.27 84.07 788.14 86.56 786.74 C89.05 785.33 91.55 783.50 94.04 783.36 C96.53 783.22 99.03 786.74 101.52 785.89 C104.01 785.05 106.51 779.57 109.00 778.30 C111.49 777.03 113.99 777.46 116.48 778.30 C118.97 779.14 121.47 781.25 123.96 783.36 C126.45 785.47 128.95 789.69 131.44 790.96 C133.93 792.22 136.43 790.82 138.92 790.96 C141.41 791.10 143.91 792.08 146.40 791.80 C148.89 791.52 151.39 788.99 153.88 789.27 C156.37 789.55 158.87 792.78 161.36 793.49 C163.85 794.19 166.35 792.50 168.84 793.49 C171.33 794.47 173.83 798.27 176.32 799.39 C178.81 800.52 182.55 800.10 183.80 800.24" fill="none" stroke="#4aa63a" stroke-width="0.8"/>
<polygon points="41.68,843.90 43.48,847.00 39.88,847.00" fill="#38e030"/>
<polygon points="49.16,828.71 50.96,831.81 47.36,831.81" fill="#38e030"/>
<polygon points="56.64,820.27 58.44,823.38 54.84,823.38" fill="#38e030"/>
<polygon points="64.12,811.84 65.92,814.94 62.32,814.94" fill="#38e030"/>
<polygon points="71.60,800.02 73.40,803.12 69.80,803.12" fill="#38e030"/>
<polygon points="79.08,789.90 80.88,793.00 77.28,793.00" fill="#38e030"/>
<polygon points="86.56,784.84 88.36,787.94 84.76,787.94" fill="#38e030"/>
<polygon points="94.04,781.46 95.84,784.56 92.24,784.56" fill="#38e030"/>
<polygon points="101.52,783.99 103.32,787.09 99.72,787.09" fill="#38e030"/>
<polygon points="109.00,776.40 110.80,779.50 107.20,779.50" fill="#38e030"/>
<polygon points="116.48,776.40 118.28,779.50 114.68,779.50" fill="#38e030"/>
<polygon points="123.96,781.46 125.76,784.56 122.16,784.56" fill="#38e030"/>
<polygon points="131.44,789.06 133.24,792.16 129.64,792.16" fill="#38e030"/>
<polygon points="138.92,789.06 140.72,792.16 137.12,792.16" fill="#38e030"/>
<polygon points="146.40,789.90 148.20,793.00 144.60,793.00" fill="#38e030"/>
<polygon points="153.88,787.37 155.68,790.47 152.08,790.47" fill="#38e030"/>
<polygon points="161.36,791.59 163.16,794.69 159.56,794.69" fill="#38e030"/>
<polygon points="168.84,791.59 170.64,794.69 167.04,794.69" fill="#38e030"/>
<polygon points="176.32,797.49 178.12,800.59 174.52,800.59" fill="#38e030"/>
<polygon points="183.80,798.34 185.60,801.44 182.00,801.44" fill="#38e030"/>
<line x1="167.1" y1="713.3" x2="182.79999999999998" y2="713.3" stroke="#7d7440" stroke-width="1.2"/>
<rect x="173.4" y="711.8" width="3" height="3" fill="#6a5a1c" stroke="none" stroke-width="1"/>
<text x="185.1" y="715.5999999999999" font-size="6.9" text-anchor="start" fill="#1a1a1a" stroke="#1a1a1a" stroke-width="0.3" font-weight="bold">Control</text>
<line x1="167.1" y1="722.0" x2="182.79999999999998" y2="722.0" stroke="#66e6f4" stroke-width="1.2"/>
<circle cx="174.90" cy="722.00" r="1.55" fill="#5fe4f6"/>
<text x="185.1" y="724.3" font-size="6.9" text-anchor="start" fill="#1a1a1a" stroke="#1a1a1a" stroke-width="0.3" font-weight="bold">p13f4</text>
<line x1="167.1" y1="730.6999999999999" x2="182.79999999999998" y2="730.6999999999999" stroke="#4aa63a" stroke-width="1.2"/>
<polygon points="174.90,728.80 176.70,731.90 173.10,731.90" fill="#38e030"/>
<text x="185.1" y="732.9999999999999" font-size="6.9" text-anchor="start" fill="#1a1a1a" stroke="#1a1a1a" stroke-width="0.3" font-weight="bold">p6b2</text>
<text x="136" y="684" font-size="10.5" fill="#1a1a1a" textLength="106.5" lengthAdjust="spacingAndGlyphs"><tspan font-weight="bold">CA1</tspan> pyramidal neurons</text>
<line x1="386.3" y1="712" x2="386.3" y2="845.5" stroke="#444" stroke-width="0.9"/>
<line x1="386.3" y1="845.5" x2="537.4" y2="845.5" stroke="#444" stroke-width="0.9"/>
<line x1="383.8" y1="845.5" x2="386.3" y2="845.5" stroke="#444" stroke-width="0.8"/>
<text x="382.1" y="847.5" font-size="5.04" text-anchor="end" fill="#222" stroke="#222" stroke-width="0.3" font-weight="bold">0</text>
<line x1="383.8" y1="812.3" x2="386.3" y2="812.3" stroke="#444" stroke-width="0.8"/>
<text x="382.1" y="814.3" font-size="5.04" text-anchor="end" fill="#222" stroke="#222" stroke-width="0.3" font-weight="bold">20</text>
<line x1="383.8" y1="779.1" x2="386.3" y2="779.1" stroke="#444" stroke-width="0.8"/>
<text x="382.1" y="781.1" font-size="5.04" text-anchor="end" fill="#222" stroke="#222" stroke-width="0.3" font-weight="bold">40</text>
<line x1="383.8" y1="745.9" x2="386.3" y2="745.9" stroke="#444" stroke-width="0.8"/>
<text x="382.1" y="747.9" font-size="5.04" text-anchor="end" fill="#222" stroke="#222" stroke-width="0.3" font-weight="bold">60</text>
<line x1="383.8" y1="712.7" x2="386.3" y2="712.7" stroke="#444" stroke-width="0.8"/>
<text x="382.1" y="714.7" font-size="5.04" text-anchor="end" fill="#222" stroke="#222" stroke-width="0.3" font-weight="bold">80</text>
<line x1="384.8" y1="828.9" x2="386.3" y2="828.9" stroke="#444" stroke-width="0.7"/>
<line x1="384.8" y1="795.7" x2="386.3" y2="795.7" stroke="#444" stroke-width="0.7"/>
<line x1="384.8" y1="762.5" x2="386.3" y2="762.5" stroke="#444" stroke-width="0.7"/>
<line x1="384.8" y1="729.3" x2="386.3" y2="729.3" stroke="#444" stroke-width="0.7"/>
<line x1="386.3" y1="844.3" x2="386.3" y2="847.0" stroke="#444" stroke-width="0.8"/>
<text x="386.3" y="854.1" font-size="5.3100000000000005" text-anchor="middle" fill="#222" stroke="#222" stroke-width="0.3" font-weight="bold">0</text>
<line x1="419.85" y1="844.3" x2="419.85" y2="847.0" stroke="#444" stroke-width="0.8"/>
<text x="419.85" y="854.1" font-size="5.3100000000000005" text-anchor="middle" fill="#222" stroke="#222" stroke-width="0.3" font-weight="bold">50</text>
<line x1="453.40000000000003" y1="844.3" x2="453.40000000000003" y2="847.0" stroke="#444" stroke-width="0.8"/>
<text x="453.40000000000003" y="854.1" font-size="5.3100000000000005" text-anchor="middle" fill="#222" stroke="#222" stroke-width="0.3" font-weight="bold">100</text>
<line x1="486.95000000000005" y1="844.3" x2="486.95000000000005" y2="847.0" stroke="#444" stroke-width="0.8"/>
<text x="486.95000000000005" y="854.1" font-size="5.3100000000000005" text-anchor="middle" fill="#222" stroke="#222" stroke-width="0.3" font-weight="bold">150</text>
<line x1="520.5" y1="844.3" x2="520.5" y2="847.0" stroke="#444" stroke-width="0.8"/>
<text x="520.5" y="854.1" font-size="5.3100000000000005" text-anchor="middle" fill="#222" stroke="#222" stroke-width="0.3" font-weight="bold">200</text>
<line x1="403.075" y1="844.5" x2="403.075" y2="846.5" stroke="#444" stroke-width="0.7"/>
<line x1="436.625" y1="844.5" x2="436.625" y2="846.5" stroke="#444" stroke-width="0.7"/>
<line x1="470.175" y1="844.5" x2="470.175" y2="846.5" stroke="#444" stroke-width="0.7"/>
<line x1="503.725" y1="844.5" x2="503.725" y2="846.5" stroke="#444" stroke-width="0.7"/>
<line x1="537.2750000000001" y1="844.5" x2="537.2750000000001" y2="846.5" stroke="#444" stroke-width="0.7"/>
<text x="461.5" y="866.5" font-size="6.39" text-anchor="middle" fill="#1a1a1a" stroke="#1a1a1a" stroke-width="0.3" font-weight="bold">Distance from Soma (m<tspan font-size="4.50">μ</tspan>)</text>
<text x="372.3" y="778" font-size="6.9" text-anchor="middle" fill="#1a1a1a" stroke="#1a1a1a" stroke-width="0.3" font-weight="bold" transform="rotate(-90 372.3 778)">Dendritic Length (m<tspan font-size="4.6">μ</tspan>)</text>
<path d="M393.01 844.67 C394.13 838.44 397.48 816.04 399.72 807.32 C401.96 798.61 404.19 797.50 406.43 792.38 C408.67 787.26 410.90 780.76 413.14 776.61 C415.38 772.46 417.61 770.38 419.85 767.48 C422.09 764.58 424.32 761.26 426.56 759.18 C428.80 757.11 431.03 755.58 433.27 755.03 C435.51 754.48 437.74 755.86 439.98 755.86 C442.22 755.86 444.45 755.17 446.69 755.03 C448.93 754.89 451.16 753.92 453.40 755.03 C455.64 756.14 457.87 759.32 460.11 761.67 C462.35 764.02 464.58 769.00 466.82 769.14 C469.06 769.28 471.29 762.36 473.53 762.50 C475.77 762.64 478.00 766.65 480.24 769.97 C482.48 773.29 484.71 779.93 486.95 782.42 C489.19 784.91 491.42 782.97 493.66 784.91 C495.90 786.85 498.13 792.24 500.37 794.04 C502.61 795.84 504.84 795.29 507.08 795.70 C509.32 796.12 511.55 795.84 513.79 796.53 C516.03 797.22 519.38 799.30 520.50 799.85 L520.50 808.15 C519.38 807.60 516.03 805.52 513.79 804.83 C511.55 804.14 509.32 804.41 507.08 804.00 C504.84 803.59 502.61 803.86 500.37 802.34 C498.13 800.82 495.90 796.53 493.66 794.87 C491.42 793.21 489.19 794.32 486.95 792.38 C484.71 790.44 482.48 786.02 480.24 783.25 C478.00 780.48 475.77 775.92 473.53 775.78 C471.29 775.64 469.06 782.56 466.82 782.42 C464.58 782.28 462.35 777.30 460.11 774.95 C457.87 772.60 455.64 769.42 453.40 768.31 C451.16 767.20 448.93 768.17 446.69 768.31 C444.45 768.45 442.22 769.14 439.98 769.14 C437.74 769.14 435.51 767.76 433.27 768.31 C431.03 768.86 428.80 770.38 426.56 772.46 C424.32 774.54 422.09 778.13 419.85 780.76 C417.61 783.39 415.38 784.63 413.14 788.23 C410.90 791.83 408.67 798.05 406.43 802.34 C404.19 806.63 401.96 806.77 399.72 813.96 C397.48 821.15 394.13 840.24 393.01 845.50 Z" fill="#e3dfcc"/>
<line x1="393.01" y1="844.67" x2="393.01" y2="845.50" stroke="#7d7440" stroke-width="0.45" opacity="0.55"/>
<line x1="399.72" y1="807.32" x2="399.72" y2="813.96" stroke="#7d7440" stroke-width="0.45" opacity="0.55"/>
<line x1="406.43" y1="792.38" x2="406.43" y2="802.34" stroke="#7d7440" stroke-width="0.45" opacity="0.55"/>
<line x1="413.14" y1="776.61" x2="413.14" y2="788.23" stroke="#7d7440" stroke-width="0.45" opacity="0.55"/>
<line x1="419.85" y1="767.48" x2="419.85" y2="780.76" stroke="#7d7440" stroke-width="0.45" opacity="0.55"/>
<line x1="426.56" y1="759.18" x2="426.56" y2="772.46" stroke="#7d7440" stroke-width="0.45" opacity="0.55"/>
<line x1="433.27" y1="755.03" x2="433.27" y2="768.31" stroke="#7d7440" stroke-width="0.45" opacity="0.55"/>
<line x1="439.98" y1="755.86" x2="439.98" y2="769.14" stroke="#7d7440" stroke-width="0.45" opacity="0.55"/>
<line x1="446.69" y1="755.03" x2="446.69" y2="768.31" stroke="#7d7440" stroke-width="0.45" opacity="0.55"/>
<line x1="453.40" y1="755.03" x2="453.40" y2="768.31" stroke="#7d7440" stroke-width="0.45" opacity="0.55"/>
<line x1="460.11" y1="761.67" x2="460.11" y2="774.95" stroke="#7d7440" stroke-width="0.45" opacity="0.55"/>
<line x1="466.82" y1="769.14" x2="466.82" y2="782.42" stroke="#7d7440" stroke-width="0.45" opacity="0.55"/>
<line x1="473.53" y1="762.50" x2="473.53" y2="775.78" stroke="#7d7440" stroke-width="0.45" opacity="0.55"/>
<line x1="480.24" y1="769.97" x2="480.24" y2="783.25" stroke="#7d7440" stroke-width="0.45" opacity="0.55"/>
<line x1="486.95" y1="782.42" x2="486.95" y2="792.38" stroke="#7d7440" stroke-width="0.45" opacity="0.55"/>
<line x1="493.66" y1="784.91" x2="493.66" y2="794.87" stroke="#7d7440" stroke-width="0.45" opacity="0.55"/>
<line x1="500.37" y1="794.04" x2="500.37" y2="802.34" stroke="#7d7440" stroke-width="0.45" opacity="0.55"/>
<line x1="507.08" y1="795.70" x2="507.08" y2="804.00" stroke="#7d7440" stroke-width="0.45" opacity="0.55"/>
<line x1="513.79" y1="796.53" x2="513.79" y2="804.83" stroke="#7d7440" stroke-width="0.45" opacity="0.55"/>
<line x1="520.50" y1="799.85" x2="520.50" y2="808.15" stroke="#7d7440" stroke-width="0.45" opacity="0.55"/>
<path d="M393.01 844.67 C394.13 838.44 397.48 816.04 399.72 807.32 C401.96 798.61 404.19 797.50 406.43 792.38 C408.67 787.26 410.90 780.76 413.14 776.61 C415.38 772.46 417.61 770.38 419.85 767.48 C422.09 764.58 424.32 761.26 426.56 759.18 C428.80 757.11 431.03 755.58 433.27 755.03 C435.51 754.48 437.74 755.86 439.98 755.86 C442.22 755.86 444.45 755.17 446.69 755.03 C448.93 754.89 451.16 753.92 453.40 755.03 C455.64 756.14 457.87 759.32 460.11 761.67 C462.35 764.02 464.58 769.00 466.82 769.14 C469.06 769.28 471.29 762.36 473.53 762.50 C475.77 762.64 478.00 766.65 480.24 769.97 C482.48 773.29 484.71 779.93 486.95 782.42 C489.19 784.91 491.42 782.97 493.66 784.91 C495.90 786.85 498.13 792.24 500.37 794.04 C502.61 795.84 504.84 795.29 507.08 795.70 C509.32 796.12 511.55 795.84 513.79 796.53 C516.03 797.22 519.38 799.30 520.50 799.85" fill="none" stroke="#7d7440" stroke-width="0.65"/>
<path d="M393.01 845.50 C394.13 840.24 397.48 821.15 399.72 813.96 C401.96 806.77 404.19 806.63 406.43 802.34 C408.67 798.05 410.90 791.83 413.14 788.23 C415.38 784.63 417.61 783.39 419.85 780.76 C422.09 778.13 424.32 774.54 426.56 772.46 C428.80 770.38 431.03 768.86 433.27 768.31 C435.51 767.76 437.74 769.14 439.98 769.14 C442.22 769.14 444.45 768.45 446.69 768.31 C448.93 768.17 451.16 767.20 453.40 768.31 C455.64 769.42 457.87 772.60 460.11 774.95 C462.35 777.30 464.58 782.28 466.82 782.42 C469.06 782.56 471.29 775.64 473.53 775.78 C475.77 775.92 478.00 780.48 480.24 783.25 C482.48 786.02 484.71 790.44 486.95 792.38 C489.19 794.32 491.42 793.21 493.66 794.87 C495.90 796.53 498.13 800.82 500.37 802.34 C502.61 803.86 504.84 803.59 507.08 804.00 C509.32 804.41 511.55 804.14 513.79 804.83 C516.03 805.52 519.38 807.60 520.50 808.15" fill="none" stroke="#7d7440" stroke-width="0.65"/>
<path d="M393.01 845.50 C394.13 839.69 397.48 818.66 399.72 810.64 C401.96 802.62 404.19 802.06 406.43 797.36 C408.67 792.66 410.90 786.29 413.14 782.42 C415.38 778.55 417.61 776.89 419.85 774.12 C422.09 771.35 424.32 767.90 426.56 765.82 C428.80 763.75 431.03 762.22 433.27 761.67 C435.51 761.12 437.74 762.50 439.98 762.50 C442.22 762.50 444.45 761.81 446.69 761.67 C448.93 761.53 451.16 760.56 453.40 761.67 C455.64 762.78 457.87 765.96 460.11 768.31 C462.35 770.66 464.58 775.64 466.82 775.78 C469.06 775.92 471.29 769.00 473.53 769.14 C475.77 769.28 478.00 773.57 480.24 776.61 C482.48 779.65 484.71 785.19 486.95 787.40 C489.19 789.61 491.42 788.09 493.66 789.89 C495.90 791.69 498.13 796.53 500.37 798.19 C502.61 799.85 504.84 799.44 507.08 799.85 C509.32 800.26 511.55 799.99 513.79 800.68 C516.03 801.37 519.38 803.45 520.50 804.00" fill="none" stroke="#7d7440" stroke-width="0.8"/>
<rect x="391.51" y="844.0" width="3" height="3" fill="#6a5a1c" stroke="none" stroke-width="1"/>
<rect x="398.22" y="809.14" width="3" height="3" fill="#6a5a1c" stroke="none" stroke-width="1"/>
<rect x="404.93" y="795.86" width="3" height="3" fill="#6a5a1c" stroke="none" stroke-width="1"/>
<rect x="411.64" y="780.92" width="3" height="3" fill="#6a5a1c" stroke="none" stroke-width="1"/>
<rect x="418.35" y="772.62" width="3" height="3" fill="#6a5a1c" stroke="none" stroke-width="1"/>
<rect x="425.06" y="764.32" width="3" height="3" fill="#6a5a1c" stroke="none" stroke-width="1"/>
<rect x="431.77000000000004" y="760.17" width="3" height="3" fill="#6a5a1c" stroke="none" stroke-width="1"/>
<rect x="438.48" y="761.0" width="3" height="3" fill="#6a5a1c" stroke="none" stroke-width="1"/>
<rect x="445.19" y="760.17" width="3" height="3" fill="#6a5a1c" stroke="none" stroke-width="1"/>
<rect x="451.90000000000003" y="760.17" width="3" height="3" fill="#6a5a1c" stroke="none" stroke-width="1"/>
<rect x="458.61" y="766.81" width="3" height="3" fill="#6a5a1c" stroke="none" stroke-width="1"/>
<rect x="465.32000000000005" y="774.28" width="3" height="3" fill="#6a5a1c" stroke="none" stroke-width="1"/>
<rect x="472.03000000000003" y="767.64" width="3" height="3" fill="#6a5a1c" stroke="none" stroke-width="1"/>
<rect x="478.74" y="775.11" width="3" height="3" fill="#6a5a1c" stroke="none" stroke-width="1"/>
<rect x="485.45000000000005" y="785.9" width="3" height="3" fill="#6a5a1c" stroke="none" stroke-width="1"/>
<rect x="492.16" y="788.39" width="3" height="3" fill="#6a5a1c" stroke="none" stroke-width="1"/>
<rect x="498.87" y="796.69" width="3" height="3" fill="#6a5a1c" stroke="none" stroke-width="1"/>
<rect x="505.58000000000004" y="798.35" width="3" height="3" fill="#6a5a1c" stroke="none" stroke-width="1"/>
<rect x="512.29" y="799.18" width="3" height="3" fill="#6a5a1c" stroke="none" stroke-width="1"/>
<rect x="519.0" y="802.5" width="3" height="3" fill="#6a5a1c" stroke="none" stroke-width="1"/>
<path d="M393.01 844.67 C394.13 839.69 397.48 822.81 399.72 814.79 C401.96 806.77 404.19 802.20 406.43 796.53 C408.67 790.86 410.90 785.88 413.14 780.76 C415.38 775.64 417.61 770.25 419.85 765.82 C422.09 761.39 424.32 757.24 426.56 754.20 C428.80 751.16 431.03 750.60 433.27 747.56 C435.51 744.52 437.74 737.32 439.98 735.94 C442.22 734.56 444.45 738.71 446.69 739.26 C448.93 739.81 451.16 739.12 453.40 739.26 C455.64 739.40 457.87 738.71 460.11 740.09 C462.35 741.47 464.58 746.18 466.82 747.56 C469.06 748.94 471.29 747.56 473.53 748.39 C475.77 749.22 478.00 749.50 480.24 752.54 C482.48 755.58 484.71 762.36 486.95 766.65 C489.19 770.94 491.42 776.33 493.66 778.27 C495.90 780.21 498.13 776.89 500.37 778.27 C502.61 779.65 504.84 784.50 507.08 786.57 C509.32 788.65 511.55 789.75 513.79 790.72 C516.03 791.69 519.38 792.10 520.50 792.38 L520.50 799.02 C519.38 798.74 516.03 798.05 513.79 797.36 C511.55 796.67 509.32 796.67 507.08 794.87 C504.84 793.07 502.61 787.95 500.37 786.57 C498.13 785.19 495.90 788.51 493.66 786.57 C491.42 784.63 489.19 778.96 486.95 774.95 C484.71 770.94 482.48 765.27 480.24 762.50 C478.00 759.73 475.77 759.18 473.53 758.35 C471.29 757.52 469.06 758.90 466.82 757.52 C464.58 756.14 462.35 751.43 460.11 750.05 C457.87 748.67 455.64 749.36 453.40 749.22 C451.16 749.08 448.93 749.77 446.69 749.22 C444.45 748.67 442.22 744.52 439.98 745.90 C437.74 747.28 435.51 754.48 433.27 757.52 C431.03 760.56 428.80 761.12 426.56 764.16 C424.32 767.20 422.09 771.35 419.85 775.78 C417.61 780.21 415.38 785.88 413.14 790.72 C410.90 795.56 408.67 799.99 406.43 804.83 C404.19 809.67 401.96 812.99 399.72 819.77 C397.48 826.55 394.13 841.21 393.01 845.50 Z" fill="#d6f7fa"/>
<line x1="393.01" y1="844.67" x2="393.01" y2="845.50" stroke="#6ee8f5" stroke-width="0.45" opacity="0.55"/>
<line x1="399.72" y1="814.79" x2="399.72" y2="819.77" stroke="#6ee8f5" stroke-width="0.45" opacity="0.55"/>
<line x1="406.43" y1="796.53" x2="406.43" y2="804.83" stroke="#6ee8f5" stroke-width="0.45" opacity="0.55"/>
<line x1="413.14" y1="780.76" x2="413.14" y2="790.72" stroke="#6ee8f5" stroke-width="0.45" opacity="0.55"/>
<line x1="419.85" y1="765.82" x2="419.85" y2="775.78" stroke="#6ee8f5" stroke-width="0.45" opacity="0.55"/>
<line x1="426.56" y1="754.20" x2="426.56" y2="764.16" stroke="#6ee8f5" stroke-width="0.45" opacity="0.55"/>
<line x1="433.27" y1="747.56" x2="433.27" y2="757.52" stroke="#6ee8f5" stroke-width="0.45" opacity="0.55"/>
<line x1="439.98" y1="735.94" x2="439.98" y2="745.90" stroke="#6ee8f5" stroke-width="0.45" opacity="0.55"/>
<line x1="446.69" y1="739.26" x2="446.69" y2="749.22" stroke="#6ee8f5" stroke-width="0.45" opacity="0.55"/>
<line x1="453.40" y1="739.26" x2="453.40" y2="749.22" stroke="#6ee8f5" stroke-width="0.45" opacity="0.55"/>
<line x1="460.11" y1="740.09" x2="460.11" y2="750.05" stroke="#6ee8f5" stroke-width="0.45" opacity="0.55"/>
<line x1="466.82" y1="747.56" x2="466.82" y2="757.52" stroke="#6ee8f5" stroke-width="0.45" opacity="0.55"/>
<line x1="473.53" y1="748.39" x2="473.53" y2="758.35" stroke="#6ee8f5" stroke-width="0.45" opacity="0.55"/>
<line x1="480.24" y1="752.54" x2="480.24" y2="762.50" stroke="#6ee8f5" stroke-width="0.45" opacity="0.55"/>
<line x1="486.95" y1="766.65" x2="486.95" y2="774.95" stroke="#6ee8f5" stroke-width="0.45" opacity="0.55"/>
<line x1="493.66" y1="778.27" x2="493.66" y2="786.57" stroke="#6ee8f5" stroke-width="0.45" opacity="0.55"/>
<line x1="500.37" y1="778.27" x2="500.37" y2="786.57" stroke="#6ee8f5" stroke-width="0.45" opacity="0.55"/>
<line x1="507.08" y1="786.57" x2="507.08" y2="794.87" stroke="#6ee8f5" stroke-width="0.45" opacity="0.55"/>
<line x1="513.79" y1="790.72" x2="513.79" y2="797.36" stroke="#6ee8f5" stroke-width="0.45" opacity="0.55"/>
<line x1="520.50" y1="792.38" x2="520.50" y2="799.02" stroke="#6ee8f5" stroke-width="0.45" opacity="0.55"/>
<path d="M393.01 844.67 C394.13 839.69 397.48 822.81 399.72 814.79 C401.96 806.77 404.19 802.20 406.43 796.53 C408.67 790.86 410.90 785.88 413.14 780.76 C415.38 775.64 417.61 770.25 419.85 765.82 C422.09 761.39 424.32 757.24 426.56 754.20 C428.80 751.16 431.03 750.60 433.27 747.56 C435.51 744.52 437.74 737.32 439.98 735.94 C442.22 734.56 444.45 738.71 446.69 739.26 C448.93 739.81 451.16 739.12 453.40 739.26 C455.64 739.40 457.87 738.71 460.11 740.09 C462.35 741.47 464.58 746.18 466.82 747.56 C469.06 748.94 471.29 747.56 473.53 748.39 C475.77 749.22 478.00 749.50 480.24 752.54 C482.48 755.58 484.71 762.36 486.95 766.65 C489.19 770.94 491.42 776.33 493.66 778.27 C495.90 780.21 498.13 776.89 500.37 778.27 C502.61 779.65 504.84 784.50 507.08 786.57 C509.32 788.65 511.55 789.75 513.79 790.72 C516.03 791.69 519.38 792.10 520.50 792.38" fill="none" stroke="#6ee8f5" stroke-width="0.65"/>
<path d="M393.01 845.50 C394.13 841.21 397.48 826.55 399.72 819.77 C401.96 812.99 404.19 809.67 406.43 804.83 C408.67 799.99 410.90 795.56 413.14 790.72 C415.38 785.88 417.61 780.21 419.85 775.78 C422.09 771.35 424.32 767.20 426.56 764.16 C428.80 761.12 431.03 760.56 433.27 757.52 C435.51 754.48 437.74 747.28 439.98 745.90 C442.22 744.52 444.45 748.67 446.69 749.22 C448.93 749.77 451.16 749.08 453.40 749.22 C455.64 749.36 457.87 748.67 460.11 750.05 C462.35 751.43 464.58 756.14 466.82 757.52 C469.06 758.90 471.29 757.52 473.53 758.35 C475.77 759.18 478.00 759.73 480.24 762.50 C482.48 765.27 484.71 770.94 486.95 774.95 C489.19 778.96 491.42 784.63 493.66 786.57 C495.90 788.51 498.13 785.19 500.37 786.57 C502.61 787.95 504.84 793.07 507.08 794.87 C509.32 796.67 511.55 796.67 513.79 797.36 C516.03 798.05 519.38 798.74 520.50 799.02" fill="none" stroke="#6ee8f5" stroke-width="0.65"/>
<path d="M393.01 845.50 C394.13 840.80 397.48 824.75 399.72 817.28 C401.96 809.81 404.19 805.94 406.43 800.68 C408.67 795.42 410.90 790.72 413.14 785.74 C415.38 780.76 417.61 775.23 419.85 770.80 C422.09 766.37 424.32 762.22 426.56 759.18 C428.80 756.14 431.03 755.58 433.27 752.54 C435.51 749.50 437.74 742.30 439.98 740.92 C442.22 739.54 444.45 743.69 446.69 744.24 C448.93 744.79 451.16 744.10 453.40 744.24 C455.64 744.38 457.87 743.69 460.11 745.07 C462.35 746.45 464.58 751.16 466.82 752.54 C469.06 753.92 471.29 752.54 473.53 753.37 C475.77 754.20 478.00 754.62 480.24 757.52 C482.48 760.42 484.71 766.65 486.95 770.80 C489.19 774.95 491.42 780.48 493.66 782.42 C495.90 784.36 498.13 781.04 500.37 782.42 C502.61 783.80 504.84 788.78 507.08 790.72 C509.32 792.66 511.55 793.21 513.79 794.04 C516.03 794.87 519.38 795.42 520.50 795.70" fill="none" stroke="#66e6f4" stroke-width="0.8"/>
<circle cx="393.01" cy="845.50" r="1.55" fill="#5fe4f6"/>
<circle cx="399.72" cy="817.28" r="1.55" fill="#5fe4f6"/>
<circle cx="406.43" cy="800.68" r="1.55" fill="#5fe4f6"/>
<circle cx="413.14" cy="785.74" r="1.55" fill="#5fe4f6"/>
<circle cx="419.85" cy="770.80" r="1.55" fill="#5fe4f6"/>
<circle cx="426.56" cy="759.18" r="1.55" fill="#5fe4f6"/>
<circle cx="433.27" cy="752.54" r="1.55" fill="#5fe4f6"/>
<circle cx="439.98" cy="740.92" r="1.55" fill="#5fe4f6"/>
<circle cx="446.69" cy="744.24" r="1.55" fill="#5fe4f6"/>
<circle cx="453.40" cy="744.24" r="1.55" fill="#5fe4f6"/>
<circle cx="460.11" cy="745.07" r="1.55" fill="#5fe4f6"/>
<circle cx="466.82" cy="752.54" r="1.55" fill="#5fe4f6"/>
<circle cx="473.53" cy="753.37" r="1.55" fill="#5fe4f6"/>
<circle cx="480.24" cy="757.52" r="1.55" fill="#5fe4f6"/>
<circle cx="486.95" cy="770.80" r="1.55" fill="#5fe4f6"/>
<circle cx="493.66" cy="782.42" r="1.55" fill="#5fe4f6"/>
<circle cx="500.37" cy="782.42" r="1.55" fill="#5fe4f6"/>
<circle cx="507.08" cy="790.72" r="1.55" fill="#5fe4f6"/>
<circle cx="513.79" cy="794.04" r="1.55" fill="#5fe4f6"/>
<circle cx="520.50" cy="795.70" r="1.55" fill="#5fe4f6"/>
<path d="M393.01 844.67 C394.13 841.76 397.48 833.05 399.72 827.24 C401.96 821.43 404.19 812.30 406.43 809.81 C408.67 807.32 410.90 812.16 413.14 812.30 C415.38 812.44 417.61 812.30 419.85 810.64 C422.09 808.98 424.32 804.28 426.56 802.34 C428.80 800.40 431.03 800.13 433.27 799.02 C435.51 797.91 437.74 797.08 439.98 795.70 C442.22 794.32 444.45 792.38 446.69 790.72 C448.93 789.06 451.16 787.26 453.40 785.74 C455.64 784.22 457.87 781.31 460.11 781.59 C462.35 781.87 464.58 786.43 466.82 787.40 C469.06 788.37 471.29 786.85 473.53 787.40 C475.77 787.95 478.00 789.06 480.24 790.72 C482.48 792.38 484.71 795.42 486.95 797.36 C489.19 799.30 491.42 801.51 493.66 802.34 C495.90 803.17 498.13 802.62 500.37 802.34 C502.61 802.06 504.84 800.96 507.08 800.68 C509.32 800.40 511.55 800.40 513.79 800.68 C516.03 800.96 519.38 802.06 520.50 802.34 L520.50 808.98 C519.38 808.70 516.03 807.60 513.79 807.32 C511.55 807.04 509.32 807.04 507.08 807.32 C504.84 807.60 502.61 808.70 500.37 808.98 C498.13 809.26 495.90 809.81 493.66 808.98 C491.42 808.15 489.19 805.94 486.95 804.00 C484.71 802.06 482.48 799.02 480.24 797.36 C478.00 795.70 475.77 794.59 473.53 794.04 C471.29 793.49 469.06 795.01 466.82 794.04 C464.58 793.07 462.35 788.51 460.11 788.23 C457.87 787.95 455.64 790.86 453.40 792.38 C451.16 793.90 448.93 795.70 446.69 797.36 C444.45 799.02 442.22 800.96 439.98 802.34 C437.74 803.72 435.51 804.55 433.27 805.66 C431.03 806.77 428.80 807.32 426.56 808.98 C424.32 810.64 422.09 814.24 419.85 815.62 C417.61 817.00 415.38 817.42 413.14 817.28 C410.90 817.14 408.67 812.58 406.43 814.79 C404.19 817.00 401.96 825.44 399.72 830.56 C397.48 835.68 394.13 843.01 393.01 845.50 Z" fill="#d9e6d2"/>
<line x1="393.01" y1="844.67" x2="393.01" y2="845.50" stroke="#4a9e3a" stroke-width="0.45" opacity="0.55"/>
<line x1="399.72" y1="827.24" x2="399.72" y2="830.56" stroke="#4a9e3a" stroke-width="0.45" opacity="0.55"/>
<line x1="406.43" y1="809.81" x2="406.43" y2="814.79" stroke="#4a9e3a" stroke-width="0.45" opacity="0.55"/>
<line x1="413.14" y1="812.30" x2="413.14" y2="817.28" stroke="#4a9e3a" stroke-width="0.45" opacity="0.55"/>
<line x1="419.85" y1="810.64" x2="419.85" y2="815.62" stroke="#4a9e3a" stroke-width="0.45" opacity="0.55"/>
<line x1="426.56" y1="802.34" x2="426.56" y2="808.98" stroke="#4a9e3a" stroke-width="0.45" opacity="0.55"/>
<line x1="433.27" y1="799.02" x2="433.27" y2="805.66" stroke="#4a9e3a" stroke-width="0.45" opacity="0.55"/>
<line x1="439.98" y1="795.70" x2="439.98" y2="802.34" stroke="#4a9e3a" stroke-width="0.45" opacity="0.55"/>
<line x1="446.69" y1="790.72" x2="446.69" y2="797.36" stroke="#4a9e3a" stroke-width="0.45" opacity="0.55"/>
<line x1="453.40" y1="785.74" x2="453.40" y2="792.38" stroke="#4a9e3a" stroke-width="0.45" opacity="0.55"/>
<line x1="460.11" y1="781.59" x2="460.11" y2="788.23" stroke="#4a9e3a" stroke-width="0.45" opacity="0.55"/>
<line x1="466.82" y1="787.40" x2="466.82" y2="794.04" stroke="#4a9e3a" stroke-width="0.45" opacity="0.55"/>
<line x1="473.53" y1="787.40" x2="473.53" y2="794.04" stroke="#4a9e3a" stroke-width="0.45" opacity="0.55"/>
<line x1="480.24" y1="790.72" x2="480.24" y2="797.36" stroke="#4a9e3a" stroke-width="0.45" opacity="0.55"/>
<line x1="486.95" y1="797.36" x2="486.95" y2="804.00" stroke="#4a9e3a" stroke-width="0.45" opacity="0.55"/>
<line x1="493.66" y1="802.34" x2="493.66" y2="808.98" stroke="#4a9e3a" stroke-width="0.45" opacity="0.55"/>
<line x1="500.37" y1="802.34" x2="500.37" y2="808.98" stroke="#4a9e3a" stroke-width="0.45" opacity="0.55"/>
<line x1="507.08" y1="800.68" x2="507.08" y2="807.32" stroke="#4a9e3a" stroke-width="0.45" opacity="0.55"/>
<line x1="513.79" y1="800.68" x2="513.79" y2="807.32" stroke="#4a9e3a" stroke-width="0.45" opacity="0.55"/>
<line x1="520.50" y1="802.34" x2="520.50" y2="808.98" stroke="#4a9e3a" stroke-width="0.45" opacity="0.55"/>
<path d="M393.01 844.67 C394.13 841.76 397.48 833.05 399.72 827.24 C401.96 821.43 404.19 812.30 406.43 809.81 C408.67 807.32 410.90 812.16 413.14 812.30 C415.38 812.44 417.61 812.30 419.85 810.64 C422.09 808.98 424.32 804.28 426.56 802.34 C428.80 800.40 431.03 800.13 433.27 799.02 C435.51 797.91 437.74 797.08 439.98 795.70 C442.22 794.32 444.45 792.38 446.69 790.72 C448.93 789.06 451.16 787.26 453.40 785.74 C455.64 784.22 457.87 781.31 460.11 781.59 C462.35 781.87 464.58 786.43 466.82 787.40 C469.06 788.37 471.29 786.85 473.53 787.40 C475.77 787.95 478.00 789.06 480.24 790.72 C482.48 792.38 484.71 795.42 486.95 797.36 C489.19 799.30 491.42 801.51 493.66 802.34 C495.90 803.17 498.13 802.62 500.37 802.34 C502.61 802.06 504.84 800.96 507.08 800.68 C509.32 800.40 511.55 800.40 513.79 800.68 C516.03 800.96 519.38 802.06 520.50 802.34" fill="none" stroke="#4a9e3a" stroke-width="0.65"/>
<path d="M393.01 845.50 C394.13 843.01 397.48 835.68 399.72 830.56 C401.96 825.44 404.19 817.00 406.43 814.79 C408.67 812.58 410.90 817.14 413.14 817.28 C415.38 817.42 417.61 817.00 419.85 815.62 C422.09 814.24 424.32 810.64 426.56 808.98 C428.80 807.32 431.03 806.77 433.27 805.66 C435.51 804.55 437.74 803.72 439.98 802.34 C442.22 800.96 444.45 799.02 446.69 797.36 C448.93 795.70 451.16 793.90 453.40 792.38 C455.64 790.86 457.87 787.95 460.11 788.23 C462.35 788.51 464.58 793.07 466.82 794.04 C469.06 795.01 471.29 793.49 473.53 794.04 C475.77 794.59 478.00 795.70 480.24 797.36 C482.48 799.02 484.71 802.06 486.95 804.00 C489.19 805.94 491.42 808.15 493.66 808.98 C495.90 809.81 498.13 809.26 500.37 808.98 C502.61 808.70 504.84 807.60 507.08 807.32 C509.32 807.04 511.55 807.04 513.79 807.32 C516.03 807.60 519.38 808.70 520.50 808.98" fill="none" stroke="#4a9e3a" stroke-width="0.65"/>
<path d="M393.01 845.50 C394.13 842.73 397.48 834.43 399.72 828.90 C401.96 823.37 404.19 814.65 406.43 812.30 C408.67 809.95 410.90 814.65 413.14 814.79 C415.38 814.93 417.61 814.65 419.85 813.13 C422.09 811.61 424.32 807.46 426.56 805.66 C428.80 803.86 431.03 803.45 433.27 802.34 C435.51 801.23 437.74 800.40 439.98 799.02 C442.22 797.64 444.45 795.70 446.69 794.04 C448.93 792.38 451.16 790.58 453.40 789.06 C455.64 787.54 457.87 784.63 460.11 784.91 C462.35 785.19 464.58 789.75 466.82 790.72 C469.06 791.69 471.29 790.17 473.53 790.72 C475.77 791.27 478.00 792.38 480.24 794.04 C482.48 795.70 484.71 798.74 486.95 800.68 C489.19 802.62 491.42 804.83 493.66 805.66 C495.90 806.49 498.13 805.94 500.37 805.66 C502.61 805.38 504.84 804.28 507.08 804.00 C509.32 803.72 511.55 803.72 513.79 804.00 C516.03 804.28 519.38 805.38 520.50 805.66" fill="none" stroke="#4aa63a" stroke-width="0.8"/>
<polygon points="393.01,843.60 394.81,846.70 391.21,846.70" fill="#38e030"/>
<polygon points="399.72,827.00 401.52,830.10 397.92,830.10" fill="#38e030"/>
<polygon points="406.43,810.40 408.23,813.50 404.63,813.50" fill="#38e030"/>
<polygon points="413.14,812.89 414.94,815.99 411.34,815.99" fill="#38e030"/>
<polygon points="419.85,811.23 421.65,814.33 418.05,814.33" fill="#38e030"/>
<polygon points="426.56,803.76 428.36,806.86 424.76,806.86" fill="#38e030"/>
<polygon points="433.27,800.44 435.07,803.54 431.47,803.54" fill="#38e030"/>
<polygon points="439.98,797.12 441.78,800.22 438.18,800.22" fill="#38e030"/>
<polygon points="446.69,792.14 448.49,795.24 444.89,795.24" fill="#38e030"/>
<polygon points="453.40,787.16 455.20,790.26 451.60,790.26" fill="#38e030"/>
<polygon points="460.11,783.01 461.91,786.11 458.31,786.11" fill="#38e030"/>
<polygon points="466.82,788.82 468.62,791.92 465.02,791.92" fill="#38e030"/>
<polygon points="473.53,788.82 475.33,791.92 471.73,791.92" fill="#38e030"/>
<polygon points="480.24,792.14 482.04,795.24 478.44,795.24" fill="#38e030"/>
<polygon points="486.95,798.78 488.75,801.88 485.15,801.88" fill="#38e030"/>
<polygon points="493.66,803.76 495.46,806.86 491.86,806.86" fill="#38e030"/>
<polygon points="500.37,803.76 502.17,806.86 498.57,806.86" fill="#38e030"/>
<polygon points="507.08,802.10 508.88,805.20 505.28,805.20" fill="#38e030"/>
<polygon points="513.79,802.10 515.59,805.20 511.99,805.20" fill="#38e030"/>
<polygon points="520.50,803.76 522.30,806.86 518.70,806.86" fill="#38e030"/>
<line x1="488.4" y1="727.4" x2="504.09999999999997" y2="727.4" stroke="#7d7440" stroke-width="1.2"/>
<rect x="494.7" y="725.9" width="3" height="3" fill="#6a5a1c" stroke="none" stroke-width="1"/>
<text x="506.25" y="729.6999999999999" font-size="6.210000000000001" text-anchor="start" fill="#1a1a1a" stroke="#1a1a1a" stroke-width="0.3" font-weight="bold">Control</text>
<line x1="488.4" y1="736.3" x2="504.09999999999997" y2="736.3" stroke="#66e6f4" stroke-width="1.2"/>
<circle cx="496.20" cy="736.30" r="1.55" fill="#5fe4f6"/>
<text x="506.25" y="738.5999999999999" font-size="6.210000000000001" text-anchor="start" fill="#1a1a1a" stroke="#1a1a1a" stroke-width="0.3" font-weight="bold">p13f4</text>
<line x1="488.4" y1="745.1999999999999" x2="504.09999999999997" y2="745.1999999999999" stroke="#4aa63a" stroke-width="1.2"/>
<polygon points="496.20,743.30 498.00,746.40 494.40,746.40" fill="#38e030"/>
<text x="506.25" y="747.4999999999999" font-size="6.210000000000001" text-anchor="start" fill="#1a1a1a" stroke="#1a1a1a" stroke-width="0.3" font-weight="bold">p6b2</text>
<text x="457.6" y="683.7" font-size="10.5" fill="#1a1a1a" textLength="108.6" lengthAdjust="spacingAndGlyphs"><tspan font-weight="bold">CA2</tspan> pyramidal neurons</text>
<line x1="29.5" y1="689.4" x2="350.3" y2="689.4" stroke="#7a7a7a" stroke-width="2.3"/>
<line x1="361" y1="689.5" x2="664.3" y2="689.5" stroke="#7a7a7a" stroke-width="2.3"/>
<g clip-path="url(#cg1)"><rect x="221.2" y="694.6" width="128.10000000000002" height="167.19999999999993" fill="#000"/>
<path d="M238.5 702.5 Q241.6 705 241.4 709 Q240.8 713 238.6 715.5 Q236.2 713 235.7 709 Q235.6 705 238.5 702.5 Z" fill="#d4d4d4"/>
<g fill="none" stroke="#d8d8d8" stroke-width="1.4" stroke-linecap="round" stroke-linejoin="round" opacity="1"><path d="M238.5 715 L237.5 722 L236.3 730 L234.9 738.8 L232.7 746.1 L231.2 753.4 L230.6 765 L230.5 775 L230.5 786 L226.8 799.2 L223.9 818.2"/><path d="M237 731.5 L242.9 734.4 L247.3 734.4"/><path d="M234.9 744.6 L234.1 760.7 L235.6 769.5 L232.7 786 L238.5 793.4 L237.8 806.5"/><path d="M235.6 769.5 L239.2 773.8 L240 778 L242.9 787.5 L245.1 803.6 L247.3 813.8 L248 835"/><path d="M229.8 799.2 L225.4 815.3"/><path d="M247.3 808 L260.4 818.2"/><path d="M250.2 813.8 L259.7 824"/></g>
<g fill="none" stroke="#4cc4bc" stroke-width="1.0" stroke-linecap="round" stroke-linejoin="round" opacity="1"><path d="M256 720.5 L268 721 L279.4 722 L294 726.4"/><path d="M264.8 728.6 L272 727.5 L279.4 726.4"/><path d="M280.9 725.7 L295.5 727.1 L301.3 737.3 L311.5 736.6"/><path d="M259 749.7 L266 742 L273.6 735.9"/><path d="M282.3 735.9 L296.9 738.8 L305 737"/><path d="M289.6 746.1 L302.8 741.7 L313 742.4"/><path d="M250.2 759.2 L260 758 L267.7 757.8"/><path d="M283.8 752 L294 756.3"/><path d="M285.2 762.2 L296.9 768 L302.8 775 L307.1 778.8"/><path d="M248.7 784.6 L258 782 L264.8 781"/><path d="M254.6 786 L263.3 782.4"/><path d="M269.2 786 L272.8 791.9"/><path d="M294 790.4 L303 792 L311.5 795.5"/><path d="M286.7 787.5 L289.6 800.7"/><path d="M288.2 770 L298 774 L307.1 778.8"/><path d="M308.6 824 L314 829 L320.3 834.2"/></g>
<path d="M280.9 700.5 Q284.3 703 284.2 707 Q283.6 711 281 713.5 Q278.2 711 277.8 707 Q277.8 703 280.9 700.5 Z" fill="#62f0f4"/>
<g fill="none" stroke="#5ee6ec" stroke-width="1.6" stroke-linecap="round" stroke-linejoin="round" opacity="1"><path d="M280.8 713 L280.1 722 L279.2 730 L278.7 735.9 L276.5 743.2 L272.1 747.6 L269.2 757.8 L267.7 770 L265.5 789 L264.8 796.3 L269.2 805 L279.4 815.3 L289.6 822.6 L297.6 824.3"/><path d="M276.5 743.2 L279.4 746.1 L282.3 756.3 L284.5 766 L283.8 770 L282.3 784.6 L280.9 800.7"/><path d="M284.5 766 L285.2 778.8 L291.1 786 L295.5 794.8 L299.8 806.5 L304.2 818.2 L305.7 824 L311.5 832.8 L320.3 838.6"/></g>
<path d="M325.5 705 Q328.5 703 331.8 705 Q331.5 710 328.5 714.5 Q325.5 710 325.5 705 Z" fill="#3cf028"/>
<g fill="none" stroke="#3cd628" stroke-width="1.4" stroke-linecap="round" stroke-linejoin="round" opacity="1"><path d="M328.5 714 L327.5 722 L327 735 L326.5 751.3 L327.5 765 L329.6 775.8 L332.6 792.2 L332.5 810 L332.3 825 L332.2 842.3"/><path d="M332.6 796.3 L337.7 800.4 L345.9 804.5"/></g>
</g>
<g clip-path="url(#cg2)"><rect x="557.4" y="700.4" width="107.20000000000005" height="157.60000000000002" fill="#000"/>
<ellipse cx="571.2" cy="715.5" rx="2.4" ry="4.6" fill="#d6d6d6"/>
<g fill="none" stroke="#d8d8d8" stroke-width="1.7" stroke-linecap="round" stroke-linejoin="round" opacity="1"><path d="M571.2 719.5 L569.6 731.5 L568 741 L566.5 750.4 L565.7 763 L567.2 780 L568 775 L566.5 784.5 L564.1 790.8"/><path d="M568.8 745.7 L574.3 741.8 L580.6 742.6 L586.2 752 L590.9 772.5"/><path d="M566.5 750.4 L564.1 753.6 L563.3 769.4"/><path d="M567.2 778 L569.6 779.7 L572 790.8 L568 798.6"/><path d="M571.2 790.8 L572.8 803.4 L575.9 814.4 L577.5 827 L579.1 839.6"/><path d="M572 806.5 L571.2 822.3"/><path d="M574.3 819.1 L572.8 831.8 L572 841.2"/></g>
<path d="M610.6 711.5 Q613.6 715 613.4 719 Q612.8 722.5 611 724 Q608.4 722 608 718 Q608.4 714 610.6 711.5 Z" fill="#62f0f4"/>
<g fill="none" stroke="#5ae2ea" stroke-width="1.7" stroke-linecap="round" stroke-linejoin="round" opacity="1"><path d="M611.2 723.6 L612.2 731.5 L611.4 741 L613 755.2 L613.8 775 L613 789.2 L611.4 798.6 L609 809.7 L607.4 820.7 L603.5 831"/><path d="M612.2 729.2 L618.5 729.2"/><path d="M610.6 734.7 L604.3 739.4 L597.2 752"/><path d="M607.4 737.8 L602.7 747.3 L604.3 764.6"/><path d="M610.6 739.4 L605.9 752"/><path d="M612.2 736.3 L617.7 747.3"/><path d="M613.8 759.9 L619.3 769.4"/><path d="M615.3 776.5 L626.4 776.5"/><path d="M616.1 787.6 L617.7 793.9 L616.1 803.4 L616.1 812.8 L620.1 819.9 L628 821.5"/><path d="M613.8 793.9 L612.2 806.5 L610.6 819.1"/><path d="M604.3 812.8 L605.9 819.1"/></g>
<ellipse cx="646.9" cy="720.5" rx="3.8" ry="6.2" fill="#3cf028"/>
<g fill="none" stroke="#3cd628" stroke-width="1.8" stroke-linecap="round" stroke-linejoin="round" opacity="1"><path d="M646.5 726.8 L644.5 747.3 L643.7 763.1 L642.5 775 L646.1 790.8 L647.7 806.5 L648.1 828.6"/><path d="M642.9 759.9 L637.4 772.5 L636.6 780 L636.6 786"/><path d="M648.1 828.6 L642.9 834.9 L642.1 847.5"/><path d="M648.1 828.6 L650 834.9 L652.4 841.2"/></g>
</g>
<circle cx="218" cy="850" r="0.6" fill="#888"/>
</svg>
</body></html>
